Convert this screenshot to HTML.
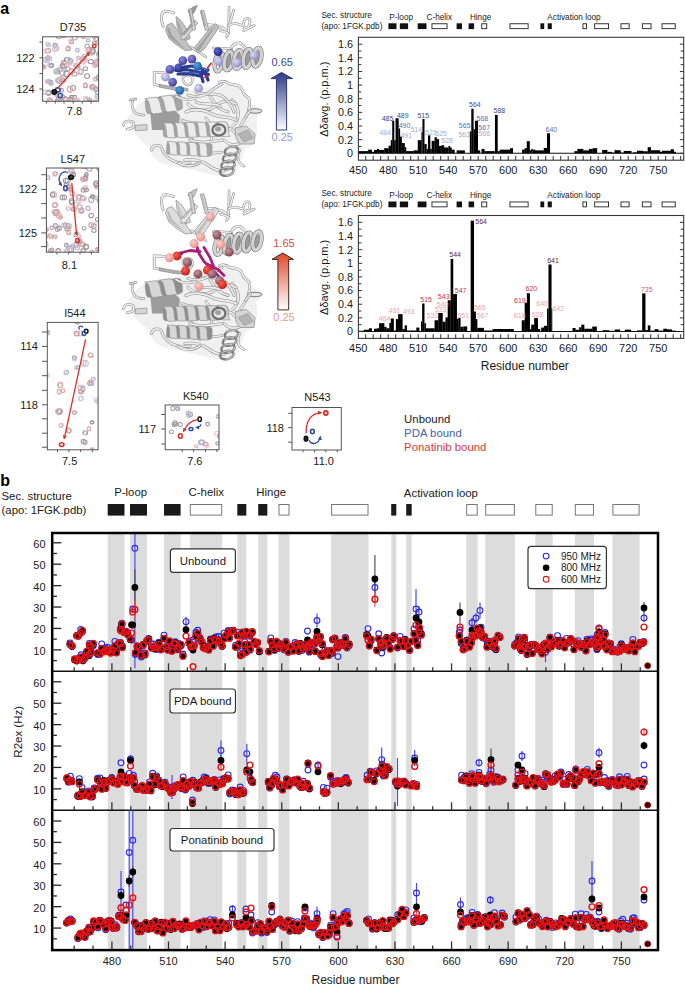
<!DOCTYPE html>
<html><head><meta charset="utf-8"><title>Figure</title>
<style>
html,body{margin:0;padding:0;background:#fff;}
body{width:685px;height:986px;overflow:hidden;position:relative;}
svg{position:absolute;left:0;top:0;display:block;}
text{font-family:"Liberation Sans", sans-serif;}
</style></head><body>
<svg width="685" height="986" viewBox="0 0 685 986" font-family="Liberation Sans, sans-serif">
<defs><radialGradient id="sbd" cx="0.38" cy="0.35" r="0.7"><stop offset="0" stop-color="#5a68c8"/><stop offset="1" stop-color="#1c2878"/></radialGradient><radialGradient id="sbl" cx="0.38" cy="0.35" r="0.7"><stop offset="0" stop-color="#dcdcf4"/><stop offset="1" stop-color="#8c8cc8"/></radialGradient><radialGradient id="sbm" cx="0.38" cy="0.35" r="0.7"><stop offset="0" stop-color="#8a8ad8"/><stop offset="1" stop-color="#38389a"/></radialGradient><radialGradient id="sbt" cx="0.38" cy="0.35" r="0.7"><stop offset="0" stop-color="#58a0e0"/><stop offset="1" stop-color="#14589e"/></radialGradient><radialGradient id="srp" cx="0.38" cy="0.35" r="0.7"><stop offset="0" stop-color="#ffd0cc"/><stop offset="1" stop-color="#e08a84"/></radialGradient><radialGradient id="srm" cx="0.38" cy="0.35" r="0.7"><stop offset="0" stop-color="#c8949a"/><stop offset="1" stop-color="#7a3e4e"/></radialGradient><radialGradient id="srr" cx="0.38" cy="0.35" r="0.7"><stop offset="0" stop-color="#ff6050"/><stop offset="1" stop-color="#c01818"/></radialGradient></defs>
<g transform="translate(0,0)">
<path d="M128 118 C134 104, 146 98, 160 96 C180 92, 200 90, 222 84 C236 82, 248 92, 252 104 C262 108, 264 114, 256 118 C258 130, 258 144, 246 148 C240 160, 238 174, 228 177 C210 176, 190 168, 172 166 C158 164, 150 156, 150 148 C140 140, 130 132, 128 118 Z" fill="#f0f0f0"/>
<path d="M232 100 C238 106, 240 114, 236 122 C232 128, 226 130, 220 126" fill="none" stroke="#8c8c8c" stroke-width="3.1" stroke-linecap="round" stroke-linejoin="round"/><path d="M232 100 C238 106, 240 114, 236 122 C232 128, 226 130, 220 126" fill="none" stroke="#ededed" stroke-width="2" stroke-linecap="round" stroke-linejoin="round"/>
<path d="M200 130 C206 136, 214 136, 220 132 C226 126, 232 128, 236 134" fill="none" stroke="#8c8c8c" stroke-width="2.9" stroke-linecap="round" stroke-linejoin="round"/><path d="M200 130 C206 136, 214 136, 220 132 C226 126, 232 128, 236 134" fill="none" stroke="#ededed" stroke-width="1.8" stroke-linecap="round" stroke-linejoin="round"/>
<path d="M188 104 C196 112, 208 112, 216 106 C222 100, 230 100, 236 104" fill="none" stroke="#8c8c8c" stroke-width="3.1" stroke-linecap="round" stroke-linejoin="round"/><path d="M188 104 C196 112, 208 112, 216 106 C222 100, 230 100, 236 104" fill="none" stroke="#ededed" stroke-width="2" stroke-linecap="round" stroke-linejoin="round"/>
<path d="M210 96 C214 104, 220 110, 228 112" fill="none" stroke="#8c8c8c" stroke-width="2.9" stroke-linecap="round" stroke-linejoin="round"/><path d="M210 96 C214 104, 220 110, 228 112" fill="none" stroke="#ededed" stroke-width="1.8" stroke-linecap="round" stroke-linejoin="round"/>
<path d="M224 140 C230 146, 236 146, 242 142" fill="none" stroke="#8c8c8c" stroke-width="2.9" stroke-linecap="round" stroke-linejoin="round"/><path d="M224 140 C230 146, 236 146, 242 142" fill="none" stroke="#ededed" stroke-width="1.8" stroke-linecap="round" stroke-linejoin="round"/>
<path d="M186 134 C192 140, 198 146, 206 146" fill="none" stroke="#8c8c8c" stroke-width="2.7" stroke-linecap="round" stroke-linejoin="round"/><path d="M186 134 C192 140, 198 146, 206 146" fill="none" stroke="#ededed" stroke-width="1.6" stroke-linecap="round" stroke-linejoin="round"/>
<path d="M240 150 C236 156, 238 164, 244 166" fill="none" stroke="#8c8c8c" stroke-width="2.7" stroke-linecap="round" stroke-linejoin="round"/><path d="M240 150 C236 156, 238 164, 244 166" fill="none" stroke="#ededed" stroke-width="1.6" stroke-linecap="round" stroke-linejoin="round"/>
<path d="M150 110 C160 106, 176 108, 180 116 L178 130 L152 130 Z" fill="#9c9c9c"/>
<path d="M185 160 C196 159, 204 162, 208 165 C214 170, 218 171, 224 171" fill="none" stroke="#8c8c8c" stroke-width="3.1" stroke-linecap="round" stroke-linejoin="round"/><path d="M185 160 C196 159, 204 162, 208 165 C214 170, 218 171, 224 171" fill="none" stroke="#ededed" stroke-width="2" stroke-linecap="round" stroke-linejoin="round"/>
<path d="M151.5 150 C152 146, 156 144, 161 146.5 C163 152, 166 157, 170 159 C176 163, 182 164, 190 162.7" fill="none" stroke="#8c8c8c" stroke-width="2.9" stroke-linecap="round" stroke-linejoin="round"/><path d="M151.5 150 C152 146, 156 144, 161 146.5 C163 152, 166 157, 170 159 C176 163, 182 164, 190 162.7" fill="none" stroke="#ededed" stroke-width="1.8" stroke-linecap="round" stroke-linejoin="round"/>
<path d="M178 163 C186 168, 196 166, 200 162" fill="none" stroke="#8c8c8c" stroke-width="2.7" stroke-linecap="round" stroke-linejoin="round"/><path d="M178 163 C186 168, 196 166, 200 162" fill="none" stroke="#ededed" stroke-width="1.6" stroke-linecap="round" stroke-linejoin="round"/>
<path d="M123.5 125.4 C124 121, 128 120, 133 122 C135 126, 134 129, 127 129" fill="none" stroke="#8c8c8c" stroke-width="2.7" stroke-linecap="round" stroke-linejoin="round"/><path d="M123.5 125.4 C124 121, 128 120, 133 122 C135 126, 134 129, 127 129" fill="none" stroke="#ededed" stroke-width="1.6" stroke-linecap="round" stroke-linejoin="round"/>
<path d="M132.8 100.8 C131 105, 133 110, 135 112.5 C138 115, 141 115, 144 115" fill="none" stroke="#8c8c8c" stroke-width="2.7" stroke-linecap="round" stroke-linejoin="round"/><path d="M132.8 100.8 C131 105, 133 110, 135 112.5 C138 115, 141 115, 144 115" fill="none" stroke="#ededed" stroke-width="1.6" stroke-linecap="round" stroke-linejoin="round"/>
<path d="M130 100 L136 99" fill="none" stroke="#8c8c8c" stroke-width="2.3" stroke-linecap="round" stroke-linejoin="round"/><path d="M130 100 L136 99" fill="none" stroke="#ededed" stroke-width="1.2" stroke-linecap="round" stroke-linejoin="round"/>
<path d="M135 125.4 L146.9 124.5 L147 130 L135.5 130.5 Z" fill="#d6d6d6" stroke="#8a8a8a" stroke-width="0.7" stroke-linejoin="round"/>
<path d="M186 112 C194 108, 204 110, 212 114 C220 118, 228 116, 236 120" fill="none" stroke="#8c8c8c" stroke-width="3.1" stroke-linecap="round" stroke-linejoin="round"/><path d="M186 112 C194 108, 204 110, 212 114 C220 118, 228 116, 236 120" fill="none" stroke="#ededed" stroke-width="2" stroke-linecap="round" stroke-linejoin="round"/>
<path d="M182 120 C190 124, 200 122, 208 126" fill="none" stroke="#8c8c8c" stroke-width="2.9" stroke-linecap="round" stroke-linejoin="round"/><path d="M182 120 C190 124, 200 122, 208 126" fill="none" stroke="#ededed" stroke-width="1.8" stroke-linecap="round" stroke-linejoin="round"/>
<path d="M196 102 C204 106, 212 102, 220 106" fill="none" stroke="#8c8c8c" stroke-width="2.9" stroke-linecap="round" stroke-linejoin="round"/><path d="M196 102 C204 106, 212 102, 220 106" fill="none" stroke="#ededed" stroke-width="1.8" stroke-linecap="round" stroke-linejoin="round"/>
<path d="M206 118 C212 126, 214 136, 210 142" fill="none" stroke="#8c8c8c" stroke-width="2.9" stroke-linecap="round" stroke-linejoin="round"/><path d="M206 118 C212 126, 214 136, 210 142" fill="none" stroke="#ededed" stroke-width="1.8" stroke-linecap="round" stroke-linejoin="round"/>
<path d="M190 140 C200 144, 212 142, 222 140" fill="none" stroke="#8c8c8c" stroke-width="2.9" stroke-linecap="round" stroke-linejoin="round"/><path d="M190 140 C200 144, 212 142, 222 140" fill="none" stroke="#ededed" stroke-width="1.8" stroke-linecap="round" stroke-linejoin="round"/>
<path d="M200 156 C206 152, 214 154, 222 152" fill="none" stroke="#8c8c8c" stroke-width="2.7" stroke-linecap="round" stroke-linejoin="round"/><path d="M200 156 C206 152, 214 154, 222 152" fill="none" stroke="#ededed" stroke-width="1.6" stroke-linecap="round" stroke-linejoin="round"/>
<path d="M196 92 C204 96, 214 92, 222 96 C228 100, 232 106, 234 112" fill="none" stroke="#8c8c8c" stroke-width="2.9" stroke-linecap="round" stroke-linejoin="round"/><path d="M196 92 C204 96, 214 92, 222 96 C228 100, 232 106, 234 112" fill="none" stroke="#ededed" stroke-width="1.8" stroke-linecap="round" stroke-linejoin="round"/>
<path d="M219.3 82.6 C222 81, 226 81, 228.5 83.6 C232 85, 238 84, 240.8 87.7 C243 90, 243 93, 243.8 93.8 C246 96, 249 97, 249.5 100 C250 104, 249 110, 247.9 113.2 C246 117, 244 120, 240.8 125" fill="none" stroke="#8c8c8c" stroke-width="2.9" stroke-linecap="round" stroke-linejoin="round"/><path d="M219.3 82.6 C222 81, 226 81, 228.5 83.6 C232 85, 238 84, 240.8 87.7 C243 90, 243 93, 243.8 93.8 C246 96, 249 97, 249.5 100 C250 104, 249 110, 247.9 113.2 C246 117, 244 120, 240.8 125" fill="none" stroke="#ededed" stroke-width="1.8" stroke-linecap="round" stroke-linejoin="round"/>
<ellipse cx="255" cy="111" rx="7" ry="2.2" fill="#e6e6e6" stroke="#777" stroke-width="1"/>
<path d="M245.7 117 L250.4 110" fill="none" stroke="#8c8c8c" stroke-width="2.5" stroke-linecap="round" stroke-linejoin="round"/><path d="M245.7 117 L250.4 110" fill="none" stroke="#ededed" stroke-width="1.4" stroke-linecap="round" stroke-linejoin="round"/>
<g transform="translate(163.2,130.5) rotate(-1.33)"><rect x="0" y="-6.81" width="64.82" height="13.62" rx="2.96" fill="#a6a6a6" stroke="#8e8e8e" stroke-width="0.6"/><path d="M0 -7.4 C4.86 -5.92 1.62 5.92 4.86 7.4 L12.86 7.4 C9.61 5.92 12.86 -5.92 7.99 -7.4 Z" fill="#ebebeb" stroke="#8e8e8e" stroke-width="0.6"/><path d="M10.8 -7.4 C15.66 -5.92 12.42 5.92 15.66 7.4 L23.66 7.4 C20.42 5.92 23.66 -5.92 18.8 -7.4 Z" fill="#ebebeb" stroke="#8e8e8e" stroke-width="0.6"/><path d="M21.61 -7.4 C26.47 -5.92 23.23 5.92 26.47 7.4 L34.46 7.4 C31.22 5.92 34.46 -5.92 29.6 -7.4 Z" fill="#ebebeb" stroke="#8e8e8e" stroke-width="0.6"/><path d="M32.41 -7.4 C37.27 -5.92 34.03 5.92 37.27 7.4 L45.26 7.4 C42.02 5.92 45.26 -5.92 40.4 -7.4 Z" fill="#ebebeb" stroke="#8e8e8e" stroke-width="0.6"/><path d="M43.21 -7.4 C48.07 -5.92 44.83 5.92 48.07 7.4 L56.07 7.4 C52.83 5.92 56.07 -5.92 51.21 -7.4 Z" fill="#ebebeb" stroke="#8e8e8e" stroke-width="0.6"/><path d="M54.01 -7.4 C58.88 -5.92 55.63 5.92 58.88 7.4 L66.87 7.4 C63.63 5.92 66.87 -5.92 62.01 -7.4 Z" fill="#ebebeb" stroke="#8e8e8e" stroke-width="0.6"/></g>
<g transform="translate(166.7,148) rotate(2.53)"><rect x="0" y="-6.07" width="45.34" height="12.14" rx="2.64" fill="#a6a6a6" stroke="#8e8e8e" stroke-width="0.6"/><path d="M0 -6.6 C4.53 -5.28 1.51 5.28 4.53 6.6 L11.99 6.6 C8.97 5.28 11.99 -5.28 7.46 -6.6 Z" fill="#ebebeb" stroke="#8e8e8e" stroke-width="0.6"/><path d="M10.08 -6.6 C14.61 -5.28 11.59 5.28 14.61 6.6 L22.07 6.6 C19.04 5.28 22.07 -5.28 17.53 -6.6 Z" fill="#ebebeb" stroke="#8e8e8e" stroke-width="0.6"/><path d="M20.15 -6.6 C24.69 -5.28 21.66 5.28 24.69 6.6 L32.14 6.6 C29.12 5.28 32.14 -5.28 27.61 -6.6 Z" fill="#ebebeb" stroke="#8e8e8e" stroke-width="0.6"/><path d="M30.23 -6.6 C34.76 -5.28 31.74 5.28 34.76 6.6 L42.22 6.6 C39.2 5.28 42.22 -5.28 37.69 -6.6 Z" fill="#ebebeb" stroke="#8e8e8e" stroke-width="0.6"/></g>
<g transform="translate(145.7,106.7) rotate(-7.38)"><rect x="0" y="-7.54" width="36.6" height="15.09" rx="3.28" fill="#a6a6a6" stroke="#8e8e8e" stroke-width="0.6"/><path d="M0 -8.2 C6.59 -6.56 2.2 6.56 6.59 8.2 L17.42 8.2 C13.03 6.56 17.42 -6.56 10.83 -8.2 Z" fill="#ebebeb" stroke="#8e8e8e" stroke-width="0.6"/><path d="M14.64 -8.2 C21.23 -6.56 16.84 6.56 21.23 8.2 L32.06 8.2 C27.67 6.56 32.06 -6.56 25.48 -8.2 Z" fill="#ebebeb" stroke="#8e8e8e" stroke-width="0.6"/></g>
<path d="M235 128 L246 126 L255 134 L254 144 L240 144 L236 138 Z" fill="#d4d4d4" stroke="#8a8a8a" stroke-width="0.7" stroke-linejoin="round"/>
<path d="M238 134 L248 130 L253 138 L244 142 Z" fill="#b4b4b4" stroke="#999" stroke-width="0.7" stroke-linejoin="round"/>
<ellipse cx="218.9" cy="129.9" rx="6.5" ry="5.6" fill="#e4e4e4" stroke="#6e6e6e" stroke-width="2.2"/>
<ellipse cx="218" cy="129" rx="3" ry="2.4" fill="#a0a0a0"/>
<ellipse cx="231.5" cy="151" rx="6.8" ry="4.2" transform="rotate(-12 231.5 151)" fill="none" stroke="#7e7e7e" stroke-width="2.4"/><ellipse cx="231.5" cy="151" rx="6.8" ry="4.2" transform="rotate(-12 231.5 151)" fill="none" stroke="#dcdcdc" stroke-width="0.84" stroke-dasharray="10.2 10.88"/><ellipse cx="229.6" cy="158" rx="6.8" ry="4.2" transform="rotate(-12 229.6 158)" fill="none" stroke="#7e7e7e" stroke-width="2.4"/><ellipse cx="229.6" cy="158" rx="6.8" ry="4.2" transform="rotate(-12 229.6 158)" fill="none" stroke="#dcdcdc" stroke-width="0.84" stroke-dasharray="10.2 10.88"/><ellipse cx="228" cy="165" rx="6.8" ry="4.2" transform="rotate(-12 228 165)" fill="none" stroke="#7e7e7e" stroke-width="2.4"/><ellipse cx="228" cy="165" rx="6.8" ry="4.2" transform="rotate(-12 228 165)" fill="none" stroke="#dcdcdc" stroke-width="0.84" stroke-dasharray="10.2 10.88"/><ellipse cx="226.8" cy="171.5" rx="6.8" ry="4.2" transform="rotate(-12 226.8 171.5)" fill="none" stroke="#7e7e7e" stroke-width="2.4"/><ellipse cx="226.8" cy="171.5" rx="6.8" ry="4.2" transform="rotate(-12 226.8 171.5)" fill="none" stroke="#dcdcdc" stroke-width="0.84" stroke-dasharray="10.2 10.88"/>
<path d="M165.4 72.9 L154.2 72.4 L154.2 84.6 L160.3 85.7" fill="none" stroke="#8c8c8c" stroke-width="2.7" stroke-linecap="round" stroke-linejoin="round"/><path d="M165.4 72.9 L154.2 72.4 L154.2 84.6 L160.3 85.7" fill="none" stroke="#ededed" stroke-width="1.6" stroke-linecap="round" stroke-linejoin="round"/>
<path d="M159.3 84.4 L175.7 87.2 L188 88.4 L188 91 L175.7 90.2 L159.3 87.2 Z" fill="#b0b0b0" stroke="#8a8a8a" stroke-width="0.7" stroke-linejoin="round"/>
<path d="M184 82 C181 78, 184 75, 188 75 C193 75, 194 80, 191 84 C188 86, 185 85, 184 82" fill="none" stroke="#8c8c8c" stroke-width="2.3" stroke-linecap="round" stroke-linejoin="round"/><path d="M184 82 C181 78, 184 75, 188 75 C193 75, 194 80, 191 84 C188 86, 185 85, 184 82" fill="none" stroke="#ededed" stroke-width="1.2" stroke-linecap="round" stroke-linejoin="round"/>
<path d="M188 95 C196 98, 204 96, 210 92 C214 88, 218 86, 222 84" fill="none" stroke="#8c8c8c" stroke-width="2.9" stroke-linecap="round" stroke-linejoin="round"/><path d="M188 95 C196 98, 204 96, 210 92 C214 88, 218 86, 222 84" fill="none" stroke="#ededed" stroke-width="1.8" stroke-linecap="round" stroke-linejoin="round"/>
<path d="M176 96 C182 100, 190 100, 196 98" fill="none" stroke="#8c8c8c" stroke-width="2.7" stroke-linecap="round" stroke-linejoin="round"/><path d="M176 96 C182 100, 190 100, 196 98" fill="none" stroke="#ededed" stroke-width="1.6" stroke-linecap="round" stroke-linejoin="round"/>
<path d="M163.1 26.3 C161 20, 161.5 15, 162.3 13.1 C164 11, 166 11, 167.5 11.4 C170 11.5, 172 12.2, 173.6 13.1" fill="none" stroke="#8c8c8c" stroke-width="2.9" stroke-linecap="round" stroke-linejoin="round"/><path d="M163.1 26.3 C161 20, 161.5 15, 162.3 13.1 C164 11, 166 11, 167.5 11.4 C170 11.5, 172 12.2, 173.6 13.1" fill="none" stroke="#ededed" stroke-width="1.8" stroke-linecap="round" stroke-linejoin="round"/>
<path d="M202 12.3 C203 14, 204 16, 204 16.3 C205 20, 205 23, 205.1 24.5 C208 25, 211 25, 214.3 25.5 C218 26, 220 27, 222.5 27.6 C225 29, 226 30, 227.6 31.7" fill="none" stroke="#8c8c8c" stroke-width="2.9" stroke-linecap="round" stroke-linejoin="round"/><path d="M202 12.3 C203 14, 204 16, 204 16.3 C205 20, 205 23, 205.1 24.5 C208 25, 211 25, 214.3 25.5 C218 26, 220 27, 222.5 27.6 C225 29, 226 30, 227.6 31.7" fill="none" stroke="#ededed" stroke-width="1.8" stroke-linecap="round" stroke-linejoin="round"/>
<path d="M229.1 7.2 L228.6 32.7" fill="none" stroke="#8c8c8c" stroke-width="2.6" stroke-linecap="round" stroke-linejoin="round"/><path d="M229.1 7.2 L228.6 32.7" fill="none" stroke="#ededed" stroke-width="1.5" stroke-linecap="round" stroke-linejoin="round"/>
<path d="M233.7 10.2 L229.6 24.5" fill="none" stroke="#8c8c8c" stroke-width="2.6" stroke-linecap="round" stroke-linejoin="round"/><path d="M233.7 10.2 L229.6 24.5" fill="none" stroke="#ededed" stroke-width="1.5" stroke-linecap="round" stroke-linejoin="round"/>
<path d="M228.6 25.5 C231 24, 233 23.5, 235.8 23.5 C238 24, 241 25, 242.9 25.5 C244 23, 244 20, 245 19.4 C246 18.5, 247 18, 248 18.4 C249.5 19, 250 20, 250 21.5 C250 24, 249 26, 248 26.6 C247 27, 246 27, 245 27.6 C244 29, 244 30, 243.9 30.7 C247 29, 251 27, 254.2 25.5" fill="none" stroke="#8c8c8c" stroke-width="2.6" stroke-linecap="round" stroke-linejoin="round"/><path d="M228.6 25.5 C231 24, 233 23.5, 235.8 23.5 C238 24, 241 25, 242.9 25.5 C244 23, 244 20, 245 19.4 C246 18.5, 247 18, 248 18.4 C249.5 19, 250 20, 250 21.5 C250 24, 249 26, 248 26.6 C247 27, 246 27, 245 27.6 C244 29, 244 30, 243.9 30.7 C247 29, 251 27, 254.2 25.5" fill="none" stroke="#ededed" stroke-width="1.5" stroke-linecap="round" stroke-linejoin="round"/>
<path d="M220.4 30.7 C224 31, 226 32, 228.6 33.7 C228 35, 227 36, 226.6 36.8" fill="none" stroke="#8c8c8c" stroke-width="2.6" stroke-linecap="round" stroke-linejoin="round"/><path d="M220.4 30.7 C224 31, 226 32, 228.6 33.7 C228 35, 227 36, 226.6 36.8" fill="none" stroke="#ededed" stroke-width="1.5" stroke-linecap="round" stroke-linejoin="round"/>
<path d="M230.7 51.1 C231 48, 233 45, 234.7 43.9 C236 43, 238 42.8, 239.9 42.9 C242 44, 244 46, 245 48 C246 50, 246.5 51, 247 52.1" fill="none" stroke="#8c8c8c" stroke-width="2.9" stroke-linecap="round" stroke-linejoin="round"/><path d="M230.7 51.1 C231 48, 233 45, 234.7 43.9 C236 43, 238 42.8, 239.9 42.9 C242 44, 244 46, 245 48 C246 50, 246.5 51, 247 52.1" fill="none" stroke="#ededed" stroke-width="1.8" stroke-linecap="round" stroke-linejoin="round"/>
<path d="M213.3 48 C220 48, 226 48.5, 230.7 49" fill="none" stroke="#8c8c8c" stroke-width="2.6" stroke-linecap="round" stroke-linejoin="round"/><path d="M213.3 48 C220 48, 226 48.5, 230.7 49" fill="none" stroke="#ededed" stroke-width="1.5" stroke-linecap="round" stroke-linejoin="round"/>
<path d="M191.2 47.3 C196 50, 202 54, 206 56.9" fill="none" stroke="#8c8c8c" stroke-width="2.5" stroke-linecap="round" stroke-linejoin="round"/><path d="M191.2 47.3 C196 50, 202 54, 206 56.9" fill="none" stroke="#ededed" stroke-width="1.4" stroke-linecap="round" stroke-linejoin="round"/>
<path d="M187.7 11.4 L192.9 7 L197.3 5.3 L196 8.5 L193.8 13.1 L190 13.5 Z" fill="#9a9a9a" stroke="#8a8a8a" stroke-width="0.7" stroke-linejoin="round"/>
<path d="M191.2 13.1 L192.9 21.9" fill="none" stroke="#8c8c8c" stroke-width="2.5" stroke-linecap="round" stroke-linejoin="round"/><path d="M191.2 13.1 L192.9 21.9" fill="none" stroke="#ededed" stroke-width="1.4" stroke-linecap="round" stroke-linejoin="round"/>
<path d="M167 25 L172 23 L180 33 L188 44 L192 50 L185 50.5 L176 44.5 L169 38.5 L165.5 30 Z" fill="#c2c2c2" stroke="#8a8a8a" stroke-width="0.7" stroke-linejoin="round"/>
<path d="M167 27.5 L169 37 L177 43.5 L186 49.8 L179 43 L172 35.5 L169.5 28.5 Z" fill="#a0a0a0" stroke="none" stroke-width="0" stroke-linejoin="round"/>
<path d="M176 16.5 L181 20.5 L188 31 L190.5 38.5 L185.5 40.5 L180 34 L177 26 Z" fill="#c2c2c2" stroke="#8a8a8a" stroke-width="0.7" stroke-linejoin="round"/>
<path d="M177 19 L178.5 27 L183 35 L186 39.5 L182 31 L179 23 Z" fill="#a0a0a0" stroke="none" stroke-width="0" stroke-linejoin="round"/>
<path d="M194.14 19.99 L182.46 34.39 L181.34 33.48 L181 40 L187.31 38.32 L186.19 37.41 L197.86 23.01 Z" fill="#d6d6d6" stroke="#888" stroke-width="0.7" stroke-linejoin="round"/>
<path d="M194.32 20.14 L182.65 34.54 L184.14 35.75 L195.81 21.35 Z" fill="#a0a0a0"/>
<path d="M194.5 47.5 L210 28 L215.5 23.5 L219 27.5 L204 49.5 L198 53 Z" fill="#c2c2c2" stroke="#8a8a8a" stroke-width="0.7" stroke-linejoin="round"/>
<path d="M196 49.5 L211 30 L216 25.5 L206 40 L199.5 50.5 Z" fill="#a0a0a0" stroke="none" stroke-width="0" stroke-linejoin="round"/>
<path d="M200.3 10.93 L205.3 30.43 L208.7 29.57 L203.7 10.07 Z" fill="#d2d2d2" stroke="#888" stroke-width="0.7" stroke-linejoin="round"/>
<path d="M200.47 10.89 L204.52 26.66 L205.87 26.31 L201.83 10.54 Z" fill="#a0a0a0"/>
<path d="M188.43 9.3 L192.43 30.3 L195.57 29.7 L191.57 8.7 Z" fill="#d8d8d8" stroke="#888" stroke-width="0.7" stroke-linejoin="round"/>
<path d="M188.59 9.27 L191.93 26.81 L193.18 26.57 L189.84 9.03 Z" fill="#a0a0a0"/>
<g transform="translate(219,62) rotate(-7.13)"><rect x="-0.96" y="-7.99" width="42.23" height="15.98" rx="4.7" fill="#9c9c9c"/><ellipse cx="0" cy="0" rx="4.03" ry="9.4" transform="rotate(18 0 0)" fill="none" stroke="#6c6c6c" stroke-width="4.5"/><ellipse cx="0" cy="0" rx="4.03" ry="9.4" transform="rotate(18 0 0)" fill="none" stroke="#d2d2d2" stroke-width="3.4"/><ellipse cx="9.6" cy="0" rx="4.03" ry="9.4" transform="rotate(18 9.6 0)" fill="none" stroke="#6c6c6c" stroke-width="4.5"/><ellipse cx="9.6" cy="0" rx="4.03" ry="9.4" transform="rotate(18 9.6 0)" fill="none" stroke="#d2d2d2" stroke-width="3.4"/><ellipse cx="19.2" cy="0" rx="4.03" ry="9.4" transform="rotate(18 19.2 0)" fill="none" stroke="#6c6c6c" stroke-width="4.5"/><ellipse cx="19.2" cy="0" rx="4.03" ry="9.4" transform="rotate(18 19.2 0)" fill="none" stroke="#d2d2d2" stroke-width="3.4"/><ellipse cx="28.79" cy="0" rx="4.03" ry="9.4" transform="rotate(18 28.79 0)" fill="none" stroke="#6c6c6c" stroke-width="4.5"/><ellipse cx="28.79" cy="0" rx="4.03" ry="9.4" transform="rotate(18 28.79 0)" fill="none" stroke="#d2d2d2" stroke-width="3.4"/><ellipse cx="38.39" cy="0" rx="4.03" ry="9.4" transform="rotate(18 38.39 0)" fill="none" stroke="#6c6c6c" stroke-width="4.5"/><ellipse cx="38.39" cy="0" rx="4.03" ry="9.4" transform="rotate(18 38.39 0)" fill="none" stroke="#d2d2d2" stroke-width="3.4"/></g>
<g stroke-linecap="round" stroke-linejoin="round" fill="none"><path d="M175.7 70.3 L186 69.5 L196 71.5 L208.4 74.4 M200 67 L204 72 L208 70 M201 74 L203 81.6 M206 75 L208 80 M178 74 L190 74 L200 76 M184 67 L192 66 L198 68" stroke="#2c3a94" stroke-width="3.2"/><path d="M180 72 L196 73 M196 70 L204 68 L208 71" stroke="#4a58b0" stroke-width="1.6"/><path d="M207.5 68 L211 63.5 M205 77 L208 76" stroke="#c8303e" stroke-width="1.8"/></g>
<circle cx="218" cy="51.6" r="4.4" fill="url(#sbd)"/>
<circle cx="218.7" cy="61.3" r="4.4" fill="url(#sbl)"/>
<circle cx="236.8" cy="62.8" r="4.4" fill="url(#sbl)"/>
<circle cx="253.9" cy="55.4" r="4.4" fill="url(#sbl)"/>
<circle cx="182.8" cy="60.6" r="4.4" fill="url(#sbm)"/>
<circle cx="192" cy="59.1" r="4.4" fill="url(#sbm)"/>
<circle cx="197.6" cy="66.2" r="4.4" fill="url(#sbt)"/>
<circle cx="178.7" cy="67.8" r="4.4" fill="url(#sbd)"/>
<circle cx="170" cy="69.3" r="4.4" fill="url(#sbm)"/>
<circle cx="165.4" cy="77" r="4.4" fill="url(#sbl)"/>
<circle cx="172.6" cy="82.1" r="4.4" fill="url(#sbm)"/>
<circle cx="179.7" cy="90.3" r="4.4" fill="url(#sbt)"/>
<circle cx="198.6" cy="88.2" r="4.4" fill="url(#sbl)"/>
</g>
<g transform="translate(0,183.5)">
<path d="M128 118 C134 104, 146 98, 160 96 C180 92, 200 90, 222 84 C236 82, 248 92, 252 104 C262 108, 264 114, 256 118 C258 130, 258 144, 246 148 C240 160, 238 174, 228 177 C210 176, 190 168, 172 166 C158 164, 150 156, 150 148 C140 140, 130 132, 128 118 Z" fill="#f0f0f0"/>
<path d="M232 100 C238 106, 240 114, 236 122 C232 128, 226 130, 220 126" fill="none" stroke="#8c8c8c" stroke-width="3.1" stroke-linecap="round" stroke-linejoin="round"/><path d="M232 100 C238 106, 240 114, 236 122 C232 128, 226 130, 220 126" fill="none" stroke="#ededed" stroke-width="2" stroke-linecap="round" stroke-linejoin="round"/>
<path d="M200 130 C206 136, 214 136, 220 132 C226 126, 232 128, 236 134" fill="none" stroke="#8c8c8c" stroke-width="2.9" stroke-linecap="round" stroke-linejoin="round"/><path d="M200 130 C206 136, 214 136, 220 132 C226 126, 232 128, 236 134" fill="none" stroke="#ededed" stroke-width="1.8" stroke-linecap="round" stroke-linejoin="round"/>
<path d="M188 104 C196 112, 208 112, 216 106 C222 100, 230 100, 236 104" fill="none" stroke="#8c8c8c" stroke-width="3.1" stroke-linecap="round" stroke-linejoin="round"/><path d="M188 104 C196 112, 208 112, 216 106 C222 100, 230 100, 236 104" fill="none" stroke="#ededed" stroke-width="2" stroke-linecap="round" stroke-linejoin="round"/>
<path d="M210 96 C214 104, 220 110, 228 112" fill="none" stroke="#8c8c8c" stroke-width="2.9" stroke-linecap="round" stroke-linejoin="round"/><path d="M210 96 C214 104, 220 110, 228 112" fill="none" stroke="#ededed" stroke-width="1.8" stroke-linecap="round" stroke-linejoin="round"/>
<path d="M224 140 C230 146, 236 146, 242 142" fill="none" stroke="#8c8c8c" stroke-width="2.9" stroke-linecap="round" stroke-linejoin="round"/><path d="M224 140 C230 146, 236 146, 242 142" fill="none" stroke="#ededed" stroke-width="1.8" stroke-linecap="round" stroke-linejoin="round"/>
<path d="M186 134 C192 140, 198 146, 206 146" fill="none" stroke="#8c8c8c" stroke-width="2.7" stroke-linecap="round" stroke-linejoin="round"/><path d="M186 134 C192 140, 198 146, 206 146" fill="none" stroke="#ededed" stroke-width="1.6" stroke-linecap="round" stroke-linejoin="round"/>
<path d="M240 150 C236 156, 238 164, 244 166" fill="none" stroke="#8c8c8c" stroke-width="2.7" stroke-linecap="round" stroke-linejoin="round"/><path d="M240 150 C236 156, 238 164, 244 166" fill="none" stroke="#ededed" stroke-width="1.6" stroke-linecap="round" stroke-linejoin="round"/>
<path d="M150 110 C160 106, 176 108, 180 116 L178 130 L152 130 Z" fill="#9c9c9c"/>
<path d="M185 160 C196 159, 204 162, 208 165 C214 170, 218 171, 224 171" fill="none" stroke="#8c8c8c" stroke-width="3.1" stroke-linecap="round" stroke-linejoin="round"/><path d="M185 160 C196 159, 204 162, 208 165 C214 170, 218 171, 224 171" fill="none" stroke="#ededed" stroke-width="2" stroke-linecap="round" stroke-linejoin="round"/>
<path d="M151.5 150 C152 146, 156 144, 161 146.5 C163 152, 166 157, 170 159 C176 163, 182 164, 190 162.7" fill="none" stroke="#8c8c8c" stroke-width="2.9" stroke-linecap="round" stroke-linejoin="round"/><path d="M151.5 150 C152 146, 156 144, 161 146.5 C163 152, 166 157, 170 159 C176 163, 182 164, 190 162.7" fill="none" stroke="#ededed" stroke-width="1.8" stroke-linecap="round" stroke-linejoin="round"/>
<path d="M178 163 C186 168, 196 166, 200 162" fill="none" stroke="#8c8c8c" stroke-width="2.7" stroke-linecap="round" stroke-linejoin="round"/><path d="M178 163 C186 168, 196 166, 200 162" fill="none" stroke="#ededed" stroke-width="1.6" stroke-linecap="round" stroke-linejoin="round"/>
<path d="M123.5 125.4 C124 121, 128 120, 133 122 C135 126, 134 129, 127 129" fill="none" stroke="#8c8c8c" stroke-width="2.7" stroke-linecap="round" stroke-linejoin="round"/><path d="M123.5 125.4 C124 121, 128 120, 133 122 C135 126, 134 129, 127 129" fill="none" stroke="#ededed" stroke-width="1.6" stroke-linecap="round" stroke-linejoin="round"/>
<path d="M132.8 100.8 C131 105, 133 110, 135 112.5 C138 115, 141 115, 144 115" fill="none" stroke="#8c8c8c" stroke-width="2.7" stroke-linecap="round" stroke-linejoin="round"/><path d="M132.8 100.8 C131 105, 133 110, 135 112.5 C138 115, 141 115, 144 115" fill="none" stroke="#ededed" stroke-width="1.6" stroke-linecap="round" stroke-linejoin="round"/>
<path d="M130 100 L136 99" fill="none" stroke="#8c8c8c" stroke-width="2.3" stroke-linecap="round" stroke-linejoin="round"/><path d="M130 100 L136 99" fill="none" stroke="#ededed" stroke-width="1.2" stroke-linecap="round" stroke-linejoin="round"/>
<path d="M135 125.4 L146.9 124.5 L147 130 L135.5 130.5 Z" fill="#d6d6d6" stroke="#8a8a8a" stroke-width="0.7" stroke-linejoin="round"/>
<path d="M186 112 C194 108, 204 110, 212 114 C220 118, 228 116, 236 120" fill="none" stroke="#8c8c8c" stroke-width="3.1" stroke-linecap="round" stroke-linejoin="round"/><path d="M186 112 C194 108, 204 110, 212 114 C220 118, 228 116, 236 120" fill="none" stroke="#ededed" stroke-width="2" stroke-linecap="round" stroke-linejoin="round"/>
<path d="M182 120 C190 124, 200 122, 208 126" fill="none" stroke="#8c8c8c" stroke-width="2.9" stroke-linecap="round" stroke-linejoin="round"/><path d="M182 120 C190 124, 200 122, 208 126" fill="none" stroke="#ededed" stroke-width="1.8" stroke-linecap="round" stroke-linejoin="round"/>
<path d="M196 102 C204 106, 212 102, 220 106" fill="none" stroke="#8c8c8c" stroke-width="2.9" stroke-linecap="round" stroke-linejoin="round"/><path d="M196 102 C204 106, 212 102, 220 106" fill="none" stroke="#ededed" stroke-width="1.8" stroke-linecap="round" stroke-linejoin="round"/>
<path d="M206 118 C212 126, 214 136, 210 142" fill="none" stroke="#8c8c8c" stroke-width="2.9" stroke-linecap="round" stroke-linejoin="round"/><path d="M206 118 C212 126, 214 136, 210 142" fill="none" stroke="#ededed" stroke-width="1.8" stroke-linecap="round" stroke-linejoin="round"/>
<path d="M190 140 C200 144, 212 142, 222 140" fill="none" stroke="#8c8c8c" stroke-width="2.9" stroke-linecap="round" stroke-linejoin="round"/><path d="M190 140 C200 144, 212 142, 222 140" fill="none" stroke="#ededed" stroke-width="1.8" stroke-linecap="round" stroke-linejoin="round"/>
<path d="M200 156 C206 152, 214 154, 222 152" fill="none" stroke="#8c8c8c" stroke-width="2.7" stroke-linecap="round" stroke-linejoin="round"/><path d="M200 156 C206 152, 214 154, 222 152" fill="none" stroke="#ededed" stroke-width="1.6" stroke-linecap="round" stroke-linejoin="round"/>
<path d="M196 92 C204 96, 214 92, 222 96 C228 100, 232 106, 234 112" fill="none" stroke="#8c8c8c" stroke-width="2.9" stroke-linecap="round" stroke-linejoin="round"/><path d="M196 92 C204 96, 214 92, 222 96 C228 100, 232 106, 234 112" fill="none" stroke="#ededed" stroke-width="1.8" stroke-linecap="round" stroke-linejoin="round"/>
<path d="M219.3 82.6 C222 81, 226 81, 228.5 83.6 C232 85, 238 84, 240.8 87.7 C243 90, 243 93, 243.8 93.8 C246 96, 249 97, 249.5 100 C250 104, 249 110, 247.9 113.2 C246 117, 244 120, 240.8 125" fill="none" stroke="#8c8c8c" stroke-width="2.9" stroke-linecap="round" stroke-linejoin="round"/><path d="M219.3 82.6 C222 81, 226 81, 228.5 83.6 C232 85, 238 84, 240.8 87.7 C243 90, 243 93, 243.8 93.8 C246 96, 249 97, 249.5 100 C250 104, 249 110, 247.9 113.2 C246 117, 244 120, 240.8 125" fill="none" stroke="#ededed" stroke-width="1.8" stroke-linecap="round" stroke-linejoin="round"/>
<ellipse cx="255" cy="111" rx="7" ry="2.2" fill="#e6e6e6" stroke="#777" stroke-width="1"/>
<path d="M245.7 117 L250.4 110" fill="none" stroke="#8c8c8c" stroke-width="2.5" stroke-linecap="round" stroke-linejoin="round"/><path d="M245.7 117 L250.4 110" fill="none" stroke="#ededed" stroke-width="1.4" stroke-linecap="round" stroke-linejoin="round"/>
<g transform="translate(163.2,130.5) rotate(-1.33)"><rect x="0" y="-6.81" width="64.82" height="13.62" rx="2.96" fill="#8e8e8e" stroke="#8e8e8e" stroke-width="0.6"/><path d="M0 -7.4 C4.86 -5.92 1.62 5.92 4.86 7.4 L12.86 7.4 C9.61 5.92 12.86 -5.92 7.99 -7.4 Z" fill="#d6d6d6" stroke="#8e8e8e" stroke-width="0.6"/><path d="M10.8 -7.4 C15.66 -5.92 12.42 5.92 15.66 7.4 L23.66 7.4 C20.42 5.92 23.66 -5.92 18.8 -7.4 Z" fill="#d6d6d6" stroke="#8e8e8e" stroke-width="0.6"/><path d="M21.61 -7.4 C26.47 -5.92 23.23 5.92 26.47 7.4 L34.46 7.4 C31.22 5.92 34.46 -5.92 29.6 -7.4 Z" fill="#d6d6d6" stroke="#8e8e8e" stroke-width="0.6"/><path d="M32.41 -7.4 C37.27 -5.92 34.03 5.92 37.27 7.4 L45.26 7.4 C42.02 5.92 45.26 -5.92 40.4 -7.4 Z" fill="#d6d6d6" stroke="#8e8e8e" stroke-width="0.6"/><path d="M43.21 -7.4 C48.07 -5.92 44.83 5.92 48.07 7.4 L56.07 7.4 C52.83 5.92 56.07 -5.92 51.21 -7.4 Z" fill="#d6d6d6" stroke="#8e8e8e" stroke-width="0.6"/><path d="M54.01 -7.4 C58.88 -5.92 55.63 5.92 58.88 7.4 L66.87 7.4 C63.63 5.92 66.87 -5.92 62.01 -7.4 Z" fill="#d6d6d6" stroke="#8e8e8e" stroke-width="0.6"/></g>
<g transform="translate(166.7,148) rotate(2.53)"><rect x="0" y="-6.07" width="45.34" height="12.14" rx="2.64" fill="#8e8e8e" stroke="#8e8e8e" stroke-width="0.6"/><path d="M0 -6.6 C4.53 -5.28 1.51 5.28 4.53 6.6 L11.99 6.6 C8.97 5.28 11.99 -5.28 7.46 -6.6 Z" fill="#d6d6d6" stroke="#8e8e8e" stroke-width="0.6"/><path d="M10.08 -6.6 C14.61 -5.28 11.59 5.28 14.61 6.6 L22.07 6.6 C19.04 5.28 22.07 -5.28 17.53 -6.6 Z" fill="#d6d6d6" stroke="#8e8e8e" stroke-width="0.6"/><path d="M20.15 -6.6 C24.69 -5.28 21.66 5.28 24.69 6.6 L32.14 6.6 C29.12 5.28 32.14 -5.28 27.61 -6.6 Z" fill="#d6d6d6" stroke="#8e8e8e" stroke-width="0.6"/><path d="M30.23 -6.6 C34.76 -5.28 31.74 5.28 34.76 6.6 L42.22 6.6 C39.2 5.28 42.22 -5.28 37.69 -6.6 Z" fill="#d6d6d6" stroke="#8e8e8e" stroke-width="0.6"/></g>
<g transform="translate(145.7,106.7) rotate(-7.38)"><rect x="0" y="-7.54" width="36.6" height="15.09" rx="3.28" fill="#8e8e8e" stroke="#8e8e8e" stroke-width="0.6"/><path d="M0 -8.2 C6.59 -6.56 2.2 6.56 6.59 8.2 L17.42 8.2 C13.03 6.56 17.42 -6.56 10.83 -8.2 Z" fill="#d6d6d6" stroke="#8e8e8e" stroke-width="0.6"/><path d="M14.64 -8.2 C21.23 -6.56 16.84 6.56 21.23 8.2 L32.06 8.2 C27.67 6.56 32.06 -6.56 25.48 -8.2 Z" fill="#d6d6d6" stroke="#8e8e8e" stroke-width="0.6"/></g>
<path d="M235 128 L246 126 L255 134 L254 144 L240 144 L236 138 Z" fill="#d4d4d4" stroke="#8a8a8a" stroke-width="0.7" stroke-linejoin="round"/>
<path d="M238 134 L248 130 L253 138 L244 142 Z" fill="#b4b4b4" stroke="#999" stroke-width="0.7" stroke-linejoin="round"/>
<ellipse cx="218.9" cy="129.9" rx="6.5" ry="5.6" fill="#e4e4e4" stroke="#6e6e6e" stroke-width="2.2"/>
<ellipse cx="218" cy="129" rx="3" ry="2.4" fill="#a0a0a0"/>
<ellipse cx="231.5" cy="151" rx="6.8" ry="4.2" transform="rotate(-12 231.5 151)" fill="none" stroke="#7e7e7e" stroke-width="2.4"/><ellipse cx="231.5" cy="151" rx="6.8" ry="4.2" transform="rotate(-12 231.5 151)" fill="none" stroke="#dcdcdc" stroke-width="0.84" stroke-dasharray="10.2 10.88"/><ellipse cx="229.6" cy="158" rx="6.8" ry="4.2" transform="rotate(-12 229.6 158)" fill="none" stroke="#7e7e7e" stroke-width="2.4"/><ellipse cx="229.6" cy="158" rx="6.8" ry="4.2" transform="rotate(-12 229.6 158)" fill="none" stroke="#dcdcdc" stroke-width="0.84" stroke-dasharray="10.2 10.88"/><ellipse cx="228" cy="165" rx="6.8" ry="4.2" transform="rotate(-12 228 165)" fill="none" stroke="#7e7e7e" stroke-width="2.4"/><ellipse cx="228" cy="165" rx="6.8" ry="4.2" transform="rotate(-12 228 165)" fill="none" stroke="#dcdcdc" stroke-width="0.84" stroke-dasharray="10.2 10.88"/><ellipse cx="226.8" cy="171.5" rx="6.8" ry="4.2" transform="rotate(-12 226.8 171.5)" fill="none" stroke="#7e7e7e" stroke-width="2.4"/><ellipse cx="226.8" cy="171.5" rx="6.8" ry="4.2" transform="rotate(-12 226.8 171.5)" fill="none" stroke="#dcdcdc" stroke-width="0.84" stroke-dasharray="10.2 10.88"/>
<path d="M165.4 72.9 L154.2 72.4 L154.2 84.6 L160.3 85.7" fill="none" stroke="#8c8c8c" stroke-width="2.7" stroke-linecap="round" stroke-linejoin="round"/><path d="M165.4 72.9 L154.2 72.4 L154.2 84.6 L160.3 85.7" fill="none" stroke="#ededed" stroke-width="1.6" stroke-linecap="round" stroke-linejoin="round"/>
<path d="M159.3 84.4 L175.7 87.2 L188 88.4 L188 91 L175.7 90.2 L159.3 87.2 Z" fill="#b0b0b0" stroke="#8a8a8a" stroke-width="0.7" stroke-linejoin="round"/>
<path d="M184 82 C181 78, 184 75, 188 75 C193 75, 194 80, 191 84 C188 86, 185 85, 184 82" fill="none" stroke="#8c8c8c" stroke-width="2.3" stroke-linecap="round" stroke-linejoin="round"/><path d="M184 82 C181 78, 184 75, 188 75 C193 75, 194 80, 191 84 C188 86, 185 85, 184 82" fill="none" stroke="#ededed" stroke-width="1.2" stroke-linecap="round" stroke-linejoin="round"/>
<path d="M188 95 C196 98, 204 96, 210 92 C214 88, 218 86, 222 84" fill="none" stroke="#8c8c8c" stroke-width="2.9" stroke-linecap="round" stroke-linejoin="round"/><path d="M188 95 C196 98, 204 96, 210 92 C214 88, 218 86, 222 84" fill="none" stroke="#ededed" stroke-width="1.8" stroke-linecap="round" stroke-linejoin="round"/>
<path d="M176 96 C182 100, 190 100, 196 98" fill="none" stroke="#8c8c8c" stroke-width="2.7" stroke-linecap="round" stroke-linejoin="round"/><path d="M176 96 C182 100, 190 100, 196 98" fill="none" stroke="#ededed" stroke-width="1.6" stroke-linecap="round" stroke-linejoin="round"/>
<path d="M163.1 26.3 C161 20, 161.5 15, 162.3 13.1 C164 11, 166 11, 167.5 11.4 C170 11.5, 172 12.2, 173.6 13.1" fill="none" stroke="#8c8c8c" stroke-width="2.9" stroke-linecap="round" stroke-linejoin="round"/><path d="M163.1 26.3 C161 20, 161.5 15, 162.3 13.1 C164 11, 166 11, 167.5 11.4 C170 11.5, 172 12.2, 173.6 13.1" fill="none" stroke="#ededed" stroke-width="1.8" stroke-linecap="round" stroke-linejoin="round"/>
<path d="M202 12.3 C203 14, 204 16, 204 16.3 C205 20, 205 23, 205.1 24.5 C208 25, 211 25, 214.3 25.5 C218 26, 220 27, 222.5 27.6 C225 29, 226 30, 227.6 31.7" fill="none" stroke="#8c8c8c" stroke-width="2.9" stroke-linecap="round" stroke-linejoin="round"/><path d="M202 12.3 C203 14, 204 16, 204 16.3 C205 20, 205 23, 205.1 24.5 C208 25, 211 25, 214.3 25.5 C218 26, 220 27, 222.5 27.6 C225 29, 226 30, 227.6 31.7" fill="none" stroke="#ededed" stroke-width="1.8" stroke-linecap="round" stroke-linejoin="round"/>
<path d="M229.1 7.2 L228.6 32.7" fill="none" stroke="#8c8c8c" stroke-width="2.6" stroke-linecap="round" stroke-linejoin="round"/><path d="M229.1 7.2 L228.6 32.7" fill="none" stroke="#ededed" stroke-width="1.5" stroke-linecap="round" stroke-linejoin="round"/>
<path d="M233.7 10.2 L229.6 24.5" fill="none" stroke="#8c8c8c" stroke-width="2.6" stroke-linecap="round" stroke-linejoin="round"/><path d="M233.7 10.2 L229.6 24.5" fill="none" stroke="#ededed" stroke-width="1.5" stroke-linecap="round" stroke-linejoin="round"/>
<path d="M228.6 25.5 C231 24, 233 23.5, 235.8 23.5 C238 24, 241 25, 242.9 25.5 C244 23, 244 20, 245 19.4 C246 18.5, 247 18, 248 18.4 C249.5 19, 250 20, 250 21.5 C250 24, 249 26, 248 26.6 C247 27, 246 27, 245 27.6 C244 29, 244 30, 243.9 30.7 C247 29, 251 27, 254.2 25.5" fill="none" stroke="#8c8c8c" stroke-width="2.6" stroke-linecap="round" stroke-linejoin="round"/><path d="M228.6 25.5 C231 24, 233 23.5, 235.8 23.5 C238 24, 241 25, 242.9 25.5 C244 23, 244 20, 245 19.4 C246 18.5, 247 18, 248 18.4 C249.5 19, 250 20, 250 21.5 C250 24, 249 26, 248 26.6 C247 27, 246 27, 245 27.6 C244 29, 244 30, 243.9 30.7 C247 29, 251 27, 254.2 25.5" fill="none" stroke="#ededed" stroke-width="1.5" stroke-linecap="round" stroke-linejoin="round"/>
<path d="M220.4 30.7 C224 31, 226 32, 228.6 33.7 C228 35, 227 36, 226.6 36.8" fill="none" stroke="#8c8c8c" stroke-width="2.6" stroke-linecap="round" stroke-linejoin="round"/><path d="M220.4 30.7 C224 31, 226 32, 228.6 33.7 C228 35, 227 36, 226.6 36.8" fill="none" stroke="#ededed" stroke-width="1.5" stroke-linecap="round" stroke-linejoin="round"/>
<path d="M230.7 51.1 C231 48, 233 45, 234.7 43.9 C236 43, 238 42.8, 239.9 42.9 C242 44, 244 46, 245 48 C246 50, 246.5 51, 247 52.1" fill="none" stroke="#8c8c8c" stroke-width="2.9" stroke-linecap="round" stroke-linejoin="round"/><path d="M230.7 51.1 C231 48, 233 45, 234.7 43.9 C236 43, 238 42.8, 239.9 42.9 C242 44, 244 46, 245 48 C246 50, 246.5 51, 247 52.1" fill="none" stroke="#ededed" stroke-width="1.8" stroke-linecap="round" stroke-linejoin="round"/>
<path d="M213.3 48 C220 48, 226 48.5, 230.7 49" fill="none" stroke="#8c8c8c" stroke-width="2.6" stroke-linecap="round" stroke-linejoin="round"/><path d="M213.3 48 C220 48, 226 48.5, 230.7 49" fill="none" stroke="#ededed" stroke-width="1.5" stroke-linecap="round" stroke-linejoin="round"/>
<path d="M191.2 47.3 C196 50, 202 54, 206 56.9" fill="none" stroke="#8c8c8c" stroke-width="2.5" stroke-linecap="round" stroke-linejoin="round"/><path d="M191.2 47.3 C196 50, 202 54, 206 56.9" fill="none" stroke="#ededed" stroke-width="1.4" stroke-linecap="round" stroke-linejoin="round"/>
<path d="M187.7 11.4 L192.9 7 L197.3 5.3 L196 8.5 L193.8 13.1 L190 13.5 Z" fill="#c8c8c8" stroke="#8a8a8a" stroke-width="0.7" stroke-linejoin="round"/>
<path d="M191.2 13.1 L192.9 21.9" fill="none" stroke="#8c8c8c" stroke-width="2.5" stroke-linecap="round" stroke-linejoin="round"/><path d="M191.2 13.1 L192.9 21.9" fill="none" stroke="#ededed" stroke-width="1.4" stroke-linecap="round" stroke-linejoin="round"/>
<path d="M167 25 L172 23 L180 33 L188 44 L192 50 L185 50.5 L176 44.5 L169 38.5 L165.5 30 Z" fill="#dcdcdc" stroke="#8a8a8a" stroke-width="0.7" stroke-linejoin="round"/>
<path d="M167 27.5 L169 37 L177 43.5 L186 49.8 L179 43 L172 35.5 L169.5 28.5 Z" fill="#bdbdbd" stroke="none" stroke-width="0" stroke-linejoin="round"/>
<path d="M176 16.5 L181 20.5 L188 31 L190.5 38.5 L185.5 40.5 L180 34 L177 26 Z" fill="#dcdcdc" stroke="#8a8a8a" stroke-width="0.7" stroke-linejoin="round"/>
<path d="M177 19 L178.5 27 L183 35 L186 39.5 L182 31 L179 23 Z" fill="#bdbdbd" stroke="none" stroke-width="0" stroke-linejoin="round"/>
<path d="M194.14 19.99 L182.46 34.39 L181.34 33.48 L181 40 L187.31 38.32 L186.19 37.41 L197.86 23.01 Z" fill="#e8e8e8" stroke="#888" stroke-width="0.7" stroke-linejoin="round"/>
<path d="M194.32 20.14 L182.65 34.54 L184.14 35.75 L195.81 21.35 Z" fill="#bdbdbd"/>
<path d="M194.5 47.5 L210 28 L215.5 23.5 L219 27.5 L204 49.5 L198 53 Z" fill="#dcdcdc" stroke="#8a8a8a" stroke-width="0.7" stroke-linejoin="round"/>
<path d="M196 49.5 L211 30 L216 25.5 L206 40 L199.5 50.5 Z" fill="#bdbdbd" stroke="none" stroke-width="0" stroke-linejoin="round"/>
<path d="M200.3 10.93 L205.3 30.43 L208.7 29.57 L203.7 10.07 Z" fill="#d2d2d2" stroke="#888" stroke-width="0.7" stroke-linejoin="round"/>
<path d="M200.47 10.89 L204.52 26.66 L205.87 26.31 L201.83 10.54 Z" fill="#bdbdbd"/>
<path d="M188.43 9.3 L192.43 30.3 L195.57 29.7 L191.57 8.7 Z" fill="#d8d8d8" stroke="#888" stroke-width="0.7" stroke-linejoin="round"/>
<path d="M188.59 9.27 L191.93 26.81 L193.18 26.57 L189.84 9.03 Z" fill="#bdbdbd"/>
<g transform="translate(219,62) rotate(-7.13)"><rect x="-0.96" y="-7.99" width="42.23" height="15.98" rx="4.7" fill="#9c9c9c"/><ellipse cx="0" cy="0" rx="4.03" ry="9.4" transform="rotate(18 0 0)" fill="none" stroke="#6c6c6c" stroke-width="4.5"/><ellipse cx="0" cy="0" rx="4.03" ry="9.4" transform="rotate(18 0 0)" fill="none" stroke="#d2d2d2" stroke-width="3.4"/><ellipse cx="9.6" cy="0" rx="4.03" ry="9.4" transform="rotate(18 9.6 0)" fill="none" stroke="#6c6c6c" stroke-width="4.5"/><ellipse cx="9.6" cy="0" rx="4.03" ry="9.4" transform="rotate(18 9.6 0)" fill="none" stroke="#d2d2d2" stroke-width="3.4"/><ellipse cx="19.2" cy="0" rx="4.03" ry="9.4" transform="rotate(18 19.2 0)" fill="none" stroke="#6c6c6c" stroke-width="4.5"/><ellipse cx="19.2" cy="0" rx="4.03" ry="9.4" transform="rotate(18 19.2 0)" fill="none" stroke="#d2d2d2" stroke-width="3.4"/><ellipse cx="28.79" cy="0" rx="4.03" ry="9.4" transform="rotate(18 28.79 0)" fill="none" stroke="#6c6c6c" stroke-width="4.5"/><ellipse cx="28.79" cy="0" rx="4.03" ry="9.4" transform="rotate(18 28.79 0)" fill="none" stroke="#d2d2d2" stroke-width="3.4"/><ellipse cx="38.39" cy="0" rx="4.03" ry="9.4" transform="rotate(18 38.39 0)" fill="none" stroke="#6c6c6c" stroke-width="4.5"/><ellipse cx="38.39" cy="0" rx="4.03" ry="9.4" transform="rotate(18 38.39 0)" fill="none" stroke="#d2d2d2" stroke-width="3.4"/></g>
<g stroke-linecap="round" stroke-linejoin="round" fill="none"><path d="M178 70 L190 67 L200 68 M196 60 L199 70 L204 78 L210 84 L216 90 M204 64 L210 74 L214 84 M206 80 L218 86 L224 92" stroke="#a8207a" stroke-width="2.8"/><path d="M172 73 L182 70 M216 90 L222 96" stroke="#5a2a8a" stroke-width="2.4"/></g>
<circle cx="210.2" cy="33.5" r="4.5" fill="url(#srp)"/>
<circle cx="200.7" cy="53.4" r="4.5" fill="url(#srp)"/>
<circle cx="216.9" cy="51.5" r="4.5" fill="url(#srm)"/>
<circle cx="194.1" cy="60.1" r="4.5" fill="url(#srp)"/>
<circle cx="220.6" cy="61" r="4.5" fill="url(#srp)"/>
<circle cx="229.2" cy="68.6" r="4.5" fill="url(#srm)"/>
<circle cx="177" cy="72.4" r="4.5" fill="url(#srr)"/>
<circle cx="169.4" cy="74.3" r="4.5" fill="url(#srp)"/>
<circle cx="187.4" cy="79" r="4.5" fill="url(#srm)"/>
<circle cx="185.5" cy="87.5" r="4.5" fill="url(#srr)"/>
<circle cx="207.4" cy="86.6" r="4.5" fill="url(#srr)"/>
<circle cx="197.9" cy="90.4" r="4.5" fill="url(#srm)"/>
<circle cx="212.2" cy="90.5" r="4.5" fill="url(#srm)"/>
<circle cx="219.5" cy="97.2" r="4.5" fill="url(#srm)"/>
<circle cx="222.4" cy="101" r="4.5" fill="url(#srr)"/>
<circle cx="199" cy="103" r="4.5" fill="url(#srp)"/>
</g>
<clipPath id="clipD735"><rect x="42.6" y="36.8" width="56" height="64.5"/></clipPath>
<g clip-path="url(#clipD735)" fill="none" stroke-width="1.05" opacity="0.8"><ellipse cx="48.37" cy="92.27" rx="2.39" ry="2.12" stroke="#9a8890"/><ellipse cx="48.5" cy="93.37" rx="2.39" ry="2.12" stroke="#9a8890"/><ellipse cx="39.59" cy="65.39" rx="2.35" ry="2.07" stroke="#9a8890"/><ellipse cx="41.85" cy="65.76" rx="2.35" ry="2.07" stroke="#a6b4d6"/><ellipse cx="72.88" cy="88.02" rx="2.55" ry="2.53" stroke="#8e7c86"/><ellipse cx="97.05" cy="62.55" rx="2.52" ry="2.83" stroke="#8e7c86"/><ellipse cx="96.19" cy="64.24" rx="2.52" ry="2.83" stroke="#98a8cc"/><ellipse cx="71.91" cy="97.11" rx="1.87" ry="1.68" stroke="#84767e"/><ellipse cx="71.46" cy="96.88" rx="1.87" ry="1.68" stroke="#84767e"/><ellipse cx="94.38" cy="87.69" rx="2.36" ry="1.96" stroke="#e6a4a6"/><ellipse cx="92.47" cy="88.35" rx="2.36" ry="1.96" stroke="#b4c0de"/><ellipse cx="99.69" cy="76.15" rx="2.05" ry="1.77" stroke="#e6a4a6"/><ellipse cx="99.22" cy="76.13" rx="2.05" ry="1.77" stroke="#98a8cc"/><ellipse cx="62.54" cy="97.16" rx="2.29" ry="2.32" stroke="#9a8890"/><ellipse cx="62.88" cy="97.08" rx="2.29" ry="2.32" stroke="#e6a4a6"/><ellipse cx="62.58" cy="73.02" rx="2.55" ry="2.41" stroke="#9a8890"/><ellipse cx="78.21" cy="66.78" rx="1.73" ry="1.52" stroke="#84767e"/><ellipse cx="76.32" cy="66.92" rx="1.73" ry="1.52" stroke="#e6a4a6"/><ellipse cx="76.75" cy="65.4" rx="1.73" ry="1.52" stroke="#b4c0de"/><ellipse cx="78.44" cy="57.98" rx="1.76" ry="1.51" stroke="#dc9496"/><ellipse cx="78.03" cy="57.44" rx="1.76" ry="1.51" stroke="#b4c0de"/><ellipse cx="64.55" cy="62.67" rx="1.87" ry="1.57" stroke="#dc9496"/><ellipse cx="62.68" cy="64.55" rx="1.87" ry="1.57" stroke="#a6b4d6"/><ellipse cx="67.7" cy="69.27" rx="2.08" ry="2.27" stroke="#e6a4a6"/><ellipse cx="67.65" cy="68.6" rx="2.08" ry="2.27" stroke="#98a8cc"/><ellipse cx="57.7" cy="101.23" rx="2.49" ry="2.26" stroke="#9a8890"/><ellipse cx="59.43" cy="100.18" rx="2.49" ry="2.26" stroke="#98a8cc"/><ellipse cx="89.05" cy="99.91" rx="2.21" ry="1.9" stroke="#84767e"/><ellipse cx="89.98" cy="100.7" rx="2.21" ry="1.9" stroke="#dc9496"/><ellipse cx="96.05" cy="62.23" rx="2.15" ry="1.74" stroke="#9a8890"/><ellipse cx="96.71" cy="61.05" rx="2.15" ry="1.74" stroke="#e6a4a6"/><ellipse cx="45.34" cy="59.86" rx="2.19" ry="2.46" stroke="#dc9496"/><ellipse cx="47.37" cy="60.2" rx="2.19" ry="2.46" stroke="#a6b4d6"/><ellipse cx="87.03" cy="76.12" rx="2.46" ry="2.28" stroke="#8e7c86"/><ellipse cx="96.83" cy="96.31" rx="1.82" ry="1.81" stroke="#9a8890"/><ellipse cx="96.93" cy="95.75" rx="1.82" ry="1.81" stroke="#b4c0de"/><ellipse cx="96.25" cy="39.28" rx="2.2" ry="2.19" stroke="#9a8890"/><ellipse cx="94.2" cy="42.83" rx="1.74" ry="1.57" stroke="#84767e"/><ellipse cx="95.09" cy="42.35" rx="1.74" ry="1.57" stroke="#e6a4a6"/><ellipse cx="51.3" cy="65.28" rx="2.31" ry="1.98" stroke="#9a8890"/><ellipse cx="49.88" cy="65.1" rx="2.31" ry="1.98" stroke="#b4c0de"/><ellipse cx="59.2" cy="35.79" rx="2.41" ry="2.71" stroke="#9a8890"/><ellipse cx="58.71" cy="36.1" rx="2.41" ry="2.71" stroke="#dc9496"/><ellipse cx="76.97" cy="101.33" rx="2.19" ry="2.28" stroke="#9a8890"/><ellipse cx="61.84" cy="90.42" rx="1.78" ry="1.89" stroke="#84767e"/><ellipse cx="61.48" cy="91.55" rx="1.78" ry="1.89" stroke="#b4c0de"/><ellipse cx="74.73" cy="96.95" rx="1.92" ry="1.6" stroke="#84767e"/><ellipse cx="74.78" cy="98.65" rx="1.92" ry="1.6" stroke="#eeb2b2"/><ellipse cx="83.39" cy="36.83" rx="1.71" ry="1.82" stroke="#9a8890"/><ellipse cx="59.34" cy="69.71" rx="2.3" ry="1.98" stroke="#8e7c86"/><ellipse cx="61.23" cy="68.97" rx="2.3" ry="1.98" stroke="#eeb2b2"/><ellipse cx="61.06" cy="69.93" rx="2.3" ry="1.98" stroke="#b4c0de"/><ellipse cx="81.02" cy="71.77" rx="2.55" ry="2.92" stroke="#eeb2b2"/><ellipse cx="92.43" cy="52.44" rx="2.4" ry="2.49" stroke="#9a8890"/><ellipse cx="93.13" cy="51.08" rx="2.4" ry="2.49" stroke="#9a8890"/><ellipse cx="69.94" cy="89.31" rx="2.54" ry="2.9" stroke="#8e7c86"/><ellipse cx="69.5" cy="88.93" rx="2.54" ry="2.9" stroke="#eeb2b2"/><ellipse cx="77.68" cy="50.25" rx="1.71" ry="1.68" stroke="#eeb2b2"/><ellipse cx="77.3" cy="50.25" rx="1.71" ry="1.68" stroke="#98a8cc"/><ellipse cx="66.35" cy="73.71" rx="2.52" ry="2.82" stroke="#84767e"/><ellipse cx="78.84" cy="60.16" rx="2.16" ry="2.33" stroke="#eeb2b2"/><ellipse cx="50.22" cy="82.15" rx="2.12" ry="1.76" stroke="#84767e"/><ellipse cx="51.04" cy="83.4" rx="2.12" ry="1.76" stroke="#98a8cc"/><ellipse cx="70.36" cy="60.94" rx="2.27" ry="2.12" stroke="#84767e"/><ellipse cx="69.74" cy="62.59" rx="2.27" ry="2.12" stroke="#dc9496"/><ellipse cx="70.75" cy="60.93" rx="2.27" ry="2.12" stroke="#98a8cc"/><ellipse cx="91.51" cy="51.55" rx="2.47" ry="2.78" stroke="#9a8890"/><ellipse cx="91.49" cy="51.38" rx="2.47" ry="2.78" stroke="#e6a4a6"/><ellipse cx="95.01" cy="79.09" rx="1.95" ry="1.82" stroke="#e6a4a6"/><ellipse cx="95.96" cy="79.46" rx="1.95" ry="1.82" stroke="#a6b4d6"/><ellipse cx="57.8" cy="71.93" rx="1.95" ry="1.96" stroke="#84767e"/><ellipse cx="92.11" cy="86.51" rx="2.21" ry="2.07" stroke="#8e7c86"/><ellipse cx="59.12" cy="80.84" rx="2.35" ry="2.42" stroke="#84767e"/><ellipse cx="57.96" cy="80.21" rx="2.35" ry="2.42" stroke="#98a8cc"/><ellipse cx="84.68" cy="58.55" rx="2.19" ry="2.01" stroke="#9a8890"/><ellipse cx="84" cy="59.23" rx="2.19" ry="2.01" stroke="#e6a4a6"/><ellipse cx="85.42" cy="85.67" rx="1.88" ry="2.11" stroke="#84767e"/><ellipse cx="85.2" cy="84.76" rx="1.88" ry="2.11" stroke="#e6a4a6"/><ellipse cx="63.3" cy="35.44" rx="2.05" ry="1.95" stroke="#9a8890"/><ellipse cx="63.34" cy="34.54" rx="2.05" ry="1.95" stroke="#e6a4a6"/><ellipse cx="99.45" cy="55.26" rx="1.72" ry="1.81" stroke="#84767e"/><ellipse cx="99.61" cy="55.32" rx="1.72" ry="1.81" stroke="#e6a4a6"/><ellipse cx="98.15" cy="54.65" rx="1.72" ry="1.81" stroke="#98a8cc"/><ellipse cx="55.13" cy="45.55" rx="2.16" ry="1.93" stroke="#84767e"/><ellipse cx="56.18" cy="47.31" rx="2.16" ry="1.93" stroke="#a6b4d6"/><ellipse cx="82.95" cy="61.87" rx="2.32" ry="2.35" stroke="#e6a4a6"/><ellipse cx="44.3" cy="92.01" rx="2.17" ry="2.02" stroke="#dc9496"/><ellipse cx="44.75" cy="92.18" rx="2.17" ry="2.02" stroke="#b4c0de"/><ellipse cx="63.57" cy="62.4" rx="2.14" ry="1.9" stroke="#9a8890"/><ellipse cx="65" cy="62.92" rx="2.14" ry="1.9" stroke="#dc9496"/><ellipse cx="65.31" cy="99.11" rx="2.54" ry="2.25" stroke="#8e7c86"/><ellipse cx="74.48" cy="73.9" rx="2.54" ry="2.16" stroke="#9a8890"/><ellipse cx="82.51" cy="58.99" rx="2.38" ry="2.1" stroke="#dc9496"/><ellipse cx="58.77" cy="98.82" rx="2.56" ry="2.09" stroke="#8e7c86"/><ellipse cx="59.5" cy="99.09" rx="2.56" ry="2.09" stroke="#dc9496"/><ellipse cx="48.82" cy="81.72" rx="1.79" ry="1.68" stroke="#9a8890"/><ellipse cx="47.88" cy="81.67" rx="1.79" ry="1.68" stroke="#9a8890"/><ellipse cx="84.35" cy="57.05" rx="2.23" ry="2.5" stroke="#8e7c86"/><ellipse cx="84.5" cy="57.21" rx="2.23" ry="2.5" stroke="#b4c0de"/><ellipse cx="93.5" cy="86.89" rx="1.84" ry="2.06" stroke="#9a8890"/><ellipse cx="93.31" cy="87.44" rx="1.84" ry="2.06" stroke="#e6a4a6"/><ellipse cx="93.98" cy="36.28" rx="1.75" ry="1.92" stroke="#9a8890"/><ellipse cx="94.44" cy="37.86" rx="1.75" ry="1.92" stroke="#e6a4a6"/><ellipse cx="51.5" cy="65.63" rx="2" ry="1.78" stroke="#84767e"/><ellipse cx="87.67" cy="46.21" rx="2.09" ry="2.18" stroke="#eeb2b2"/><ellipse cx="86.85" cy="46.34" rx="2.09" ry="2.18" stroke="#98a8cc"/><ellipse cx="78.09" cy="102.11" rx="1.77" ry="1.52" stroke="#8e7c86"/><ellipse cx="78.23" cy="101.43" rx="1.77" ry="1.52" stroke="#a6b4d6"/><ellipse cx="71.62" cy="42.13" rx="1.98" ry="1.67" stroke="#9a8890"/><ellipse cx="70.73" cy="40.78" rx="1.98" ry="1.67" stroke="#e6a4a6"/><ellipse cx="88.05" cy="40.44" rx="1.73" ry="1.62" stroke="#9a8890"/><ellipse cx="48.64" cy="81.25" rx="1.78" ry="1.95" stroke="#e6a4a6"/><ellipse cx="46.68" cy="81.53" rx="1.78" ry="1.95" stroke="#b4c0de"/><ellipse cx="68.1" cy="101.88" rx="2.35" ry="2.56" stroke="#e6a4a6"/><ellipse cx="66.55" cy="102.17" rx="2.35" ry="2.56" stroke="#b4c0de"/><ellipse cx="74.74" cy="37.44" rx="2.43" ry="2.5" stroke="#9a8890"/><ellipse cx="85.4" cy="68.68" rx="2.17" ry="1.85" stroke="#9a8890"/><ellipse cx="66.77" cy="59.73" rx="2.37" ry="2.21" stroke="#84767e"/><ellipse cx="68.03" cy="59.42" rx="2.37" ry="2.21" stroke="#98a8cc"/><ellipse cx="99.24" cy="88.69" rx="2.03" ry="1.85" stroke="#9a8890"/><ellipse cx="99.16" cy="88.61" rx="2.03" ry="1.85" stroke="#e6a4a6"/><ellipse cx="85.64" cy="98.66" rx="2.26" ry="2.45" stroke="#eeb2b2"/><ellipse cx="86.92" cy="99.85" rx="2.26" ry="2.45" stroke="#98a8cc"/><ellipse cx="89.21" cy="49.66" rx="2.45" ry="2.4" stroke="#8e7c86"/><ellipse cx="88.49" cy="50.42" rx="2.45" ry="2.4" stroke="#e6a4a6"/><ellipse cx="94.92" cy="64.94" rx="2.31" ry="2.29" stroke="#dc9496"/><ellipse cx="56.27" cy="48.61" rx="2.37" ry="2.54" stroke="#e6a4a6"/><ellipse cx="54.89" cy="49.3" rx="2.37" ry="2.54" stroke="#b4c0de"/><ellipse cx="68.14" cy="48.79" rx="1.97" ry="2.05" stroke="#84767e"/><ellipse cx="68.28" cy="47.9" rx="1.97" ry="2.05" stroke="#dc9496"/><ellipse cx="71.68" cy="71.53" rx="2.44" ry="2.76" stroke="#84767e"/><ellipse cx="71.27" cy="72.47" rx="2.44" ry="2.76" stroke="#eeb2b2"/><ellipse cx="98.84" cy="52.99" rx="1.71" ry="1.62" stroke="#8e7c86"/><ellipse cx="100.09" cy="52.81" rx="1.71" ry="1.62" stroke="#e6a4a6"/><ellipse cx="64.33" cy="66.58" rx="2.42" ry="2.25" stroke="#9a8890"/><ellipse cx="62.45" cy="65.95" rx="2.42" ry="2.25" stroke="#8e7c86"/><ellipse cx="56.79" cy="93.95" rx="2.23" ry="2.01" stroke="#9a8890"/><ellipse cx="55.53" cy="94.22" rx="2.23" ry="2.01" stroke="#eeb2b2"/><ellipse cx="96.42" cy="61.84" rx="2.08" ry="1.71" stroke="#e6a4a6"/><ellipse cx="70.48" cy="99.13" rx="2.06" ry="2.17" stroke="#8e7c86"/><ellipse cx="69.02" cy="100.92" rx="2.06" ry="2.17" stroke="#dc9496"/><ellipse cx="98.01" cy="42.48" rx="2.2" ry="2.08" stroke="#9a8890"/><ellipse cx="99.2" cy="41.04" rx="2.2" ry="2.08" stroke="#a6b4d6"/><ellipse cx="63.04" cy="80.38" rx="1.96" ry="1.92" stroke="#8e7c86"/><ellipse cx="64.03" cy="80.44" rx="1.96" ry="1.92" stroke="#e6a4a6"/><ellipse cx="94.74" cy="101.96" rx="1.96" ry="1.91" stroke="#dc9496"/><ellipse cx="94.9" cy="103.69" rx="1.96" ry="1.91" stroke="#b4c0de"/><ellipse cx="56.1" cy="71.32" rx="2.1" ry="2.23" stroke="#8e7c86"/><ellipse cx="55.92" cy="71.95" rx="2.1" ry="2.23" stroke="#b4c0de"/><ellipse cx="76.46" cy="100.18" rx="2.18" ry="2.21" stroke="#9a8890"/><ellipse cx="76.19" cy="100.51" rx="2.18" ry="2.21" stroke="#e6a4a6"/><ellipse cx="77.13" cy="101.04" rx="2.18" ry="2.21" stroke="#98a8cc"/><ellipse cx="76.06" cy="66.68" rx="1.83" ry="1.79" stroke="#e6a4a6"/><ellipse cx="75.42" cy="65.36" rx="1.83" ry="1.79" stroke="#98a8cc"/><ellipse cx="47.49" cy="43.63" rx="1.93" ry="1.6" stroke="#e6a4a6"/><ellipse cx="48.44" cy="45.17" rx="1.93" ry="1.6" stroke="#98a8cc"/><ellipse cx="65.27" cy="35.45" rx="1.72" ry="1.56" stroke="#8e7c86"/><ellipse cx="66.46" cy="34.85" rx="1.72" ry="1.56" stroke="#eeb2b2"/><ellipse cx="47.53" cy="57.75" rx="1.8" ry="2.01" stroke="#84767e"/><ellipse cx="47.3" cy="58.63" rx="1.8" ry="2.01" stroke="#eeb2b2"/><ellipse cx="47.03" cy="58.37" rx="1.8" ry="2.01" stroke="#a6b4d6"/><ellipse cx="97.72" cy="77.75" rx="1.92" ry="1.99" stroke="#8e7c86"/><ellipse cx="96.18" cy="89.43" rx="2.35" ry="1.99" stroke="#9a8890"/><ellipse cx="68.25" cy="63.68" rx="2.54" ry="2.3" stroke="#eeb2b2"/><ellipse cx="48.26" cy="50.8" rx="2.51" ry="2.25" stroke="#9a8890"/><ellipse cx="46.24" cy="51.03" rx="2.51" ry="2.25" stroke="#eeb2b2"/><ellipse cx="80.15" cy="71.97" rx="2.19" ry="2.4" stroke="#dc9496"/><ellipse cx="80.86" cy="71.36" rx="2.19" ry="2.4" stroke="#a6b4d6"/><ellipse cx="92.52" cy="50.2" rx="2.46" ry="2.7" stroke="#9a8890"/><ellipse cx="90.84" cy="61.6" rx="2.58" ry="2.19" stroke="#84767e"/><ellipse cx="98.41" cy="98" rx="2.28" ry="2.13" stroke="#eeb2b2"/><ellipse cx="97.52" cy="98.01" rx="2.28" ry="2.13" stroke="#b4c0de"/><ellipse cx="42.93" cy="67.06" rx="1.73" ry="1.81" stroke="#8e7c86"/><ellipse cx="44.48" cy="67.18" rx="1.73" ry="1.81" stroke="#dc9496"/><ellipse cx="99.8" cy="59.96" rx="2.13" ry="2.22" stroke="#8e7c86"/><ellipse cx="98.27" cy="59.97" rx="2.13" ry="2.22" stroke="#e6a4a6"/><ellipse cx="61.08" cy="79.43" rx="2.6" ry="2.78" stroke="#84767e"/><ellipse cx="60.75" cy="80.06" rx="2.6" ry="2.78" stroke="#eeb2b2"/><ellipse cx="50.21" cy="58.71" rx="1.8" ry="1.77" stroke="#dc9496"/><ellipse cx="49.22" cy="57.61" rx="1.8" ry="1.77" stroke="#a6b4d6"/><ellipse cx="77.88" cy="100.44" rx="2.06" ry="1.81" stroke="#eeb2b2"/><ellipse cx="85.28" cy="60.26" rx="2.29" ry="2.36" stroke="#eeb2b2"/><ellipse cx="97.27" cy="92.24" rx="1.83" ry="1.71" stroke="#8e7c86"/><ellipse cx="96.92" cy="91.9" rx="1.83" ry="1.71" stroke="#98a8cc"/><ellipse cx="50.42" cy="101.97" rx="2.44" ry="2.76" stroke="#9a8890"/><ellipse cx="49.67" cy="100.4" rx="2.44" ry="2.76" stroke="#dc9496"/><ellipse cx="89.49" cy="102.95" rx="2.52" ry="2.6" stroke="#84767e"/></g>
<rect x="42.6" y="36.8" width="56" height="64.5" fill="none" stroke="#555" stroke-width="1"/>
<line x1="39.4" y1="42" x2="42.6" y2="42" stroke="#555" stroke-width="1"/>
<line x1="39.4" y1="57.8" x2="42.6" y2="57.8" stroke="#555" stroke-width="1"/>
<line x1="39.4" y1="73.6" x2="42.6" y2="73.6" stroke="#555" stroke-width="1"/>
<line x1="39.4" y1="89" x2="42.6" y2="89" stroke="#555" stroke-width="1"/>
<line x1="46.4" y1="101.3" x2="46.4" y2="103.6" stroke="#555" stroke-width="1"/>
<line x1="55.2" y1="101.3" x2="55.2" y2="103.6" stroke="#555" stroke-width="1"/>
<line x1="64" y1="101.3" x2="64" y2="103.6" stroke="#555" stroke-width="1"/>
<line x1="73.2" y1="101.3" x2="73.2" y2="103.6" stroke="#555" stroke-width="1"/>
<line x1="82.3" y1="101.3" x2="82.3" y2="103.6" stroke="#555" stroke-width="1"/>
<line x1="91" y1="101.3" x2="91" y2="103.6" stroke="#555" stroke-width="1"/>
<text x="34.6" y="61.76" font-size="11" text-anchor="end" fill="#1a1a1a">122</text>
<text x="34.6" y="92.96" font-size="11" text-anchor="end" fill="#1a1a1a">124</text>
<text x="74.5" y="115.16" font-size="11" text-anchor="middle" fill="#1a1a1a">7.8</text>
<text x="73" y="30.56" font-size="11" text-anchor="middle" fill="#1a1a1a">D735</text>
<clipPath id="clipL547"><rect x="46.4" y="168" width="52.2" height="84.2"/></clipPath>
<g clip-path="url(#clipL547)" fill="none" stroke-width="1.05" opacity="0.8"><ellipse cx="97.53" cy="249.02" rx="1.75" ry="1.45" stroke="#84767e"/><ellipse cx="97.31" cy="249.46" rx="1.75" ry="1.45" stroke="#dc9496"/><ellipse cx="99.21" cy="249.69" rx="1.75" ry="1.45" stroke="#98a8cc"/><ellipse cx="70.34" cy="189.71" rx="1.73" ry="1.4" stroke="#9a8890"/><ellipse cx="68.75" cy="189.01" rx="1.73" ry="1.4" stroke="#84767e"/><ellipse cx="54.72" cy="211.81" rx="2.02" ry="1.98" stroke="#eeb2b2"/><ellipse cx="53.82" cy="211.71" rx="2.02" ry="1.98" stroke="#b4c0de"/><ellipse cx="70.47" cy="250.23" rx="2.06" ry="2.18" stroke="#eeb2b2"/><ellipse cx="70.41" cy="250.15" rx="2.06" ry="2.18" stroke="#b4c0de"/><ellipse cx="77.21" cy="247.41" rx="2.35" ry="2.28" stroke="#dc9496"/><ellipse cx="88.21" cy="208.49" rx="1.97" ry="2.13" stroke="#dc9496"/><ellipse cx="87.82" cy="208.05" rx="1.97" ry="2.13" stroke="#a6b4d6"/><ellipse cx="81.79" cy="244.1" rx="2.41" ry="2.21" stroke="#8e7c86"/><ellipse cx="83.29" cy="244.63" rx="2.41" ry="2.21" stroke="#dc9496"/><ellipse cx="85.73" cy="177.76" rx="1.94" ry="2.11" stroke="#9a8890"/><ellipse cx="85.79" cy="178.95" rx="1.94" ry="2.11" stroke="#dc9496"/><ellipse cx="46.28" cy="230.11" rx="1.72" ry="1.53" stroke="#84767e"/><ellipse cx="46.95" cy="229.34" rx="1.72" ry="1.53" stroke="#e6a4a6"/><ellipse cx="46.42" cy="229.91" rx="1.72" ry="1.53" stroke="#98a8cc"/><ellipse cx="72.36" cy="193.15" rx="2.2" ry="2.22" stroke="#9a8890"/><ellipse cx="72.32" cy="193.88" rx="2.2" ry="2.22" stroke="#e6a4a6"/><ellipse cx="44.91" cy="236.46" rx="2.55" ry="2.51" stroke="#9a8890"/><ellipse cx="46.89" cy="235.84" rx="2.55" ry="2.51" stroke="#eeb2b2"/><ellipse cx="83.6" cy="250.05" rx="2.3" ry="2.05" stroke="#8e7c86"/><ellipse cx="83.07" cy="250.47" rx="2.3" ry="2.05" stroke="#e6a4a6"/><ellipse cx="83.06" cy="251.17" rx="2.3" ry="2.05" stroke="#98a8cc"/><ellipse cx="79.24" cy="196.96" rx="2.32" ry="2.08" stroke="#8e7c86"/><ellipse cx="78.51" cy="196.78" rx="2.32" ry="2.08" stroke="#e6a4a6"/><ellipse cx="86.29" cy="175.65" rx="1.72" ry="1.78" stroke="#9a8890"/><ellipse cx="86.4" cy="174.32" rx="1.72" ry="1.78" stroke="#8e7c86"/><ellipse cx="76.48" cy="244.66" rx="2.54" ry="2.54" stroke="#84767e"/><ellipse cx="77.13" cy="244.71" rx="2.54" ry="2.54" stroke="#b4c0de"/><ellipse cx="66.07" cy="166.8" rx="2.32" ry="1.94" stroke="#8e7c86"/><ellipse cx="79.75" cy="207.31" rx="2.5" ry="2.54" stroke="#9a8890"/><ellipse cx="79.29" cy="206.61" rx="2.5" ry="2.54" stroke="#eeb2b2"/><ellipse cx="84.91" cy="177.99" rx="2.01" ry="2.23" stroke="#8e7c86"/><ellipse cx="66.38" cy="184.41" rx="1.79" ry="1.82" stroke="#8e7c86"/><ellipse cx="65.83" cy="184.75" rx="1.79" ry="1.82" stroke="#9a8890"/><ellipse cx="71.21" cy="249.72" rx="2.42" ry="2.73" stroke="#9a8890"/><ellipse cx="67.66" cy="225.99" rx="2.53" ry="2.54" stroke="#8e7c86"/><ellipse cx="69.42" cy="226.26" rx="2.53" ry="2.54" stroke="#e6a4a6"/><ellipse cx="89.4" cy="168.63" rx="2.58" ry="2.41" stroke="#9a8890"/><ellipse cx="99.06" cy="250.77" rx="2.08" ry="1.9" stroke="#dc9496"/><ellipse cx="97.5" cy="185.74" rx="2.49" ry="2.3" stroke="#84767e"/><ellipse cx="96.88" cy="186.7" rx="2.49" ry="2.3" stroke="#eeb2b2"/><ellipse cx="72.03" cy="202.54" rx="2.34" ry="2.64" stroke="#9a8890"/><ellipse cx="71.59" cy="201.09" rx="2.34" ry="2.64" stroke="#8e7c86"/><ellipse cx="91.25" cy="199.67" rx="2.49" ry="2.79" stroke="#9a8890"/><ellipse cx="55.29" cy="173.53" rx="2.06" ry="1.81" stroke="#84767e"/><ellipse cx="54.95" cy="174.5" rx="2.06" ry="1.81" stroke="#e6a4a6"/><ellipse cx="55.32" cy="236.86" rx="1.82" ry="1.85" stroke="#9a8890"/><ellipse cx="53.97" cy="236.9" rx="1.82" ry="1.85" stroke="#e6a4a6"/><ellipse cx="91.35" cy="225.05" rx="2.38" ry="2.31" stroke="#9a8890"/><ellipse cx="79.57" cy="197.39" rx="2.38" ry="2.69" stroke="#9a8890"/><ellipse cx="78.88" cy="197.65" rx="2.38" ry="2.69" stroke="#e6a4a6"/><ellipse cx="83.21" cy="179.87" rx="1.95" ry="1.88" stroke="#9a8890"/><ellipse cx="82.37" cy="179.01" rx="1.95" ry="1.88" stroke="#dc9496"/><ellipse cx="84.23" cy="228.34" rx="1.97" ry="1.76" stroke="#9a8890"/><ellipse cx="81.36" cy="210.99" rx="2.53" ry="2.47" stroke="#dc9496"/><ellipse cx="71.71" cy="173.09" rx="1.74" ry="1.97" stroke="#dc9496"/><ellipse cx="72.08" cy="173.57" rx="1.74" ry="1.97" stroke="#b4c0de"/><ellipse cx="64.39" cy="197.42" rx="2.15" ry="2.37" stroke="#8e7c86"/><ellipse cx="62.25" cy="197.47" rx="2.15" ry="2.37" stroke="#9a8890"/><ellipse cx="55.37" cy="225.64" rx="2.04" ry="1.88" stroke="#8e7c86"/><ellipse cx="55.96" cy="226.69" rx="2.04" ry="1.88" stroke="#eeb2b2"/><ellipse cx="55.61" cy="225.48" rx="2.04" ry="1.88" stroke="#98a8cc"/><ellipse cx="67.26" cy="228.69" rx="2.33" ry="2.38" stroke="#84767e"/><ellipse cx="67.71" cy="180.67" rx="2.56" ry="2.37" stroke="#8e7c86"/><ellipse cx="65.81" cy="180.57" rx="2.56" ry="2.37" stroke="#8e7c86"/><ellipse cx="93.87" cy="230.53" rx="2.29" ry="1.84" stroke="#8e7c86"/><ellipse cx="94.16" cy="197.46" rx="1.88" ry="1.83" stroke="#8e7c86"/><ellipse cx="94.41" cy="197.22" rx="1.88" ry="1.83" stroke="#eeb2b2"/><ellipse cx="96.08" cy="198.03" rx="1.88" ry="1.83" stroke="#b4c0de"/><ellipse cx="78.82" cy="242.75" rx="1.86" ry="1.53" stroke="#9a8890"/><ellipse cx="79.03" cy="241.84" rx="1.86" ry="1.53" stroke="#9a8890"/><ellipse cx="99.47" cy="200.62" rx="2.13" ry="2.16" stroke="#84767e"/><ellipse cx="81.64" cy="210.48" rx="2.06" ry="2.15" stroke="#9a8890"/><ellipse cx="80.84" cy="210.56" rx="2.06" ry="2.15" stroke="#dc9496"/><ellipse cx="81.5" cy="209.64" rx="2.06" ry="2.15" stroke="#a6b4d6"/><ellipse cx="85.31" cy="187.98" rx="2.3" ry="2.02" stroke="#8e7c86"/><ellipse cx="85.01" cy="188.26" rx="2.3" ry="2.02" stroke="#eeb2b2"/><ellipse cx="48.14" cy="177.32" rx="1.73" ry="1.8" stroke="#e6a4a6"/><ellipse cx="48.1" cy="177.78" rx="1.73" ry="1.8" stroke="#98a8cc"/><ellipse cx="64.6" cy="165.89" rx="2.19" ry="1.94" stroke="#8e7c86"/><ellipse cx="66.25" cy="166.57" rx="2.19" ry="1.94" stroke="#84767e"/><ellipse cx="72.6" cy="246.47" rx="1.85" ry="1.55" stroke="#84767e"/><ellipse cx="72.01" cy="246.51" rx="1.85" ry="1.55" stroke="#e6a4a6"/><ellipse cx="71.94" cy="246.42" rx="1.85" ry="1.55" stroke="#98a8cc"/><ellipse cx="73.09" cy="209.33" rx="1.95" ry="1.85" stroke="#84767e"/><ellipse cx="73.78" cy="208.2" rx="1.95" ry="1.85" stroke="#e6a4a6"/><ellipse cx="74.62" cy="209.53" rx="1.95" ry="1.85" stroke="#a6b4d6"/><ellipse cx="71.56" cy="171.21" rx="2.4" ry="2.61" stroke="#84767e"/><ellipse cx="71.21" cy="169.59" rx="2.4" ry="2.61" stroke="#dc9496"/><ellipse cx="71.41" cy="171.14" rx="2.4" ry="2.61" stroke="#b4c0de"/><ellipse cx="54.21" cy="194.94" rx="2.44" ry="2.68" stroke="#e6a4a6"/><ellipse cx="53.64" cy="193.85" rx="2.44" ry="2.68" stroke="#b4c0de"/><ellipse cx="83.61" cy="190.06" rx="2.52" ry="2.2" stroke="#9a8890"/><ellipse cx="96.25" cy="183.25" rx="2.39" ry="2.5" stroke="#9a8890"/><ellipse cx="96.19" cy="184.25" rx="2.39" ry="2.5" stroke="#8e7c86"/><ellipse cx="92.55" cy="196.56" rx="1.76" ry="1.64" stroke="#8e7c86"/><ellipse cx="92.26" cy="196.44" rx="1.76" ry="1.64" stroke="#84767e"/><ellipse cx="50.62" cy="235.91" rx="1.73" ry="1.98" stroke="#9a8890"/><ellipse cx="49.84" cy="236.01" rx="1.73" ry="1.98" stroke="#e6a4a6"/><ellipse cx="60.5" cy="217.48" rx="1.89" ry="1.62" stroke="#84767e"/><ellipse cx="60.23" cy="217.22" rx="1.89" ry="1.62" stroke="#e6a4a6"/><ellipse cx="58.77" cy="215.49" rx="2.46" ry="2.71" stroke="#dc9496"/><ellipse cx="78.4" cy="201.45" rx="2.07" ry="2.12" stroke="#eeb2b2"/><ellipse cx="78.09" cy="200.48" rx="2.07" ry="2.12" stroke="#b4c0de"/><ellipse cx="66.85" cy="250.85" rx="1.96" ry="1.73" stroke="#84767e"/><ellipse cx="67.1" cy="250.57" rx="1.96" ry="1.73" stroke="#e6a4a6"/><ellipse cx="73.23" cy="175.31" rx="2.16" ry="2.12" stroke="#84767e"/><ellipse cx="73.27" cy="174.16" rx="2.16" ry="2.12" stroke="#9a8890"/><ellipse cx="52.47" cy="194.73" rx="2.18" ry="2.22" stroke="#8e7c86"/><ellipse cx="51.72" cy="228.06" rx="1.73" ry="1.69" stroke="#9a8890"/><ellipse cx="97.2" cy="219.47" rx="1.8" ry="1.93" stroke="#84767e"/><ellipse cx="99.28" cy="168.98" rx="2.01" ry="2.19" stroke="#9a8890"/><ellipse cx="98.78" cy="168.8" rx="2.01" ry="2.19" stroke="#dc9496"/><ellipse cx="68.9" cy="186.75" rx="1.86" ry="1.89" stroke="#84767e"/><ellipse cx="69.18" cy="187.95" rx="1.86" ry="1.89" stroke="#e6a4a6"/><ellipse cx="66.3" cy="245.2" rx="1.8" ry="1.82" stroke="#8e7c86"/><ellipse cx="67.89" cy="246.35" rx="1.8" ry="1.82" stroke="#98a8cc"/><ellipse cx="55.95" cy="212.83" rx="2.6" ry="2.91" stroke="#8e7c86"/><ellipse cx="56.87" cy="212.24" rx="2.6" ry="2.91" stroke="#dc9496"/><ellipse cx="69.83" cy="249.17" rx="2.42" ry="2.48" stroke="#9a8890"/><ellipse cx="70.13" cy="250.15" rx="2.42" ry="2.48" stroke="#dc9496"/><ellipse cx="70.14" cy="249.82" rx="2.42" ry="2.48" stroke="#b4c0de"/><ellipse cx="54.8" cy="205.26" rx="2.4" ry="2.21" stroke="#9a8890"/><ellipse cx="55.14" cy="204.77" rx="2.4" ry="2.21" stroke="#dc9496"/><ellipse cx="59.12" cy="228.13" rx="2.03" ry="2.22" stroke="#84767e"/><ellipse cx="57.35" cy="229.18" rx="2.03" ry="2.22" stroke="#9a8890"/><ellipse cx="58.26" cy="250.75" rx="2.29" ry="2.15" stroke="#84767e"/><ellipse cx="58.49" cy="252.1" rx="2.29" ry="2.15" stroke="#eeb2b2"/><ellipse cx="82.74" cy="197.9" rx="2.42" ry="2.23" stroke="#8e7c86"/><ellipse cx="83.3" cy="198.82" rx="2.42" ry="2.23" stroke="#dc9496"/><ellipse cx="83.87" cy="198.56" rx="2.42" ry="2.23" stroke="#b4c0de"/><ellipse cx="93.85" cy="226.01" rx="2.3" ry="2.16" stroke="#8e7c86"/><ellipse cx="94.33" cy="224.93" rx="2.3" ry="2.16" stroke="#eeb2b2"/><ellipse cx="86.29" cy="246.76" rx="2.4" ry="2.37" stroke="#9a8890"/><ellipse cx="85.95" cy="246.85" rx="2.4" ry="2.37" stroke="#8e7c86"/><ellipse cx="85.12" cy="166.24" rx="2.07" ry="2.12" stroke="#8e7c86"/><ellipse cx="83.34" cy="166.44" rx="2.07" ry="2.12" stroke="#dc9496"/><ellipse cx="91.23" cy="215.59" rx="2.35" ry="2.27" stroke="#8e7c86"/><ellipse cx="91.84" cy="252.33" rx="1.86" ry="1.65" stroke="#8e7c86"/><ellipse cx="91.94" cy="251.86" rx="1.86" ry="1.65" stroke="#dc9496"/><ellipse cx="68.22" cy="208.4" rx="2.03" ry="1.75" stroke="#dc9496"/><ellipse cx="78.87" cy="236.04" rx="1.82" ry="1.59" stroke="#dc9496"/><ellipse cx="86.22" cy="190.02" rx="2.26" ry="1.82" stroke="#8e7c86"/><ellipse cx="50.39" cy="250.49" rx="1.86" ry="2.01" stroke="#84767e"/><ellipse cx="51.96" cy="250.1" rx="1.86" ry="2.01" stroke="#8e7c86"/><ellipse cx="45.84" cy="243.92" rx="1.89" ry="1.79" stroke="#8e7c86"/><ellipse cx="45.83" cy="243.65" rx="1.89" ry="1.79" stroke="#dc9496"/><ellipse cx="46.25" cy="245.14" rx="1.89" ry="1.79" stroke="#b4c0de"/><ellipse cx="79.7" cy="241.5" rx="1.84" ry="2.07" stroke="#9a8890"/><ellipse cx="79.78" cy="240.22" rx="1.84" ry="2.07" stroke="#dc9496"/><ellipse cx="68.74" cy="232.27" rx="1.98" ry="2.11" stroke="#9a8890"/><ellipse cx="68.2" cy="231.38" rx="1.98" ry="2.11" stroke="#e6a4a6"/><ellipse cx="65.29" cy="225.24" rx="1.97" ry="2.19" stroke="#84767e"/><ellipse cx="65.6" cy="225" rx="1.97" ry="2.19" stroke="#dc9496"/><ellipse cx="63.54" cy="225.31" rx="1.97" ry="2.19" stroke="#a6b4d6"/><ellipse cx="75.83" cy="235" rx="1.91" ry="1.75" stroke="#8e7c86"/><ellipse cx="77.54" cy="235.01" rx="1.91" ry="1.75" stroke="#b4c0de"/></g>
<rect x="46.4" y="168" width="52.2" height="84.2" fill="none" stroke="#555" stroke-width="1"/>
<line x1="41.2" y1="174.7" x2="46.4" y2="174.7" stroke="#555" stroke-width="1"/>
<line x1="41.2" y1="189.4" x2="46.4" y2="189.4" stroke="#555" stroke-width="1"/>
<line x1="41.2" y1="203.6" x2="46.4" y2="203.6" stroke="#555" stroke-width="1"/>
<line x1="41.2" y1="218" x2="46.4" y2="218" stroke="#555" stroke-width="1"/>
<line x1="41.2" y1="232.9" x2="46.4" y2="232.9" stroke="#555" stroke-width="1"/>
<line x1="41.2" y1="246.6" x2="46.4" y2="246.6" stroke="#555" stroke-width="1"/>
<line x1="57" y1="252.2" x2="57" y2="254.5" stroke="#555" stroke-width="1"/>
<line x1="68.7" y1="252.2" x2="68.7" y2="254.5" stroke="#555" stroke-width="1"/>
<line x1="80" y1="252.2" x2="80" y2="254.5" stroke="#555" stroke-width="1"/>
<line x1="91.4" y1="252.2" x2="91.4" y2="254.5" stroke="#555" stroke-width="1"/>
<text x="37" y="193.36" font-size="11" text-anchor="end" fill="#1a1a1a">122</text>
<text x="37" y="236.86" font-size="11" text-anchor="end" fill="#1a1a1a">125</text>
<text x="69.4" y="268.76" font-size="11" text-anchor="middle" fill="#1a1a1a">8.1</text>
<text x="72.85" y="162.86" font-size="11" text-anchor="middle" fill="#1a1a1a">L547</text>
<clipPath id="clipI544"><rect x="47.3" y="322.4" width="50.8" height="127.4"/></clipPath>
<g clip-path="url(#clipI544)" fill="none" stroke-width="1.05" opacity="0.8"><ellipse cx="59.32" cy="391.85" rx="2.03" ry="2.06" stroke="#8e7c86"/><ellipse cx="59.53" cy="391.85" rx="2.03" ry="2.06" stroke="#e6a4a6"/><ellipse cx="89.97" cy="383.55" rx="2.28" ry="1.94" stroke="#84767e"/><ellipse cx="90.66" cy="382.05" rx="2.28" ry="1.94" stroke="#dc9496"/><ellipse cx="91.66" cy="383.75" rx="2.28" ry="1.94" stroke="#98a8cc"/><ellipse cx="83.32" cy="441.42" rx="2.06" ry="2.22" stroke="#8e7c86"/><ellipse cx="85.1" cy="442.14" rx="2.06" ry="2.22" stroke="#9a8890"/><ellipse cx="68.82" cy="430.78" rx="2.22" ry="2.19" stroke="#84767e"/><ellipse cx="68.85" cy="430.32" rx="2.22" ry="2.19" stroke="#dc9496"/><ellipse cx="62.67" cy="390.71" rx="2.21" ry="1.85" stroke="#dc9496"/><ellipse cx="91.92" cy="450.29" rx="1.78" ry="1.92" stroke="#8e7c86"/><ellipse cx="92.37" cy="449.55" rx="1.78" ry="1.92" stroke="#e6a4a6"/><ellipse cx="83.49" cy="363.1" rx="2.49" ry="2.85" stroke="#e6a4a6"/><ellipse cx="85.8" cy="363.47" rx="2.49" ry="2.85" stroke="#a6b4d6"/><ellipse cx="59.64" cy="411.07" rx="2.58" ry="2.37" stroke="#8e7c86"/><ellipse cx="81.11" cy="398.14" rx="2.2" ry="2.24" stroke="#eeb2b2"/><ellipse cx="80.64" cy="398.77" rx="2.2" ry="2.24" stroke="#b4c0de"/><ellipse cx="44.87" cy="375.21" rx="2.22" ry="1.79" stroke="#84767e"/><ellipse cx="46.93" cy="375.18" rx="2.22" ry="1.79" stroke="#eeb2b2"/><ellipse cx="60.48" cy="384.91" rx="2.23" ry="2.53" stroke="#9a8890"/><ellipse cx="59.83" cy="385.24" rx="2.23" ry="2.53" stroke="#e6a4a6"/><ellipse cx="90.66" cy="355.11" rx="2.41" ry="2.02" stroke="#84767e"/><ellipse cx="91.13" cy="355.46" rx="2.41" ry="2.02" stroke="#eeb2b2"/><ellipse cx="80.5" cy="333.45" rx="2.24" ry="2.54" stroke="#e6a4a6"/><ellipse cx="93.03" cy="379.23" rx="1.9" ry="1.6" stroke="#eeb2b2"/><ellipse cx="93.42" cy="378.93" rx="1.9" ry="1.6" stroke="#98a8cc"/><ellipse cx="61.08" cy="425.55" rx="1.94" ry="1.79" stroke="#9a8890"/><ellipse cx="61.24" cy="425.38" rx="1.94" ry="1.79" stroke="#e6a4a6"/><ellipse cx="80.23" cy="387.76" rx="2.2" ry="2.52" stroke="#dc9496"/><ellipse cx="74.49" cy="357.47" rx="2.01" ry="1.77" stroke="#84767e"/><ellipse cx="74.69" cy="359.18" rx="2.01" ry="1.77" stroke="#a6b4d6"/><ellipse cx="76.98" cy="321.95" rx="2.37" ry="2.04" stroke="#8e7c86"/><ellipse cx="96.09" cy="400.08" rx="2.01" ry="1.78" stroke="#e6a4a6"/><ellipse cx="97.46" cy="401.68" rx="2.01" ry="1.78" stroke="#a6b4d6"/><ellipse cx="88.92" cy="428.66" rx="1.71" ry="1.74" stroke="#8e7c86"/><ellipse cx="89.05" cy="429.25" rx="1.71" ry="1.74" stroke="#e6a4a6"/><ellipse cx="92.3" cy="422.25" rx="1.74" ry="1.42" stroke="#8e7c86"/><ellipse cx="91.91" cy="422.56" rx="1.74" ry="1.42" stroke="#8e7c86"/><ellipse cx="77.96" cy="367.57" rx="1.87" ry="1.71" stroke="#8e7c86"/><ellipse cx="76.35" cy="367.74" rx="1.87" ry="1.71" stroke="#a6b4d6"/><ellipse cx="80.93" cy="391.94" rx="2.27" ry="1.85" stroke="#8e7c86"/><ellipse cx="80.84" cy="391.02" rx="2.27" ry="1.85" stroke="#dc9496"/><ellipse cx="74.36" cy="412.54" rx="1.76" ry="1.67" stroke="#8e7c86"/><ellipse cx="75.12" cy="412.62" rx="1.76" ry="1.67" stroke="#e6a4a6"/><ellipse cx="85.46" cy="432.69" rx="2.18" ry="2.03" stroke="#84767e"/><ellipse cx="84.53" cy="432.61" rx="2.18" ry="2.03" stroke="#b4c0de"/><ellipse cx="46.59" cy="331.69" rx="1.79" ry="1.98" stroke="#8e7c86"/><ellipse cx="47.92" cy="333.06" rx="1.79" ry="1.98" stroke="#dc9496"/><ellipse cx="47.8" cy="331.94" rx="1.79" ry="1.98" stroke="#98a8cc"/><ellipse cx="76.88" cy="333.82" rx="2.2" ry="2.18" stroke="#8e7c86"/><ellipse cx="76.29" cy="333.32" rx="2.2" ry="2.18" stroke="#dc9496"/><ellipse cx="66.57" cy="372.34" rx="2.02" ry="1.91" stroke="#9a8890"/><ellipse cx="65.9" cy="373.03" rx="2.02" ry="1.91" stroke="#b4c0de"/><ellipse cx="82.82" cy="389.18" rx="2.14" ry="2.19" stroke="#8e7c86"/><ellipse cx="82.75" cy="387.72" rx="2.14" ry="2.19" stroke="#eeb2b2"/><ellipse cx="82.43" cy="387.98" rx="2.14" ry="2.19" stroke="#a6b4d6"/><ellipse cx="59.19" cy="411.99" rx="2.56" ry="2.31" stroke="#84767e"/><ellipse cx="57.98" cy="410.98" rx="2.56" ry="2.31" stroke="#e6a4a6"/></g>
<rect x="47.3" y="322.4" width="50.8" height="127.4" fill="none" stroke="#555" stroke-width="1"/>
<line x1="42" y1="332" x2="47.3" y2="332" stroke="#555" stroke-width="1"/>
<line x1="42" y1="346.4" x2="47.3" y2="346.4" stroke="#555" stroke-width="1"/>
<line x1="42" y1="361.3" x2="47.3" y2="361.3" stroke="#555" stroke-width="1"/>
<line x1="42" y1="375.7" x2="47.3" y2="375.7" stroke="#555" stroke-width="1"/>
<line x1="42" y1="390.3" x2="47.3" y2="390.3" stroke="#555" stroke-width="1"/>
<line x1="42" y1="404.8" x2="47.3" y2="404.8" stroke="#555" stroke-width="1"/>
<line x1="42" y1="418.8" x2="47.3" y2="418.8" stroke="#555" stroke-width="1"/>
<line x1="42" y1="433.2" x2="47.3" y2="433.2" stroke="#555" stroke-width="1"/>
<line x1="42" y1="447.2" x2="47.3" y2="447.2" stroke="#555" stroke-width="1"/>
<line x1="57.5" y1="449.8" x2="57.5" y2="452.1" stroke="#555" stroke-width="1"/>
<line x1="68.9" y1="449.8" x2="68.9" y2="452.1" stroke="#555" stroke-width="1"/>
<line x1="80.6" y1="449.8" x2="80.6" y2="452.1" stroke="#555" stroke-width="1"/>
<line x1="92.3" y1="449.8" x2="92.3" y2="452.1" stroke="#555" stroke-width="1"/>
<text x="37.9" y="350.36" font-size="11" text-anchor="end" fill="#1a1a1a">114</text>
<text x="37.9" y="408.76" font-size="11" text-anchor="end" fill="#1a1a1a">118</text>
<text x="69.65" y="465.16" font-size="11" text-anchor="middle" fill="#1a1a1a">7.5</text>
<text x="74.9" y="316.56" font-size="11" text-anchor="middle" fill="#1a1a1a">I544</text>
<clipPath id="clipK540"><rect x="165.2" y="405" width="53.8" height="44.7"/></clipPath>
<g clip-path="url(#clipK540)" fill="none" stroke-width="1.05" opacity="0.8"><ellipse cx="177.85" cy="408.63" rx="2.06" ry="1.76" stroke="#8e7c86"/><ellipse cx="176.93" cy="407.58" rx="2.06" ry="1.76" stroke="#98a8cc"/><ellipse cx="172.72" cy="408.43" rx="1.89" ry="2.13" stroke="#9a8890"/><ellipse cx="205.52" cy="443.98" rx="2.49" ry="2.07" stroke="#9a8890"/><ellipse cx="206.57" cy="445.26" rx="2.49" ry="2.07" stroke="#eeb2b2"/><ellipse cx="217.48" cy="443.51" rx="1.71" ry="1.54" stroke="#84767e"/><ellipse cx="190.48" cy="414.4" rx="1.93" ry="2.09" stroke="#8e7c86"/><ellipse cx="188.91" cy="415.35" rx="1.93" ry="2.09" stroke="#98a8cc"/><ellipse cx="175.1" cy="422.74" rx="1.88" ry="1.92" stroke="#8e7c86"/><ellipse cx="196.35" cy="446.28" rx="1.79" ry="1.47" stroke="#dc9496"/><ellipse cx="218.32" cy="416.2" rx="1.72" ry="1.59" stroke="#9a8890"/><ellipse cx="217.88" cy="416.99" rx="1.72" ry="1.59" stroke="#a6b4d6"/><ellipse cx="217.12" cy="433.42" rx="2.44" ry="2.2" stroke="#eeb2b2"/><ellipse cx="171.42" cy="431.87" rx="2.03" ry="1.94" stroke="#9a8890"/><ellipse cx="187.96" cy="413.22" rx="1.75" ry="1.44" stroke="#84767e"/><ellipse cx="188.9" cy="412.37" rx="1.75" ry="1.44" stroke="#e6a4a6"/><ellipse cx="188.07" cy="412.53" rx="1.75" ry="1.44" stroke="#b4c0de"/><ellipse cx="175.66" cy="424.37" rx="2.14" ry="1.88" stroke="#8e7c86"/><ellipse cx="174.27" cy="424.42" rx="2.14" ry="1.88" stroke="#8e7c86"/><ellipse cx="207.61" cy="424.12" rx="1.94" ry="1.77" stroke="#84767e"/><ellipse cx="201.96" cy="442.36" rx="2.37" ry="2.31" stroke="#9a8890"/><ellipse cx="200.93" cy="442.32" rx="2.37" ry="2.31" stroke="#98a8cc"/><ellipse cx="180.39" cy="424.4" rx="1.89" ry="2.05" stroke="#9a8890"/><ellipse cx="219.68" cy="435.92" rx="1.74" ry="1.94" stroke="#9a8890"/><ellipse cx="219.38" cy="436.4" rx="1.74" ry="1.94" stroke="#dc9496"/><ellipse cx="219.8" cy="434.57" rx="1.74" ry="1.94" stroke="#a6b4d6"/></g>
<rect x="165.2" y="405" width="53.8" height="44.7" fill="none" stroke="#555" stroke-width="1"/>
<line x1="161.2" y1="414.5" x2="165.2" y2="414.5" stroke="#555" stroke-width="1"/>
<line x1="161.2" y1="429" x2="165.2" y2="429" stroke="#555" stroke-width="1"/>
<line x1="161.2" y1="444" x2="165.2" y2="444" stroke="#555" stroke-width="1"/>
<line x1="182.2" y1="449.7" x2="182.2" y2="452" stroke="#555" stroke-width="1"/>
<line x1="193.6" y1="449.7" x2="193.6" y2="452" stroke="#555" stroke-width="1"/>
<line x1="205.5" y1="449.7" x2="205.5" y2="452" stroke="#555" stroke-width="1"/>
<line x1="216.9" y1="449.7" x2="216.9" y2="452" stroke="#555" stroke-width="1"/>
<text x="156.1" y="432.96" font-size="11" text-anchor="end" fill="#1a1a1a">117</text>
<text x="194.85" y="464.96" font-size="11" text-anchor="middle" fill="#1a1a1a">7.6</text>
<text x="195.75" y="399.76" font-size="11" text-anchor="middle" fill="#1a1a1a">K540</text>
<clipPath id="clipN543"><rect x="292" y="407.5" width="49.3" height="42.5"/></clipPath>
<g clip-path="url(#clipN543)" fill="none" stroke-width="1.05" opacity="0.8"></g>
<rect x="292" y="407.5" width="49.3" height="42.5" fill="none" stroke="#555" stroke-width="1"/>
<line x1="288.2" y1="413.3" x2="292" y2="413.3" stroke="#555" stroke-width="1"/>
<line x1="288.2" y1="427.6" x2="292" y2="427.6" stroke="#555" stroke-width="1"/>
<line x1="288.2" y1="442.2" x2="292" y2="442.2" stroke="#555" stroke-width="1"/>
<line x1="303" y1="450" x2="303" y2="452.3" stroke="#555" stroke-width="1"/>
<line x1="314.5" y1="450" x2="314.5" y2="452.3" stroke="#555" stroke-width="1"/>
<line x1="325.8" y1="450" x2="325.8" y2="452.3" stroke="#555" stroke-width="1"/>
<line x1="337.2" y1="450" x2="337.2" y2="452.3" stroke="#555" stroke-width="1"/>
<text x="284" y="431.56" font-size="11" text-anchor="end" fill="#1a1a1a">118</text>
<text x="323.65" y="464.96" font-size="11" text-anchor="middle" fill="#1a1a1a">11.0</text>
<text x="317.5" y="400.56" font-size="11" text-anchor="middle" fill="#1a1a1a">N543</text>
<defs><marker id="ahr" viewBox="0 0 6 6" refX="5" refY="3" markerWidth="3.2" markerHeight="3.2" orient="auto"><path d="M0 0 L6 3 L0 6 Z" fill="#d6312a"/></marker><marker id="ahb" viewBox="0 0 6 6" refX="5" refY="3" markerWidth="3.2" markerHeight="3.2" orient="auto"><path d="M0 0 L6 3 L0 6 Z" fill="#2f4ea0"/></marker></defs>
<ellipse cx="57.8" cy="89.8" rx="2.4" ry="2.1" fill="none" stroke="#2f4ea0" stroke-width="1.5"/>
<ellipse cx="60.2" cy="95.6" rx="2.2" ry="2.2" fill="none" stroke="#2f4ea0" stroke-width="1.4"/>
<ellipse cx="54.3" cy="92" rx="2.4" ry="2.3" fill="#222" stroke="#111" stroke-width="1.3"/>
<path d="M57 89 L89.5 52.5" fill="none" stroke="#d6312a" stroke-width="1.3" marker-end="url(#ahr)"/>
<ellipse cx="94.3" cy="46.1" rx="1.8" ry="1.6" fill="none" stroke="#d6312a" stroke-width="1.4"/>
<ellipse cx="71" cy="177.3" rx="2.3" ry="2" fill="#444" stroke="#111" stroke-width="1.6"/>
<ellipse cx="65.4" cy="188.2" rx="1.7" ry="2.5" fill="none" stroke="#2f4ea0" stroke-width="1.5"/>
<path d="M68 172.5 C61 170, 56 178, 61.6 185.6" fill="none" stroke="#2f4ea0" stroke-width="1.3" marker-end="url(#ahb)"/>
<path d="M71.8 183 L76.6 235" fill="none" stroke="#d6312a" stroke-width="1.3" marker-end="url(#ahr)"/>
<ellipse cx="77.4" cy="240.6" rx="1.8" ry="2.1" fill="none" stroke="#d6312a" stroke-width="1.6"/>
<ellipse cx="86.2" cy="331.3" rx="1.8" ry="2" fill="none" stroke="#111" stroke-width="1.5"/>
<ellipse cx="84" cy="333.4" rx="1.8" ry="2" fill="none" stroke="#2f4ea0" stroke-width="1.5"/>
<path d="M83 327.2 C80 325, 77.5 327, 79.6 329.5" fill="none" stroke="#2f4ea0" stroke-width="1.3"/>
<path d="M85.6 339.4 L64.2 438.8" fill="none" stroke="#d6312a" stroke-width="1.3" marker-end="url(#ahr)"/>
<ellipse cx="61.7" cy="444.6" rx="2.3" ry="1.9" fill="none" stroke="#d6312a" stroke-width="1.5"/>
<ellipse cx="199.7" cy="419.3" rx="1.7" ry="2.2" fill="none" stroke="#111" stroke-width="1.5"/>
<ellipse cx="191" cy="429" rx="1.9" ry="1.6" fill="none" stroke="#2f4ea0" stroke-width="1.5"/>
<ellipse cx="180.4" cy="436" rx="1.9" ry="2.2" fill="none" stroke="#d6312a" stroke-width="1.6"/>
<path d="M197 419.6 C191 420.5, 187 424, 183.5 431.5" fill="none" stroke="#d6312a" stroke-width="1.3" marker-end="url(#ahr)"/>
<path d="M200.8 424.2 C200.5 426.8, 199 427.6, 196 427.4" fill="none" stroke="#2f4ea0" stroke-width="1.3" marker-end="url(#ahb)"/>
<ellipse cx="306" cy="438.7" rx="1.8" ry="2.4" fill="#222" stroke="#111" stroke-width="1.5"/>
<ellipse cx="312.4" cy="431.6" rx="1.9" ry="2.2" fill="none" stroke="#2f4ea0" stroke-width="1.6"/>
<ellipse cx="325.8" cy="413" rx="2" ry="2" fill="none" stroke="#d6312a" stroke-width="1.8"/>
<path d="M306.2 433.2 C305.5 420, 312 413, 321.5 412.6" fill="none" stroke="#d6312a" stroke-width="1.3" marker-end="url(#ahr)"/>
<path d="M309 440.2 C311 445, 319 445, 320.4 436.5" fill="none" stroke="#2f4ea0" stroke-width="1.3" marker-end="url(#ahb)"/>
<text x="321.4" y="17.85" font-size="8.2" text-anchor="start" fill="#1a1a1a">Sec. structure</text>
<text x="321.4" y="28.75" font-size="8.2" text-anchor="start" fill="#1a1a1a">(apo: 1FGK.pdb)</text>
<rect x="388.4" y="23.3" width="8.1" height="5.8" fill="#111" stroke="none" stroke-width="1"/>
<rect x="399.8" y="23.3" width="8.3" height="5.8" fill="#111" stroke="none" stroke-width="1"/>
<rect x="417.7" y="23.3" width="8.8" height="5.8" fill="#111" stroke="none" stroke-width="1"/>
<rect x="431.95" y="23.75" width="15.1" height="4.9" fill="#fff" stroke="#222" stroke-width="0.9"/>
<rect x="456.6" y="23.3" width="5.4" height="5.8" fill="#111" stroke="none" stroke-width="1"/>
<rect x="468.6" y="23.3" width="5.5" height="5.8" fill="#111" stroke="none" stroke-width="1"/>
<rect x="481.75" y="23.75" width="5" height="4.9" fill="#fff" stroke="#222" stroke-width="0.9"/>
<rect x="509.95" y="23.75" width="18.2" height="4.9" fill="#fff" stroke="#222" stroke-width="0.9"/>
<rect x="540.4" y="23.3" width="3.8" height="5.8" fill="#111" stroke="none" stroke-width="1"/>
<rect x="547.7" y="23.3" width="4.1" height="5.8" fill="#111" stroke="none" stroke-width="1"/>
<rect x="582.95" y="23.75" width="3.5" height="4.9" fill="#fff" stroke="#222" stroke-width="0.9"/>
<rect x="594.65" y="23.75" width="13.9" height="4.9" fill="#fff" stroke="#222" stroke-width="0.9"/>
<rect x="620.95" y="23.75" width="8.2" height="4.9" fill="#fff" stroke="#222" stroke-width="0.9"/>
<rect x="642.35" y="23.75" width="8.7" height="4.9" fill="#fff" stroke="#222" stroke-width="0.9"/>
<rect x="662.05" y="23.75" width="13.2" height="4.9" fill="#fff" stroke="#222" stroke-width="0.9"/>
<text x="401.2" y="19.95" font-size="8.2" text-anchor="middle" fill="#1a1a1a">P-loop</text>
<text x="439.3" y="19.95" font-size="8.2" text-anchor="middle" fill="#1a1a1a">C-helix</text>
<text x="480.6" y="19.95" font-size="8.2" text-anchor="middle" fill="#1a1a1a">Hinge</text>
<text x="574" y="19.95" font-size="8.2" text-anchor="middle" fill="#1a1a1a">Activation loop</text>
<g fill="#000"><rect x="357.92" y="151.11" width="10.37" height="2.19"/><rect x="368.14" y="149.65" width="3.8" height="3.65"/><rect x="371.79" y="151.84" width="2.34" height="1.46"/><rect x="373.98" y="149.94" width="3.07" height="3.36"/><rect x="376.9" y="148.92" width="2.34" height="4.38"/><rect x="379.09" y="149.94" width="5.26" height="3.36"/><rect x="384.2" y="148.19" width="4.53" height="5.11"/><rect x="388.58" y="145.71" width="2.34" height="7.59"/><rect x="390.77" y="140.16" width="1.61" height="13.14"/><rect x="392.23" y="120.75" width="2.05" height="32.55"/><rect x="394.12" y="140.16" width="1.61" height="13.14"/><rect x="395.58" y="118.26" width="3.07" height="35.04"/><rect x="398.5" y="128.48" width="1.61" height="24.82"/><rect x="399.96" y="136.51" width="1.9" height="16.79"/><rect x="401.72" y="143.08" width="3.07" height="10.22"/><rect x="404.64" y="147.17" width="1.61" height="6.13"/><rect x="406.09" y="151.11" width="7.45" height="2.19"/><rect x="413.39" y="150.38" width="4.53" height="2.92"/><rect x="417.77" y="140.16" width="3.8" height="13.14"/><rect x="421.42" y="132.13" width="1.17" height="21.17"/><rect x="422.45" y="118.99" width="2.05" height="34.31"/><rect x="424.34" y="144.1" width="2.34" height="9.2"/><rect x="426.53" y="148.92" width="1.61" height="4.38"/><rect x="427.99" y="135.34" width="2.34" height="17.96"/><rect x="430.18" y="148.92" width="1.61" height="4.38"/><rect x="431.64" y="140.89" width="3.07" height="12.41"/><rect x="434.56" y="137.24" width="2.34" height="16.06"/><rect x="436.75" y="139.14" width="2.34" height="14.16"/><rect x="438.94" y="146" width="2.34" height="7.3"/><rect x="441.13" y="145.27" width="3.07" height="8.03"/><rect x="444.05" y="147.46" width="4.53" height="5.84"/><rect x="448.43" y="146" width="1.72" height="7.3"/><rect x="450" y="147.46" width="1.72" height="5.84"/><rect x="451.57" y="149.65" width="3.07" height="3.65"/><rect x="456.68" y="150.38" width="8.18" height="2.92"/><rect x="469.82" y="131.4" width="1.61" height="21.9"/><rect x="471.28" y="108.77" width="2.34" height="44.53"/><rect x="473.47" y="129.21" width="1.61" height="24.09"/><rect x="474.93" y="120.75" width="3.07" height="32.55"/><rect x="477.85" y="150.38" width="2.34" height="2.92"/><rect x="481.5" y="148.92" width="3.07" height="4.38"/><rect x="484.42" y="151.11" width="10.37" height="2.19"/><rect x="494.93" y="114.91" width="2.78" height="38.39"/><rect x="497.55" y="151.11" width="2.34" height="2.19"/><rect x="499.74" y="149.65" width="10.37" height="3.65"/><rect x="509.96" y="148.19" width="3.07" height="5.11"/><rect x="522.08" y="149.65" width="2.63" height="3.65"/><rect x="524.56" y="148.19" width="2.34" height="5.11"/><rect x="526.75" y="141.18" width="3.07" height="12.12"/><rect x="529.67" y="150.38" width="1.61" height="2.92"/><rect x="531.13" y="148.92" width="1.61" height="4.38"/><rect x="532.59" y="149.65" width="2.56" height="3.65"/><rect x="535" y="150.38" width="8.91" height="2.92"/><rect x="543.76" y="147.9" width="3.36" height="5.4"/><rect x="546.97" y="133.3" width="3.07" height="20"/><rect x="574.42" y="151.11" width="3.07" height="2.19"/><rect x="577.34" y="148.92" width="5.99" height="4.38"/><rect x="583.18" y="150.38" width="5.99" height="2.92"/><rect x="589.01" y="148.92" width="3.8" height="4.38"/><rect x="592.66" y="148.19" width="4.53" height="5.11"/><rect x="602.15" y="149.94" width="5.26" height="3.36"/><rect x="607.26" y="151.84" width="4.53" height="1.46"/><rect x="611.64" y="152.57" width="3.07" height="0.73"/><rect x="614.56" y="149.65" width="0.59" height="3.65"/><rect x="615" y="150.23" width="5.77" height="3.07"/><rect x="620.62" y="152.58" width="3.22" height="0.72"/><rect x="623.69" y="150.95" width="7.81" height="2.35"/><rect x="631.35" y="152.79" width="2.19" height="0.51"/><rect x="633.39" y="152.28" width="3.73" height="1.02"/><rect x="636.97" y="150.75" width="6.28" height="2.55"/><rect x="643.1" y="151.26" width="4.75" height="2.04"/><rect x="647.7" y="147.17" width="3.22" height="6.13"/><rect x="650.77" y="150.23" width="9.35" height="3.07"/><rect x="659.96" y="151.77" width="2.19" height="1.53"/><rect x="662.01" y="150.75" width="8.84" height="2.55"/><rect x="670.69" y="149.21" width="3.22" height="4.09"/><rect x="673.76" y="151.77" width="2.19" height="1.53"/></g>
<line x1="358" y1="153.3" x2="683.7" y2="153.3" stroke="#111" stroke-width="1.1"/>
<rect x="358.4" y="37.3" width="325.3" height="122.9" fill="none" stroke="#3a3a3a" stroke-width="1.1"/>
<line x1="358.4" y1="153.3" x2="362.2" y2="153.3" stroke="#333" stroke-width="1"/>
<line x1="683.7" y1="153.3" x2="679.9" y2="153.3" stroke="#333" stroke-width="1"/>
<line x1="358.4" y1="146.48" x2="361.4" y2="146.48" stroke="#333" stroke-width="1"/>
<line x1="683.7" y1="146.48" x2="680.7" y2="146.48" stroke="#333" stroke-width="1"/>
<line x1="358.4" y1="139.66" x2="362.2" y2="139.66" stroke="#333" stroke-width="1"/>
<line x1="683.7" y1="139.66" x2="679.9" y2="139.66" stroke="#333" stroke-width="1"/>
<line x1="358.4" y1="132.84" x2="361.4" y2="132.84" stroke="#333" stroke-width="1"/>
<line x1="683.7" y1="132.84" x2="680.7" y2="132.84" stroke="#333" stroke-width="1"/>
<line x1="358.4" y1="126.02" x2="362.2" y2="126.02" stroke="#333" stroke-width="1"/>
<line x1="683.7" y1="126.02" x2="679.9" y2="126.02" stroke="#333" stroke-width="1"/>
<line x1="358.4" y1="119.2" x2="361.4" y2="119.2" stroke="#333" stroke-width="1"/>
<line x1="683.7" y1="119.2" x2="680.7" y2="119.2" stroke="#333" stroke-width="1"/>
<line x1="358.4" y1="112.38" x2="362.2" y2="112.38" stroke="#333" stroke-width="1"/>
<line x1="683.7" y1="112.38" x2="679.9" y2="112.38" stroke="#333" stroke-width="1"/>
<line x1="358.4" y1="105.56" x2="361.4" y2="105.56" stroke="#333" stroke-width="1"/>
<line x1="683.7" y1="105.56" x2="680.7" y2="105.56" stroke="#333" stroke-width="1"/>
<line x1="358.4" y1="98.74" x2="362.2" y2="98.74" stroke="#333" stroke-width="1"/>
<line x1="683.7" y1="98.74" x2="679.9" y2="98.74" stroke="#333" stroke-width="1"/>
<line x1="358.4" y1="91.92" x2="361.4" y2="91.92" stroke="#333" stroke-width="1"/>
<line x1="683.7" y1="91.92" x2="680.7" y2="91.92" stroke="#333" stroke-width="1"/>
<line x1="358.4" y1="85.1" x2="362.2" y2="85.1" stroke="#333" stroke-width="1"/>
<line x1="683.7" y1="85.1" x2="679.9" y2="85.1" stroke="#333" stroke-width="1"/>
<line x1="358.4" y1="78.28" x2="361.4" y2="78.28" stroke="#333" stroke-width="1"/>
<line x1="683.7" y1="78.28" x2="680.7" y2="78.28" stroke="#333" stroke-width="1"/>
<line x1="358.4" y1="71.46" x2="362.2" y2="71.46" stroke="#333" stroke-width="1"/>
<line x1="683.7" y1="71.46" x2="679.9" y2="71.46" stroke="#333" stroke-width="1"/>
<line x1="358.4" y1="64.64" x2="361.4" y2="64.64" stroke="#333" stroke-width="1"/>
<line x1="683.7" y1="64.64" x2="680.7" y2="64.64" stroke="#333" stroke-width="1"/>
<line x1="358.4" y1="57.82" x2="362.2" y2="57.82" stroke="#333" stroke-width="1"/>
<line x1="683.7" y1="57.82" x2="679.9" y2="57.82" stroke="#333" stroke-width="1"/>
<line x1="358.4" y1="51" x2="361.4" y2="51" stroke="#333" stroke-width="1"/>
<line x1="683.7" y1="51" x2="680.7" y2="51" stroke="#333" stroke-width="1"/>
<line x1="358.4" y1="44.18" x2="362.2" y2="44.18" stroke="#333" stroke-width="1"/>
<line x1="683.7" y1="44.18" x2="679.9" y2="44.18" stroke="#333" stroke-width="1"/>
<text x="352.9" y="157.19" font-size="10.8" text-anchor="end" fill="#1a1a1a">0</text>
<text x="352.9" y="143.55" font-size="10.8" text-anchor="end" fill="#1a1a1a">0.2</text>
<text x="352.9" y="129.91" font-size="10.8" text-anchor="end" fill="#1a1a1a">0.4</text>
<text x="352.9" y="116.27" font-size="10.8" text-anchor="end" fill="#1a1a1a">0.6</text>
<text x="352.9" y="102.63" font-size="10.8" text-anchor="end" fill="#1a1a1a">0.8</text>
<text x="352.9" y="88.99" font-size="10.8" text-anchor="end" fill="#1a1a1a">1</text>
<text x="352.9" y="75.35" font-size="10.8" text-anchor="end" fill="#1a1a1a">1.2</text>
<text x="352.9" y="61.71" font-size="10.8" text-anchor="end" fill="#1a1a1a">1.4</text>
<text x="352.9" y="48.07" font-size="10.8" text-anchor="end" fill="#1a1a1a">1.6</text>
<line x1="365.7" y1="160.2" x2="365.7" y2="156" stroke="#333" stroke-width="1"/>
<line x1="373.2" y1="160.2" x2="373.2" y2="156" stroke="#333" stroke-width="1"/>
<line x1="380.7" y1="160.2" x2="380.7" y2="156" stroke="#333" stroke-width="1"/>
<line x1="388.2" y1="160.2" x2="388.2" y2="156" stroke="#333" stroke-width="1"/>
<line x1="395.7" y1="160.2" x2="395.7" y2="156" stroke="#333" stroke-width="1"/>
<line x1="403.2" y1="160.2" x2="403.2" y2="156" stroke="#333" stroke-width="1"/>
<line x1="410.7" y1="160.2" x2="410.7" y2="156" stroke="#333" stroke-width="1"/>
<line x1="418.2" y1="160.2" x2="418.2" y2="156" stroke="#333" stroke-width="1"/>
<line x1="425.7" y1="160.2" x2="425.7" y2="156" stroke="#333" stroke-width="1"/>
<line x1="433.2" y1="160.2" x2="433.2" y2="156" stroke="#333" stroke-width="1"/>
<line x1="440.7" y1="160.2" x2="440.7" y2="156" stroke="#333" stroke-width="1"/>
<line x1="448.2" y1="160.2" x2="448.2" y2="156" stroke="#333" stroke-width="1"/>
<line x1="455.7" y1="160.2" x2="455.7" y2="156" stroke="#333" stroke-width="1"/>
<line x1="463.2" y1="160.2" x2="463.2" y2="156" stroke="#333" stroke-width="1"/>
<line x1="470.7" y1="160.2" x2="470.7" y2="156" stroke="#333" stroke-width="1"/>
<line x1="478.2" y1="160.2" x2="478.2" y2="156" stroke="#333" stroke-width="1"/>
<line x1="485.7" y1="160.2" x2="485.7" y2="156" stroke="#333" stroke-width="1"/>
<line x1="493.2" y1="160.2" x2="493.2" y2="156" stroke="#333" stroke-width="1"/>
<line x1="500.7" y1="160.2" x2="500.7" y2="156" stroke="#333" stroke-width="1"/>
<line x1="508.2" y1="160.2" x2="508.2" y2="156" stroke="#333" stroke-width="1"/>
<line x1="515.7" y1="160.2" x2="515.7" y2="156" stroke="#333" stroke-width="1"/>
<line x1="523.2" y1="160.2" x2="523.2" y2="156" stroke="#333" stroke-width="1"/>
<line x1="530.7" y1="160.2" x2="530.7" y2="156" stroke="#333" stroke-width="1"/>
<line x1="538.2" y1="160.2" x2="538.2" y2="156" stroke="#333" stroke-width="1"/>
<line x1="545.7" y1="160.2" x2="545.7" y2="156" stroke="#333" stroke-width="1"/>
<line x1="553.2" y1="160.2" x2="553.2" y2="156" stroke="#333" stroke-width="1"/>
<line x1="560.7" y1="160.2" x2="560.7" y2="156" stroke="#333" stroke-width="1"/>
<line x1="568.2" y1="160.2" x2="568.2" y2="156" stroke="#333" stroke-width="1"/>
<line x1="575.7" y1="160.2" x2="575.7" y2="156" stroke="#333" stroke-width="1"/>
<line x1="583.2" y1="160.2" x2="583.2" y2="156" stroke="#333" stroke-width="1"/>
<line x1="590.7" y1="160.2" x2="590.7" y2="156" stroke="#333" stroke-width="1"/>
<line x1="598.2" y1="160.2" x2="598.2" y2="156" stroke="#333" stroke-width="1"/>
<line x1="605.7" y1="160.2" x2="605.7" y2="156" stroke="#333" stroke-width="1"/>
<line x1="613.2" y1="160.2" x2="613.2" y2="156" stroke="#333" stroke-width="1"/>
<line x1="620.7" y1="160.2" x2="620.7" y2="156" stroke="#333" stroke-width="1"/>
<line x1="628.2" y1="160.2" x2="628.2" y2="156" stroke="#333" stroke-width="1"/>
<line x1="635.7" y1="160.2" x2="635.7" y2="156" stroke="#333" stroke-width="1"/>
<line x1="643.2" y1="160.2" x2="643.2" y2="156" stroke="#333" stroke-width="1"/>
<line x1="650.7" y1="160.2" x2="650.7" y2="156" stroke="#333" stroke-width="1"/>
<line x1="658.2" y1="160.2" x2="658.2" y2="156" stroke="#333" stroke-width="1"/>
<line x1="665.7" y1="160.2" x2="665.7" y2="156" stroke="#333" stroke-width="1"/>
<line x1="673.2" y1="160.2" x2="673.2" y2="156" stroke="#333" stroke-width="1"/>
<line x1="680.7" y1="160.2" x2="680.7" y2="156" stroke="#333" stroke-width="1"/>
<text x="358.2" y="174.16" font-size="11" text-anchor="middle" fill="#1a1a1a">450</text>
<text x="388.2" y="174.16" font-size="11" text-anchor="middle" fill="#1a1a1a">480</text>
<text x="418.2" y="174.16" font-size="11" text-anchor="middle" fill="#1a1a1a">510</text>
<text x="448.2" y="174.16" font-size="11" text-anchor="middle" fill="#1a1a1a">540</text>
<text x="478.2" y="174.16" font-size="11" text-anchor="middle" fill="#1a1a1a">570</text>
<text x="508.2" y="174.16" font-size="11" text-anchor="middle" fill="#1a1a1a">600</text>
<text x="538.2" y="174.16" font-size="11" text-anchor="middle" fill="#1a1a1a">630</text>
<text x="568.2" y="174.16" font-size="11" text-anchor="middle" fill="#1a1a1a">660</text>
<text x="598.2" y="174.16" font-size="11" text-anchor="middle" fill="#1a1a1a">690</text>
<text x="628.2" y="174.16" font-size="11" text-anchor="middle" fill="#1a1a1a">720</text>
<text x="658.2" y="174.16" font-size="11" text-anchor="middle" fill="#1a1a1a">750</text>
<text transform="translate(328.2,99.2) rotate(-90)" x="0" y="0" font-size="11" text-anchor="middle" fill="#1a1a1a">&#916;&#948;avg. (p.p.m.)</text>
<g fill="#3d4b88" font-size="7" text-anchor="middle"><text x="387.5" y="121">485</text><text x="402.8" y="118">489</text><text x="423.3" y="118">515</text><text x="474.9" y="107.1">564</text><text x="499.4" y="113.4">588</text></g>
<g fill="#5d6db2" font-size="7" text-anchor="middle"><text x="404.5" y="127.5">490</text><text x="482.4" y="121">568</text><text x="464.7" y="127.5">565</text><text x="484.2" y="130">567</text><text x="551.4" y="131.9">640</text></g>
<g fill="#a3a9d2" font-size="7" text-anchor="middle"><text x="385.3" y="134.8">484</text><text x="406.3" y="138">491</text><text x="416.3" y="131.9">514</text><text x="430.9" y="134.5">521</text><text x="441.1" y="136.3">525</text><text x="447.1" y="142.9">528</text><text x="464" y="137">563</text><text x="484.2" y="136">566</text></g>
<text x="321.4" y="196.05" font-size="8.2" text-anchor="start" fill="#1a1a1a">Sec. structure</text>
<text x="321.4" y="206.95" font-size="8.2" text-anchor="start" fill="#1a1a1a">(apo: 1FGK.pdb)</text>
<rect x="388.4" y="201.5" width="8.1" height="5.8" fill="#111" stroke="none" stroke-width="1"/>
<rect x="399.8" y="201.5" width="8.3" height="5.8" fill="#111" stroke="none" stroke-width="1"/>
<rect x="417.7" y="201.5" width="8.8" height="5.8" fill="#111" stroke="none" stroke-width="1"/>
<rect x="431.95" y="201.95" width="15.1" height="4.9" fill="#fff" stroke="#222" stroke-width="0.9"/>
<rect x="456.6" y="201.5" width="5.4" height="5.8" fill="#111" stroke="none" stroke-width="1"/>
<rect x="468.6" y="201.5" width="5.5" height="5.8" fill="#111" stroke="none" stroke-width="1"/>
<rect x="481.75" y="201.95" width="5" height="4.9" fill="#fff" stroke="#222" stroke-width="0.9"/>
<rect x="509.95" y="201.95" width="18.2" height="4.9" fill="#fff" stroke="#222" stroke-width="0.9"/>
<rect x="540.4" y="201.5" width="3.8" height="5.8" fill="#111" stroke="none" stroke-width="1"/>
<rect x="547.7" y="201.5" width="4.1" height="5.8" fill="#111" stroke="none" stroke-width="1"/>
<rect x="582.95" y="201.95" width="3.5" height="4.9" fill="#fff" stroke="#222" stroke-width="0.9"/>
<rect x="594.65" y="201.95" width="13.9" height="4.9" fill="#fff" stroke="#222" stroke-width="0.9"/>
<rect x="620.95" y="201.95" width="8.2" height="4.9" fill="#fff" stroke="#222" stroke-width="0.9"/>
<rect x="642.35" y="201.95" width="8.7" height="4.9" fill="#fff" stroke="#222" stroke-width="0.9"/>
<rect x="662.05" y="201.95" width="13.2" height="4.9" fill="#fff" stroke="#222" stroke-width="0.9"/>
<text x="401.2" y="198.15" font-size="8.2" text-anchor="middle" fill="#1a1a1a">P-loop</text>
<text x="439.3" y="198.15" font-size="8.2" text-anchor="middle" fill="#1a1a1a">C-helix</text>
<text x="480.6" y="198.15" font-size="8.2" text-anchor="middle" fill="#1a1a1a">Hinge</text>
<text x="574" y="198.15" font-size="8.2" text-anchor="middle" fill="#1a1a1a">Activation loop</text>
<g fill="#000"><rect x="358.65" y="330.77" width="5.26" height="0.73"/><rect x="363.76" y="329.75" width="5.26" height="1.75"/><rect x="368.87" y="328.29" width="3.07" height="3.21"/><rect x="371.79" y="331.21" width="2.34" height="0.29"/><rect x="373.98" y="328.73" width="3.07" height="2.77"/><rect x="376.9" y="328.29" width="2.34" height="3.21"/><rect x="379.09" y="323.18" width="5.26" height="8.32"/><rect x="384.2" y="326.83" width="2.34" height="4.67"/><rect x="386.39" y="328.29" width="3.07" height="3.21"/><rect x="389.31" y="322.89" width="1.61" height="8.61"/><rect x="390.77" y="318.51" width="3.07" height="12.99"/><rect x="393.69" y="330.48" width="2.34" height="1.02"/><rect x="395.88" y="319.09" width="2.34" height="12.41"/><rect x="398.07" y="314.13" width="4.53" height="17.37"/><rect x="402.45" y="329.02" width="2.34" height="2.48"/><rect x="404.64" y="325.37" width="2.34" height="6.13"/><rect x="406.82" y="330.48" width="9.64" height="1.02"/><rect x="416.31" y="327.56" width="3.07" height="3.94"/><rect x="419.23" y="331.21" width="1.9" height="0.29"/><rect x="420.99" y="321.43" width="1.32" height="10.07"/><rect x="422.15" y="303.47" width="2.34" height="28.03"/><rect x="424.34" y="323.18" width="1.61" height="8.32"/><rect x="425.8" y="328.29" width="8.91" height="3.21"/><rect x="434.56" y="320.26" width="3.8" height="11.24"/><rect x="438.21" y="312.96" width="4.53" height="18.54"/><rect x="442.59" y="321.72" width="3.07" height="9.78"/><rect x="445.51" y="317.34" width="2.34" height="14.16"/><rect x="447.7" y="300.26" width="3.07" height="31.24"/><rect x="450.62" y="258.95" width="2.63" height="72.55"/><rect x="453.1" y="293.98" width="0.95" height="37.52"/><rect x="453.9" y="293.98" width="3.04" height="37.52"/><rect x="456.79" y="318.8" width="1.61" height="12.7"/><rect x="458.25" y="318.07" width="2.34" height="13.43"/><rect x="460.44" y="326.83" width="3.07" height="4.67"/><rect x="463.36" y="326.39" width="3.8" height="5.11"/><rect x="470.66" y="220.7" width="3.36" height="110.8"/><rect x="473.87" y="311.5" width="2.05" height="20"/><rect x="475.77" y="319.09" width="1.61" height="12.41"/><rect x="477.23" y="327.85" width="6.72" height="3.65"/><rect x="483.8" y="330.48" width="8.91" height="1.02"/><rect x="492.55" y="329.02" width="21.32" height="2.48"/><rect x="521.75" y="320.26" width="3.07" height="11.24"/><rect x="524.67" y="302.74" width="2.34" height="28.76"/><rect x="526.86" y="293.25" width="3.07" height="38.25"/><rect x="529.78" y="329.02" width="1.61" height="2.48"/><rect x="531.24" y="324.64" width="3.07" height="6.86"/><rect x="534.16" y="318.07" width="3.8" height="13.43"/><rect x="537.81" y="329.02" width="2.34" height="2.48"/><rect x="541.2" y="327.56" width="3.04" height="3.94"/><rect x="544.09" y="325.81" width="3.07" height="5.69"/><rect x="547.01" y="308.58" width="1.61" height="22.92"/><rect x="548.47" y="264.49" width="3.07" height="67.01"/><rect x="551.39" y="308.58" width="0.88" height="22.92"/><rect x="572.55" y="328" width="3.07" height="3.5"/><rect x="575.47" y="329.75" width="3.8" height="1.75"/><rect x="579.12" y="327.27" width="2.34" height="4.23"/><rect x="581.31" y="324.64" width="3.07" height="6.86"/><rect x="584.23" y="328.73" width="8.18" height="2.77"/><rect x="592.26" y="326.54" width="4.53" height="4.96"/><rect x="602.48" y="330.19" width="6.72" height="1.31"/><rect x="609.05" y="330.77" width="5.99" height="0.73"/><rect x="614.89" y="329.46" width="5.26" height="2.04"/><rect x="620.47" y="331" width="4.49" height="0.5"/><rect x="624.82" y="329.64" width="6.35" height="1.86"/><rect x="631.02" y="331.25" width="6.35" height="0.25"/><rect x="637.23" y="330.38" width="5.11" height="1.12"/><rect x="642.19" y="293.41" width="3.25" height="38.09"/><rect x="645.29" y="330.01" width="2.63" height="1.49"/><rect x="647.77" y="325.42" width="2.63" height="6.08"/><rect x="650.25" y="330.63" width="4.49" height="0.87"/><rect x="654.6" y="329.14" width="3.87" height="2.36"/><rect x="658.32" y="330.63" width="5.11" height="0.87"/><rect x="663.28" y="328.77" width="3.87" height="2.73"/><rect x="667.01" y="329.39" width="5.11" height="2.11"/><rect x="671.97" y="330.63" width="3.87" height="0.87"/></g>
<line x1="358" y1="331.5" x2="683.7" y2="331.5" stroke="#111" stroke-width="1.1"/>
<rect x="358.4" y="215.5" width="325.3" height="122.9" fill="none" stroke="#3a3a3a" stroke-width="1.1"/>
<line x1="358.4" y1="331.5" x2="362.2" y2="331.5" stroke="#333" stroke-width="1"/>
<line x1="683.7" y1="331.5" x2="679.9" y2="331.5" stroke="#333" stroke-width="1"/>
<line x1="358.4" y1="324.68" x2="361.4" y2="324.68" stroke="#333" stroke-width="1"/>
<line x1="683.7" y1="324.68" x2="680.7" y2="324.68" stroke="#333" stroke-width="1"/>
<line x1="358.4" y1="317.86" x2="362.2" y2="317.86" stroke="#333" stroke-width="1"/>
<line x1="683.7" y1="317.86" x2="679.9" y2="317.86" stroke="#333" stroke-width="1"/>
<line x1="358.4" y1="311.04" x2="361.4" y2="311.04" stroke="#333" stroke-width="1"/>
<line x1="683.7" y1="311.04" x2="680.7" y2="311.04" stroke="#333" stroke-width="1"/>
<line x1="358.4" y1="304.22" x2="362.2" y2="304.22" stroke="#333" stroke-width="1"/>
<line x1="683.7" y1="304.22" x2="679.9" y2="304.22" stroke="#333" stroke-width="1"/>
<line x1="358.4" y1="297.4" x2="361.4" y2="297.4" stroke="#333" stroke-width="1"/>
<line x1="683.7" y1="297.4" x2="680.7" y2="297.4" stroke="#333" stroke-width="1"/>
<line x1="358.4" y1="290.58" x2="362.2" y2="290.58" stroke="#333" stroke-width="1"/>
<line x1="683.7" y1="290.58" x2="679.9" y2="290.58" stroke="#333" stroke-width="1"/>
<line x1="358.4" y1="283.76" x2="361.4" y2="283.76" stroke="#333" stroke-width="1"/>
<line x1="683.7" y1="283.76" x2="680.7" y2="283.76" stroke="#333" stroke-width="1"/>
<line x1="358.4" y1="276.94" x2="362.2" y2="276.94" stroke="#333" stroke-width="1"/>
<line x1="683.7" y1="276.94" x2="679.9" y2="276.94" stroke="#333" stroke-width="1"/>
<line x1="358.4" y1="270.12" x2="361.4" y2="270.12" stroke="#333" stroke-width="1"/>
<line x1="683.7" y1="270.12" x2="680.7" y2="270.12" stroke="#333" stroke-width="1"/>
<line x1="358.4" y1="263.3" x2="362.2" y2="263.3" stroke="#333" stroke-width="1"/>
<line x1="683.7" y1="263.3" x2="679.9" y2="263.3" stroke="#333" stroke-width="1"/>
<line x1="358.4" y1="256.48" x2="361.4" y2="256.48" stroke="#333" stroke-width="1"/>
<line x1="683.7" y1="256.48" x2="680.7" y2="256.48" stroke="#333" stroke-width="1"/>
<line x1="358.4" y1="249.66" x2="362.2" y2="249.66" stroke="#333" stroke-width="1"/>
<line x1="683.7" y1="249.66" x2="679.9" y2="249.66" stroke="#333" stroke-width="1"/>
<line x1="358.4" y1="242.84" x2="361.4" y2="242.84" stroke="#333" stroke-width="1"/>
<line x1="683.7" y1="242.84" x2="680.7" y2="242.84" stroke="#333" stroke-width="1"/>
<line x1="358.4" y1="236.02" x2="362.2" y2="236.02" stroke="#333" stroke-width="1"/>
<line x1="683.7" y1="236.02" x2="679.9" y2="236.02" stroke="#333" stroke-width="1"/>
<line x1="358.4" y1="229.2" x2="361.4" y2="229.2" stroke="#333" stroke-width="1"/>
<line x1="683.7" y1="229.2" x2="680.7" y2="229.2" stroke="#333" stroke-width="1"/>
<line x1="358.4" y1="222.38" x2="362.2" y2="222.38" stroke="#333" stroke-width="1"/>
<line x1="683.7" y1="222.38" x2="679.9" y2="222.38" stroke="#333" stroke-width="1"/>
<text x="352.9" y="335.39" font-size="10.8" text-anchor="end" fill="#1a1a1a">0</text>
<text x="352.9" y="321.75" font-size="10.8" text-anchor="end" fill="#1a1a1a">0.2</text>
<text x="352.9" y="308.11" font-size="10.8" text-anchor="end" fill="#1a1a1a">0.4</text>
<text x="352.9" y="294.47" font-size="10.8" text-anchor="end" fill="#1a1a1a">0.6</text>
<text x="352.9" y="280.83" font-size="10.8" text-anchor="end" fill="#1a1a1a">0.8</text>
<text x="352.9" y="267.19" font-size="10.8" text-anchor="end" fill="#1a1a1a">1</text>
<text x="352.9" y="253.55" font-size="10.8" text-anchor="end" fill="#1a1a1a">1.2</text>
<text x="352.9" y="239.91" font-size="10.8" text-anchor="end" fill="#1a1a1a">1.4</text>
<text x="352.9" y="226.27" font-size="10.8" text-anchor="end" fill="#1a1a1a">1.6</text>
<line x1="365.7" y1="338.4" x2="365.7" y2="334.2" stroke="#333" stroke-width="1"/>
<line x1="373.2" y1="338.4" x2="373.2" y2="334.2" stroke="#333" stroke-width="1"/>
<line x1="380.7" y1="338.4" x2="380.7" y2="334.2" stroke="#333" stroke-width="1"/>
<line x1="388.2" y1="338.4" x2="388.2" y2="334.2" stroke="#333" stroke-width="1"/>
<line x1="395.7" y1="338.4" x2="395.7" y2="334.2" stroke="#333" stroke-width="1"/>
<line x1="403.2" y1="338.4" x2="403.2" y2="334.2" stroke="#333" stroke-width="1"/>
<line x1="410.7" y1="338.4" x2="410.7" y2="334.2" stroke="#333" stroke-width="1"/>
<line x1="418.2" y1="338.4" x2="418.2" y2="334.2" stroke="#333" stroke-width="1"/>
<line x1="425.7" y1="338.4" x2="425.7" y2="334.2" stroke="#333" stroke-width="1"/>
<line x1="433.2" y1="338.4" x2="433.2" y2="334.2" stroke="#333" stroke-width="1"/>
<line x1="440.7" y1="338.4" x2="440.7" y2="334.2" stroke="#333" stroke-width="1"/>
<line x1="448.2" y1="338.4" x2="448.2" y2="334.2" stroke="#333" stroke-width="1"/>
<line x1="455.7" y1="338.4" x2="455.7" y2="334.2" stroke="#333" stroke-width="1"/>
<line x1="463.2" y1="338.4" x2="463.2" y2="334.2" stroke="#333" stroke-width="1"/>
<line x1="470.7" y1="338.4" x2="470.7" y2="334.2" stroke="#333" stroke-width="1"/>
<line x1="478.2" y1="338.4" x2="478.2" y2="334.2" stroke="#333" stroke-width="1"/>
<line x1="485.7" y1="338.4" x2="485.7" y2="334.2" stroke="#333" stroke-width="1"/>
<line x1="493.2" y1="338.4" x2="493.2" y2="334.2" stroke="#333" stroke-width="1"/>
<line x1="500.7" y1="338.4" x2="500.7" y2="334.2" stroke="#333" stroke-width="1"/>
<line x1="508.2" y1="338.4" x2="508.2" y2="334.2" stroke="#333" stroke-width="1"/>
<line x1="515.7" y1="338.4" x2="515.7" y2="334.2" stroke="#333" stroke-width="1"/>
<line x1="523.2" y1="338.4" x2="523.2" y2="334.2" stroke="#333" stroke-width="1"/>
<line x1="530.7" y1="338.4" x2="530.7" y2="334.2" stroke="#333" stroke-width="1"/>
<line x1="538.2" y1="338.4" x2="538.2" y2="334.2" stroke="#333" stroke-width="1"/>
<line x1="545.7" y1="338.4" x2="545.7" y2="334.2" stroke="#333" stroke-width="1"/>
<line x1="553.2" y1="338.4" x2="553.2" y2="334.2" stroke="#333" stroke-width="1"/>
<line x1="560.7" y1="338.4" x2="560.7" y2="334.2" stroke="#333" stroke-width="1"/>
<line x1="568.2" y1="338.4" x2="568.2" y2="334.2" stroke="#333" stroke-width="1"/>
<line x1="575.7" y1="338.4" x2="575.7" y2="334.2" stroke="#333" stroke-width="1"/>
<line x1="583.2" y1="338.4" x2="583.2" y2="334.2" stroke="#333" stroke-width="1"/>
<line x1="590.7" y1="338.4" x2="590.7" y2="334.2" stroke="#333" stroke-width="1"/>
<line x1="598.2" y1="338.4" x2="598.2" y2="334.2" stroke="#333" stroke-width="1"/>
<line x1="605.7" y1="338.4" x2="605.7" y2="334.2" stroke="#333" stroke-width="1"/>
<line x1="613.2" y1="338.4" x2="613.2" y2="334.2" stroke="#333" stroke-width="1"/>
<line x1="620.7" y1="338.4" x2="620.7" y2="334.2" stroke="#333" stroke-width="1"/>
<line x1="628.2" y1="338.4" x2="628.2" y2="334.2" stroke="#333" stroke-width="1"/>
<line x1="635.7" y1="338.4" x2="635.7" y2="334.2" stroke="#333" stroke-width="1"/>
<line x1="643.2" y1="338.4" x2="643.2" y2="334.2" stroke="#333" stroke-width="1"/>
<line x1="650.7" y1="338.4" x2="650.7" y2="334.2" stroke="#333" stroke-width="1"/>
<line x1="658.2" y1="338.4" x2="658.2" y2="334.2" stroke="#333" stroke-width="1"/>
<line x1="665.7" y1="338.4" x2="665.7" y2="334.2" stroke="#333" stroke-width="1"/>
<line x1="673.2" y1="338.4" x2="673.2" y2="334.2" stroke="#333" stroke-width="1"/>
<line x1="680.7" y1="338.4" x2="680.7" y2="334.2" stroke="#333" stroke-width="1"/>
<text x="358.2" y="352.36" font-size="11" text-anchor="middle" fill="#1a1a1a">450</text>
<text x="388.2" y="352.36" font-size="11" text-anchor="middle" fill="#1a1a1a">480</text>
<text x="418.2" y="352.36" font-size="11" text-anchor="middle" fill="#1a1a1a">510</text>
<text x="448.2" y="352.36" font-size="11" text-anchor="middle" fill="#1a1a1a">540</text>
<text x="478.2" y="352.36" font-size="11" text-anchor="middle" fill="#1a1a1a">570</text>
<text x="508.2" y="352.36" font-size="11" text-anchor="middle" fill="#1a1a1a">600</text>
<text x="538.2" y="352.36" font-size="11" text-anchor="middle" fill="#1a1a1a">630</text>
<text x="568.2" y="352.36" font-size="11" text-anchor="middle" fill="#1a1a1a">660</text>
<text x="598.2" y="352.36" font-size="11" text-anchor="middle" fill="#1a1a1a">690</text>
<text x="628.2" y="352.36" font-size="11" text-anchor="middle" fill="#1a1a1a">720</text>
<text x="658.2" y="352.36" font-size="11" text-anchor="middle" fill="#1a1a1a">750</text>
<text transform="translate(328.2,277.4) rotate(-90)" x="0" y="0" font-size="11" text-anchor="middle" fill="#1a1a1a">&#916;&#948;avg. (p.p.m.)</text>
<g fill="#6a1c2c" font-size="7" text-anchor="middle"><text x="455.1" y="257.2">544</text><text x="481.1" y="223.6">564</text><text x="553" y="262.6">641</text></g>
<g fill="#c9354b" font-size="7" text-anchor="middle"><text x="426.1" y="301.9">515</text><text x="443.7" y="298.5">543</text><text x="460.6" y="292.7">547</text><text x="519.9" y="302.9">619</text><text x="531.4" y="291">620</text></g>
<g fill="#d65a6a" font-size="7" text-anchor="middle"><text x="646.8" y="291.5">735</text></g>
<g fill="#eba3ae" font-size="7" text-anchor="middle"><text x="384.5" y="320.5">484</text><text x="394.4" y="313.1">491</text><text x="408.6" y="314.1">493</text><text x="432.4" y="317.9">531</text><text x="440.7" y="312.1">533</text><text x="442.6" y="306.5">540</text><text x="463.3" y="317.5">551</text><text x="479.8" y="309.9">565</text><text x="482.5" y="318.2">567</text><text x="519.7" y="317.5">618</text><text x="537.5" y="316.7">628</text><text x="542.1" y="306.4">640</text><text x="558.3" y="311.1">642</text></g>
<text x="524.8" y="369.82" font-size="12" text-anchor="middle" fill="#1a1a1a">Residue number</text>
<text x="404.1" y="422.5" font-size="11.4" text-anchor="start" fill="#1a1a1a">Unbound</text>
<text x="404.1" y="437.4" font-size="11.4" text-anchor="start" fill="#4a62a8">PDA bound</text>
<text x="404.1" y="450.7" font-size="11.4" text-anchor="start" fill="#d23c3c">Ponatinib bound</text>
<defs><linearGradient id="gb" x1="0" y1="0" x2="0" y2="1"><stop offset="0" stop-color="#2a3a86"/><stop offset="1" stop-color="#ffffff"/></linearGradient><linearGradient id="gr" x1="0" y1="0" x2="0" y2="1"><stop offset="0" stop-color="#dc4a2c"/><stop offset="1" stop-color="#ffffff"/></linearGradient></defs>
<path d="M281.5 72.4 L292.5 78.6 L286.6 78.6 L286.6 130 L276.4 130 L276.4 78.6 L271 78.6 Z" fill="url(#gb)" stroke="#1e2a6a" stroke-width="0.9"/>
<text x="282.2" y="65.86" font-size="11" text-anchor="middle" fill="#3a4a8e">0.65</text>
<text x="282.2" y="141.16" font-size="11" text-anchor="middle" fill="#9a9ad2">0.25</text>
<path d="M282.7 253 L293.4 259.4 L288.7 259.4 L288.7 309.9 L277.9 309.9 L277.9 259.4 L272 259.4 Z" fill="url(#gr)" stroke="#2a1510" stroke-width="0.9"/>
<text x="284" y="246.76" font-size="11" text-anchor="middle" fill="#d24a42">1.65</text>
<text x="284" y="320.56" font-size="11" text-anchor="middle" fill="#e29a92">0.25</text>
<text x="0.3" y="14.36" font-size="16" text-anchor="start" fill="#000" font-weight="bold">a</text>
<rect x="107.7" y="534" width="16.8" height="415" fill="#dcdcdc" stroke="none" stroke-width="1"/>
<rect x="130" y="534" width="17" height="415" fill="#dcdcdc" stroke="none" stroke-width="1"/>
<rect x="164" y="534" width="16.6" height="415" fill="#dcdcdc" stroke="none" stroke-width="1"/>
<rect x="189.8" y="534" width="32.4" height="415" fill="#dcdcdc" stroke="none" stroke-width="1"/>
<rect x="237.3" y="534" width="9" height="415" fill="#dcdcdc" stroke="none" stroke-width="1"/>
<rect x="258.2" y="534" width="9.1" height="415" fill="#dcdcdc" stroke="none" stroke-width="1"/>
<rect x="278.5" y="534" width="11" height="415" fill="#dcdcdc" stroke="none" stroke-width="1"/>
<rect x="331.1" y="534" width="37.4" height="415" fill="#dcdcdc" stroke="none" stroke-width="1"/>
<rect x="391.2" y="534" width="5.1" height="415" fill="#dcdcdc" stroke="none" stroke-width="1"/>
<rect x="406.2" y="534" width="5.5" height="415" fill="#dcdcdc" stroke="none" stroke-width="1"/>
<rect x="466.2" y="534" width="11.5" height="415" fill="#dcdcdc" stroke="none" stroke-width="1"/>
<rect x="485.2" y="534" width="29.7" height="415" fill="#dcdcdc" stroke="none" stroke-width="1"/>
<rect x="535.3" y="534" width="17.4" height="415" fill="#dcdcdc" stroke="none" stroke-width="1"/>
<rect x="574.8" y="534" width="19.2" height="415" fill="#dcdcdc" stroke="none" stroke-width="1"/>
<rect x="612.4" y="534" width="27.2" height="415" fill="#dcdcdc" stroke="none" stroke-width="1"/>
<line x1="53" y1="671.2" x2="657" y2="671.2" stroke="#111" stroke-width="1.6"/>
<line x1="53" y1="810.3" x2="657" y2="810.3" stroke="#111" stroke-width="1.6"/>
<line x1="53.3" y1="660.59" x2="56.9" y2="660.59" stroke="#222" stroke-width="1.3"/>
<line x1="53.3" y1="649.88" x2="61.3" y2="649.88" stroke="#222" stroke-width="1.3"/>
<text x="45.6" y="654.84" font-size="11" text-anchor="end" fill="#222">10</text>
<line x1="53.3" y1="639.17" x2="56.9" y2="639.17" stroke="#222" stroke-width="1.3"/>
<line x1="53.3" y1="628.46" x2="61.3" y2="628.46" stroke="#222" stroke-width="1.3"/>
<text x="45.6" y="633.42" font-size="11" text-anchor="end" fill="#222">20</text>
<line x1="53.3" y1="617.75" x2="56.9" y2="617.75" stroke="#222" stroke-width="1.3"/>
<line x1="53.3" y1="607.04" x2="61.3" y2="607.04" stroke="#222" stroke-width="1.3"/>
<text x="45.6" y="612" font-size="11" text-anchor="end" fill="#222">30</text>
<line x1="53.3" y1="596.33" x2="56.9" y2="596.33" stroke="#222" stroke-width="1.3"/>
<line x1="53.3" y1="585.62" x2="61.3" y2="585.62" stroke="#222" stroke-width="1.3"/>
<text x="45.6" y="590.58" font-size="11" text-anchor="end" fill="#222">40</text>
<line x1="53.3" y1="574.91" x2="56.9" y2="574.91" stroke="#222" stroke-width="1.3"/>
<line x1="53.3" y1="564.2" x2="61.3" y2="564.2" stroke="#222" stroke-width="1.3"/>
<text x="45.6" y="569.16" font-size="11" text-anchor="end" fill="#222">50</text>
<line x1="53.3" y1="553.49" x2="56.9" y2="553.49" stroke="#222" stroke-width="1.3"/>
<line x1="53.3" y1="542.78" x2="61.3" y2="542.78" stroke="#222" stroke-width="1.3"/>
<text x="45.6" y="547.74" font-size="11" text-anchor="end" fill="#222">60</text>
<line x1="74.16" y1="671.3" x2="74.16" y2="667.3" stroke="#333" stroke-width="1.3"/>
<line x1="93.03" y1="671.3" x2="93.03" y2="667.3" stroke="#333" stroke-width="1.3"/>
<line x1="111.9" y1="671.3" x2="111.9" y2="663.3" stroke="#333" stroke-width="1.3"/>
<line x1="130.77" y1="671.3" x2="130.77" y2="667.3" stroke="#333" stroke-width="1.3"/>
<line x1="149.64" y1="671.3" x2="149.64" y2="667.3" stroke="#333" stroke-width="1.3"/>
<line x1="168.51" y1="671.3" x2="168.51" y2="663.3" stroke="#333" stroke-width="1.3"/>
<line x1="187.38" y1="671.3" x2="187.38" y2="667.3" stroke="#333" stroke-width="1.3"/>
<line x1="206.25" y1="671.3" x2="206.25" y2="667.3" stroke="#333" stroke-width="1.3"/>
<line x1="225.12" y1="671.3" x2="225.12" y2="663.3" stroke="#333" stroke-width="1.3"/>
<line x1="243.99" y1="671.3" x2="243.99" y2="667.3" stroke="#333" stroke-width="1.3"/>
<line x1="262.86" y1="671.3" x2="262.86" y2="667.3" stroke="#333" stroke-width="1.3"/>
<line x1="281.73" y1="671.3" x2="281.73" y2="663.3" stroke="#333" stroke-width="1.3"/>
<line x1="300.6" y1="671.3" x2="300.6" y2="667.3" stroke="#333" stroke-width="1.3"/>
<line x1="319.47" y1="671.3" x2="319.47" y2="667.3" stroke="#333" stroke-width="1.3"/>
<line x1="338.34" y1="671.3" x2="338.34" y2="663.3" stroke="#333" stroke-width="1.3"/>
<line x1="357.21" y1="671.3" x2="357.21" y2="667.3" stroke="#333" stroke-width="1.3"/>
<line x1="376.08" y1="671.3" x2="376.08" y2="667.3" stroke="#333" stroke-width="1.3"/>
<line x1="394.95" y1="671.3" x2="394.95" y2="663.3" stroke="#333" stroke-width="1.3"/>
<line x1="413.82" y1="671.3" x2="413.82" y2="667.3" stroke="#333" stroke-width="1.3"/>
<line x1="432.69" y1="671.3" x2="432.69" y2="667.3" stroke="#333" stroke-width="1.3"/>
<line x1="451.56" y1="671.3" x2="451.56" y2="663.3" stroke="#333" stroke-width="1.3"/>
<line x1="470.43" y1="671.3" x2="470.43" y2="667.3" stroke="#333" stroke-width="1.3"/>
<line x1="489.3" y1="671.3" x2="489.3" y2="667.3" stroke="#333" stroke-width="1.3"/>
<line x1="508.17" y1="671.3" x2="508.17" y2="663.3" stroke="#333" stroke-width="1.3"/>
<line x1="527.04" y1="671.3" x2="527.04" y2="667.3" stroke="#333" stroke-width="1.3"/>
<line x1="545.91" y1="671.3" x2="545.91" y2="667.3" stroke="#333" stroke-width="1.3"/>
<line x1="564.78" y1="671.3" x2="564.78" y2="663.3" stroke="#333" stroke-width="1.3"/>
<line x1="583.65" y1="671.3" x2="583.65" y2="667.3" stroke="#333" stroke-width="1.3"/>
<line x1="602.52" y1="671.3" x2="602.52" y2="667.3" stroke="#333" stroke-width="1.3"/>
<line x1="621.39" y1="671.3" x2="621.39" y2="663.3" stroke="#333" stroke-width="1.3"/>
<line x1="640.26" y1="671.3" x2="640.26" y2="667.3" stroke="#333" stroke-width="1.3"/>
<line x1="53.3" y1="799.59" x2="56.9" y2="799.59" stroke="#222" stroke-width="1.3"/>
<line x1="53.3" y1="788.88" x2="61.3" y2="788.88" stroke="#222" stroke-width="1.3"/>
<text x="45.6" y="793.84" font-size="11" text-anchor="end" fill="#222">10</text>
<line x1="53.3" y1="778.17" x2="56.9" y2="778.17" stroke="#222" stroke-width="1.3"/>
<line x1="53.3" y1="767.46" x2="61.3" y2="767.46" stroke="#222" stroke-width="1.3"/>
<text x="45.6" y="772.42" font-size="11" text-anchor="end" fill="#222">20</text>
<line x1="53.3" y1="756.75" x2="56.9" y2="756.75" stroke="#222" stroke-width="1.3"/>
<line x1="53.3" y1="746.04" x2="61.3" y2="746.04" stroke="#222" stroke-width="1.3"/>
<text x="45.6" y="751" font-size="11" text-anchor="end" fill="#222">30</text>
<line x1="53.3" y1="735.33" x2="56.9" y2="735.33" stroke="#222" stroke-width="1.3"/>
<line x1="53.3" y1="724.62" x2="61.3" y2="724.62" stroke="#222" stroke-width="1.3"/>
<text x="45.6" y="729.58" font-size="11" text-anchor="end" fill="#222">40</text>
<line x1="53.3" y1="713.91" x2="56.9" y2="713.91" stroke="#222" stroke-width="1.3"/>
<line x1="53.3" y1="703.2" x2="61.3" y2="703.2" stroke="#222" stroke-width="1.3"/>
<text x="45.6" y="708.16" font-size="11" text-anchor="end" fill="#222">50</text>
<line x1="53.3" y1="692.49" x2="56.9" y2="692.49" stroke="#222" stroke-width="1.3"/>
<line x1="53.3" y1="681.78" x2="61.3" y2="681.78" stroke="#222" stroke-width="1.3"/>
<text x="45.6" y="686.74" font-size="11" text-anchor="end" fill="#222">60</text>
<line x1="74.16" y1="810.3" x2="74.16" y2="806.3" stroke="#333" stroke-width="1.3"/>
<line x1="93.03" y1="810.3" x2="93.03" y2="806.3" stroke="#333" stroke-width="1.3"/>
<line x1="111.9" y1="810.3" x2="111.9" y2="802.3" stroke="#333" stroke-width="1.3"/>
<line x1="130.77" y1="810.3" x2="130.77" y2="806.3" stroke="#333" stroke-width="1.3"/>
<line x1="149.64" y1="810.3" x2="149.64" y2="806.3" stroke="#333" stroke-width="1.3"/>
<line x1="168.51" y1="810.3" x2="168.51" y2="802.3" stroke="#333" stroke-width="1.3"/>
<line x1="187.38" y1="810.3" x2="187.38" y2="806.3" stroke="#333" stroke-width="1.3"/>
<line x1="206.25" y1="810.3" x2="206.25" y2="806.3" stroke="#333" stroke-width="1.3"/>
<line x1="225.12" y1="810.3" x2="225.12" y2="802.3" stroke="#333" stroke-width="1.3"/>
<line x1="243.99" y1="810.3" x2="243.99" y2="806.3" stroke="#333" stroke-width="1.3"/>
<line x1="262.86" y1="810.3" x2="262.86" y2="806.3" stroke="#333" stroke-width="1.3"/>
<line x1="281.73" y1="810.3" x2="281.73" y2="802.3" stroke="#333" stroke-width="1.3"/>
<line x1="300.6" y1="810.3" x2="300.6" y2="806.3" stroke="#333" stroke-width="1.3"/>
<line x1="319.47" y1="810.3" x2="319.47" y2="806.3" stroke="#333" stroke-width="1.3"/>
<line x1="338.34" y1="810.3" x2="338.34" y2="802.3" stroke="#333" stroke-width="1.3"/>
<line x1="357.21" y1="810.3" x2="357.21" y2="806.3" stroke="#333" stroke-width="1.3"/>
<line x1="376.08" y1="810.3" x2="376.08" y2="806.3" stroke="#333" stroke-width="1.3"/>
<line x1="394.95" y1="810.3" x2="394.95" y2="802.3" stroke="#333" stroke-width="1.3"/>
<line x1="413.82" y1="810.3" x2="413.82" y2="806.3" stroke="#333" stroke-width="1.3"/>
<line x1="432.69" y1="810.3" x2="432.69" y2="806.3" stroke="#333" stroke-width="1.3"/>
<line x1="451.56" y1="810.3" x2="451.56" y2="802.3" stroke="#333" stroke-width="1.3"/>
<line x1="470.43" y1="810.3" x2="470.43" y2="806.3" stroke="#333" stroke-width="1.3"/>
<line x1="489.3" y1="810.3" x2="489.3" y2="806.3" stroke="#333" stroke-width="1.3"/>
<line x1="508.17" y1="810.3" x2="508.17" y2="802.3" stroke="#333" stroke-width="1.3"/>
<line x1="527.04" y1="810.3" x2="527.04" y2="806.3" stroke="#333" stroke-width="1.3"/>
<line x1="545.91" y1="810.3" x2="545.91" y2="806.3" stroke="#333" stroke-width="1.3"/>
<line x1="564.78" y1="810.3" x2="564.78" y2="802.3" stroke="#333" stroke-width="1.3"/>
<line x1="583.65" y1="810.3" x2="583.65" y2="806.3" stroke="#333" stroke-width="1.3"/>
<line x1="602.52" y1="810.3" x2="602.52" y2="806.3" stroke="#333" stroke-width="1.3"/>
<line x1="621.39" y1="810.3" x2="621.39" y2="802.3" stroke="#333" stroke-width="1.3"/>
<line x1="640.26" y1="810.3" x2="640.26" y2="806.3" stroke="#333" stroke-width="1.3"/>
<line x1="53.3" y1="938.79" x2="56.9" y2="938.79" stroke="#222" stroke-width="1.3"/>
<line x1="53.3" y1="928.08" x2="61.3" y2="928.08" stroke="#222" stroke-width="1.3"/>
<text x="45.6" y="933.04" font-size="11" text-anchor="end" fill="#222">10</text>
<line x1="53.3" y1="917.37" x2="56.9" y2="917.37" stroke="#222" stroke-width="1.3"/>
<line x1="53.3" y1="906.66" x2="61.3" y2="906.66" stroke="#222" stroke-width="1.3"/>
<text x="45.6" y="911.62" font-size="11" text-anchor="end" fill="#222">20</text>
<line x1="53.3" y1="895.95" x2="56.9" y2="895.95" stroke="#222" stroke-width="1.3"/>
<line x1="53.3" y1="885.24" x2="61.3" y2="885.24" stroke="#222" stroke-width="1.3"/>
<text x="45.6" y="890.2" font-size="11" text-anchor="end" fill="#222">30</text>
<line x1="53.3" y1="874.53" x2="56.9" y2="874.53" stroke="#222" stroke-width="1.3"/>
<line x1="53.3" y1="863.82" x2="61.3" y2="863.82" stroke="#222" stroke-width="1.3"/>
<text x="45.6" y="868.78" font-size="11" text-anchor="end" fill="#222">40</text>
<line x1="53.3" y1="853.11" x2="56.9" y2="853.11" stroke="#222" stroke-width="1.3"/>
<line x1="53.3" y1="842.4" x2="61.3" y2="842.4" stroke="#222" stroke-width="1.3"/>
<text x="45.6" y="847.36" font-size="11" text-anchor="end" fill="#222">50</text>
<line x1="53.3" y1="831.69" x2="56.9" y2="831.69" stroke="#222" stroke-width="1.3"/>
<line x1="53.3" y1="820.98" x2="61.3" y2="820.98" stroke="#222" stroke-width="1.3"/>
<text x="45.6" y="825.94" font-size="11" text-anchor="end" fill="#222">60</text>
<line x1="74.16" y1="949.5" x2="74.16" y2="945.5" stroke="#333" stroke-width="1.3"/>
<line x1="93.03" y1="949.5" x2="93.03" y2="945.5" stroke="#333" stroke-width="1.3"/>
<line x1="111.9" y1="949.5" x2="111.9" y2="941.5" stroke="#333" stroke-width="1.3"/>
<line x1="130.77" y1="949.5" x2="130.77" y2="945.5" stroke="#333" stroke-width="1.3"/>
<line x1="149.64" y1="949.5" x2="149.64" y2="945.5" stroke="#333" stroke-width="1.3"/>
<line x1="168.51" y1="949.5" x2="168.51" y2="941.5" stroke="#333" stroke-width="1.3"/>
<line x1="187.38" y1="949.5" x2="187.38" y2="945.5" stroke="#333" stroke-width="1.3"/>
<line x1="206.25" y1="949.5" x2="206.25" y2="945.5" stroke="#333" stroke-width="1.3"/>
<line x1="225.12" y1="949.5" x2="225.12" y2="941.5" stroke="#333" stroke-width="1.3"/>
<line x1="243.99" y1="949.5" x2="243.99" y2="945.5" stroke="#333" stroke-width="1.3"/>
<line x1="262.86" y1="949.5" x2="262.86" y2="945.5" stroke="#333" stroke-width="1.3"/>
<line x1="281.73" y1="949.5" x2="281.73" y2="941.5" stroke="#333" stroke-width="1.3"/>
<line x1="300.6" y1="949.5" x2="300.6" y2="945.5" stroke="#333" stroke-width="1.3"/>
<line x1="319.47" y1="949.5" x2="319.47" y2="945.5" stroke="#333" stroke-width="1.3"/>
<line x1="338.34" y1="949.5" x2="338.34" y2="941.5" stroke="#333" stroke-width="1.3"/>
<line x1="357.21" y1="949.5" x2="357.21" y2="945.5" stroke="#333" stroke-width="1.3"/>
<line x1="376.08" y1="949.5" x2="376.08" y2="945.5" stroke="#333" stroke-width="1.3"/>
<line x1="394.95" y1="949.5" x2="394.95" y2="941.5" stroke="#333" stroke-width="1.3"/>
<line x1="413.82" y1="949.5" x2="413.82" y2="945.5" stroke="#333" stroke-width="1.3"/>
<line x1="432.69" y1="949.5" x2="432.69" y2="945.5" stroke="#333" stroke-width="1.3"/>
<line x1="451.56" y1="949.5" x2="451.56" y2="941.5" stroke="#333" stroke-width="1.3"/>
<line x1="470.43" y1="949.5" x2="470.43" y2="945.5" stroke="#333" stroke-width="1.3"/>
<line x1="489.3" y1="949.5" x2="489.3" y2="945.5" stroke="#333" stroke-width="1.3"/>
<line x1="508.17" y1="949.5" x2="508.17" y2="941.5" stroke="#333" stroke-width="1.3"/>
<line x1="527.04" y1="949.5" x2="527.04" y2="945.5" stroke="#333" stroke-width="1.3"/>
<line x1="545.91" y1="949.5" x2="545.91" y2="945.5" stroke="#333" stroke-width="1.3"/>
<line x1="564.78" y1="949.5" x2="564.78" y2="941.5" stroke="#333" stroke-width="1.3"/>
<line x1="583.65" y1="949.5" x2="583.65" y2="945.5" stroke="#333" stroke-width="1.3"/>
<line x1="602.52" y1="949.5" x2="602.52" y2="945.5" stroke="#333" stroke-width="1.3"/>
<line x1="621.39" y1="949.5" x2="621.39" y2="941.5" stroke="#333" stroke-width="1.3"/>
<line x1="640.26" y1="949.5" x2="640.26" y2="945.5" stroke="#333" stroke-width="1.3"/>
<text x="111.9" y="965.26" font-size="11" text-anchor="middle" fill="#222">480</text>
<text x="168.51" y="965.26" font-size="11" text-anchor="middle" fill="#222">510</text>
<text x="225.12" y="965.26" font-size="11" text-anchor="middle" fill="#222">540</text>
<text x="281.73" y="965.26" font-size="11" text-anchor="middle" fill="#222">570</text>
<text x="338.34" y="965.26" font-size="11" text-anchor="middle" fill="#222">600</text>
<text x="394.95" y="965.26" font-size="11" text-anchor="middle" fill="#222">630</text>
<text x="451.56" y="965.26" font-size="11" text-anchor="middle" fill="#222">660</text>
<text x="508.17" y="965.26" font-size="11" text-anchor="middle" fill="#222">690</text>
<text x="564.78" y="965.26" font-size="11" text-anchor="middle" fill="#222">720</text>
<text x="621.39" y="965.26" font-size="11" text-anchor="middle" fill="#222">750</text>
<text x="355.5" y="984.12" font-size="12" text-anchor="middle" fill="#222">Residue number</text>
<text transform="translate(22.3,731.8) rotate(-90)" x="0" y="0" font-size="11.5" text-anchor="middle" fill="#222">R2ex (Hz)</text>
<g stroke="#4a4ae8" stroke-width="1.2"><line x1="134.9" y1="534" x2="134.9" y2="668.3"/><line x1="186" y1="616.7" x2="186" y2="626.7"/><line x1="317" y1="613.5" x2="317" y2="627.5"/><line x1="374.9" y1="581.5" x2="374.9" y2="593.5"/><line x1="416" y1="589" x2="416" y2="629"/><line x1="419" y1="606" x2="419" y2="618"/><line x1="472" y1="617.8" x2="472" y2="627.8"/><line x1="476" y1="613" x2="476" y2="623"/><line x1="480" y1="602.5" x2="480" y2="618.5"/><line x1="545.5" y1="642.2" x2="545.5" y2="662.2"/><line x1="644" y1="614" x2="644" y2="622"/><line x1="130.5" y1="755" x2="130.5" y2="763"/><line x1="172" y1="775" x2="172" y2="799"/><line x1="221" y1="740.5" x2="221" y2="760.5"/><line x1="246.8" y1="743.7" x2="246.8" y2="763.7"/><line x1="318" y1="761" x2="318" y2="769"/><line x1="381.7" y1="747.6" x2="381.7" y2="771.6"/><line x1="397.5" y1="758" x2="397.5" y2="806"/><line x1="414.7" y1="750" x2="414.7" y2="766"/><line x1="479" y1="758.8" x2="479" y2="766.8"/><line x1="491" y1="766" x2="491" y2="774"/><line x1="522" y1="751" x2="522" y2="761"/><line x1="599" y1="747.8" x2="599" y2="757.8"/><line x1="121" y1="871" x2="121" y2="913"/><line x1="129.2" y1="810.3" x2="129.2" y2="949"/><line x1="132.8" y1="810.3" x2="132.8" y2="949"/><line x1="232.4" y1="905" x2="232.4" y2="913"/><line x1="317" y1="906.6" x2="317" y2="920.6"/><line x1="416.5" y1="883" x2="416.5" y2="903"/><line x1="460.5" y1="897.5" x2="460.5" y2="911.5"/><line x1="490.3" y1="896" x2="490.3" y2="904"/><line x1="592" y1="861" x2="592" y2="901"/></g>
<g stroke="#555" stroke-width="1.2"><line x1="134.9" y1="569.4" x2="134.9" y2="605.4"/><line x1="186" y1="625.7" x2="186" y2="633.7"/><line x1="374.9" y1="555" x2="374.9" y2="603"/><line x1="416" y1="613" x2="416" y2="623"/><line x1="419" y1="618" x2="419" y2="626"/><line x1="460" y1="602.4" x2="460" y2="622.4"/><line x1="644" y1="602" x2="644" y2="614"/><line x1="130.5" y1="756.5" x2="130.5" y2="764.5"/><line x1="221" y1="755.5" x2="221" y2="765.5"/><line x1="414.7" y1="756.5" x2="414.7" y2="764.5"/><line x1="491" y1="748.6" x2="491" y2="770.6"/><line x1="644" y1="741.6" x2="644" y2="749.6"/><line x1="121" y1="891.5" x2="121" y2="899.5"/><line x1="129.2" y1="875" x2="129.2" y2="887"/><line x1="132.8" y1="866" x2="132.8" y2="878"/><line x1="416.5" y1="902.8" x2="416.5" y2="910.8"/><line x1="592" y1="895" x2="592" y2="903"/></g>
<g stroke="#ee5555" stroke-width="1.2"><line x1="134.9" y1="599.4" x2="134.9" y2="619.4"/><line x1="374.9" y1="591.2" x2="374.9" y2="607.2"/><line x1="416" y1="619" x2="416" y2="631"/><line x1="419" y1="628" x2="419" y2="636"/><line x1="460" y1="622" x2="460" y2="632"/><line x1="599" y1="624.6" x2="599" y2="632.6"/><line x1="221" y1="763" x2="221" y2="771"/><line x1="491" y1="761" x2="491" y2="769"/><line x1="644" y1="728" x2="644" y2="736"/><line x1="121" y1="903.7" x2="121" y2="911.7"/><line x1="129.2" y1="901" x2="129.2" y2="909"/><line x1="132.8" y1="892.8" x2="132.8" y2="902.8"/><line x1="416.5" y1="909.6" x2="416.5" y2="917.6"/></g>
<g fill="none" stroke="#2a2ae6" stroke-width="1.1"><circle cx="69.98" cy="642.96" r="2.9"/><circle cx="72.04" cy="646.5" r="2.9"/><circle cx="74.65" cy="659.09" r="2.9"/><circle cx="76.85" cy="660.55" r="2.9"/><circle cx="79.1" cy="657.74" r="2.9"/><circle cx="81.22" cy="654.81" r="2.9"/><circle cx="82.93" cy="660.75" r="2.9"/><circle cx="76.73" cy="635.8" r="2.9"/><circle cx="78.27" cy="636.37" r="2.9"/><circle cx="80.73" cy="629.37" r="2.9"/><circle cx="82.42" cy="631.83" r="2.9"/><circle cx="84.89" cy="656.03" r="2.9"/><circle cx="86.75" cy="651.52" r="2.9"/><circle cx="89.09" cy="655.87" r="2.9"/><circle cx="90.92" cy="651.35" r="2.9"/><circle cx="89.36" cy="643.47" r="2.9"/><circle cx="90.69" cy="645.41" r="2.9"/><circle cx="93.26" cy="645.84" r="2.9"/><circle cx="97.61" cy="654.61" r="2.9"/><circle cx="99.93" cy="654.41" r="2.9"/><circle cx="101.68" cy="643.85" r="2.9"/><circle cx="103.58" cy="650.83" r="2.9"/><circle cx="105.26" cy="647.97" r="2.9"/><circle cx="107.63" cy="647.29" r="2.9"/><circle cx="109.07" cy="649.67" r="2.9"/><circle cx="110.65" cy="652.39" r="2.9"/><circle cx="112.47" cy="652.45" r="2.9"/><circle cx="114.85" cy="641.34" r="2.9"/><circle cx="116.51" cy="650.82" r="2.9"/><circle cx="118.58" cy="644.15" r="2.9"/><circle cx="120.44" cy="642.52" r="2.9"/><circle cx="122.4" cy="645.9" r="2.9"/><circle cx="120.35" cy="630.22" r="2.9"/><circle cx="121.95" cy="623.23" r="2.9"/><circle cx="124.13" cy="632.83" r="2.9"/><circle cx="126.27" cy="631.66" r="2.9"/><circle cx="127.87" cy="633.21" r="2.9"/><circle cx="130.23" cy="639.01" r="2.9"/><circle cx="135.33" cy="654.54" r="2.9"/><circle cx="137.15" cy="646.25" r="2.9"/><circle cx="139.29" cy="648.75" r="2.9"/><circle cx="141.35" cy="657.03" r="2.9"/><circle cx="143.14" cy="645.81" r="2.9"/><circle cx="144.98" cy="652.98" r="2.9"/><circle cx="146.85" cy="640.54" r="2.9"/><circle cx="148.7" cy="638.4" r="2.9"/><circle cx="151.38" cy="643.88" r="2.9"/><circle cx="153.38" cy="643.92" r="2.9"/><circle cx="154.82" cy="649.33" r="2.9"/><circle cx="156.84" cy="649.45" r="2.9"/><circle cx="158.91" cy="642.17" r="2.9"/><circle cx="160.98" cy="647.93" r="2.9"/><circle cx="162.77" cy="644.33" r="2.9"/><circle cx="164.02" cy="635.13" r="2.9"/><circle cx="166.15" cy="648.6" r="2.9"/><circle cx="167.73" cy="645.59" r="2.9"/><circle cx="169.5" cy="642.24" r="2.9"/><circle cx="171.86" cy="649.38" r="2.9"/><circle cx="173.65" cy="644.22" r="2.9"/><circle cx="175.31" cy="641.7" r="2.9"/><circle cx="177.47" cy="647.29" r="2.9"/><circle cx="178.88" cy="643.34" r="2.9"/><circle cx="181.03" cy="646.07" r="2.9"/><circle cx="182.97" cy="653.98" r="2.9"/><circle cx="189.04" cy="641.48" r="2.9"/><circle cx="191.03" cy="647.86" r="2.9"/><circle cx="192.51" cy="644.91" r="2.9"/><circle cx="194.17" cy="641.97" r="2.9"/><circle cx="195.91" cy="632.28" r="2.9"/><circle cx="197.75" cy="630.31" r="2.9"/><circle cx="200.11" cy="638.02" r="2.9"/><circle cx="201.79" cy="642.57" r="2.9"/><circle cx="203.3" cy="644.63" r="2.9"/><circle cx="205.62" cy="648.61" r="2.9"/><circle cx="206.78" cy="647.9" r="2.9"/><circle cx="208.74" cy="645.61" r="2.9"/><circle cx="210.53" cy="638.88" r="2.9"/><circle cx="213.12" cy="645.24" r="2.9"/><circle cx="214.29" cy="638.55" r="2.9"/><circle cx="216.18" cy="636.8" r="2.9"/><circle cx="218.83" cy="636.54" r="2.9"/><circle cx="220.67" cy="641.92" r="2.9"/><circle cx="222.18" cy="646.34" r="2.9"/><circle cx="224.01" cy="633.19" r="2.9"/><circle cx="225.74" cy="636.01" r="2.9"/><circle cx="228.16" cy="630.37" r="2.9"/><circle cx="229.37" cy="638.19" r="2.9"/><circle cx="231.34" cy="630.72" r="2.9"/><circle cx="233.24" cy="631.32" r="2.9"/><circle cx="235.62" cy="645.18" r="2.9"/><circle cx="237.43" cy="632.11" r="2.9"/><circle cx="238.76" cy="643.99" r="2.9"/><circle cx="240.56" cy="651.44" r="2.9"/><circle cx="240.54" cy="634.27" r="2.9"/><circle cx="242.31" cy="632.61" r="2.9"/><circle cx="244.03" cy="634.38" r="2.9"/><circle cx="242.52" cy="648.93" r="2.9"/><circle cx="244.68" cy="641.77" r="2.9"/><circle cx="246.41" cy="650.84" r="2.9"/><circle cx="248.3" cy="645.13" r="2.9"/><circle cx="250.06" cy="650.17" r="2.9"/><circle cx="246.16" cy="633.45" r="2.9"/><circle cx="247.61" cy="632.37" r="2.9"/><circle cx="249.94" cy="636.21" r="2.9"/><circle cx="252.25" cy="632.96" r="2.9"/><circle cx="254.22" cy="642.33" r="2.9"/><circle cx="255.96" cy="644.5" r="2.9"/><circle cx="257.47" cy="642.75" r="2.9"/><circle cx="259.3" cy="651.85" r="2.9"/><circle cx="268.91" cy="651.64" r="2.9"/><circle cx="270.8" cy="637.93" r="2.9"/><circle cx="272.4" cy="646.21" r="2.9"/><circle cx="274.5" cy="650.4" r="2.9"/><circle cx="276.7" cy="643.47" r="2.9"/><circle cx="278.72" cy="647.62" r="2.9"/><circle cx="280.12" cy="643.61" r="2.9"/><circle cx="282.11" cy="644.82" r="2.9"/><circle cx="284.19" cy="649.91" r="2.9"/><circle cx="285.95" cy="641.5" r="2.9"/><circle cx="288.29" cy="652.28" r="2.9"/><circle cx="289.68" cy="647.51" r="2.9"/><circle cx="291.27" cy="647.75" r="2.9"/><circle cx="293.03" cy="650.46" r="2.9"/><circle cx="295.06" cy="642.53" r="2.9"/><circle cx="296.82" cy="643.58" r="2.9"/><circle cx="298.94" cy="650.72" r="2.9"/><circle cx="300.54" cy="644.29" r="2.9"/><circle cx="302.16" cy="650.39" r="2.9"/><circle cx="304.65" cy="645.12" r="2.9"/><circle cx="305.77" cy="648.78" r="2.9"/><circle cx="308.2" cy="645.37" r="2.9"/><circle cx="309.32" cy="652.13" r="2.9"/><circle cx="311.22" cy="644.53" r="2.9"/><circle cx="313.41" cy="644.38" r="2.9"/><circle cx="315.23" cy="651.55" r="2.9"/><circle cx="315.18" cy="642.73" r="2.9"/><circle cx="316.82" cy="636.11" r="2.9"/><circle cx="318.72" cy="641.64" r="2.9"/><circle cx="320.28" cy="637.23" r="2.9"/><circle cx="322.31" cy="644.77" r="2.9"/><circle cx="320.94" cy="655.15" r="2.9"/><circle cx="322.45" cy="655.49" r="2.9"/><circle cx="324.84" cy="649.92" r="2.9"/><circle cx="326.81" cy="651.2" r="2.9"/><circle cx="328.63" cy="653.03" r="2.9"/><circle cx="330.52" cy="650.55" r="2.9"/><circle cx="332.15" cy="653.51" r="2.9"/><circle cx="332.72" cy="639.17" r="2.9"/><circle cx="334.91" cy="638.26" r="2.9"/><circle cx="336.92" cy="645.91" r="2.9"/><circle cx="339.3" cy="644.89" r="2.9"/><circle cx="340.68" cy="642.44" r="2.9"/><circle cx="343.29" cy="645.48" r="2.9"/><circle cx="345.38" cy="637.44" r="2.9"/><circle cx="347.03" cy="647.98" r="2.9"/><circle cx="349.15" cy="645.82" r="2.9"/><circle cx="366.65" cy="634.55" r="2.9"/><circle cx="369.36" cy="646.07" r="2.9"/><circle cx="371.11" cy="640.91" r="2.9"/><circle cx="376.88" cy="650.4" r="2.9"/><circle cx="378.75" cy="633.82" r="2.9"/><circle cx="380.74" cy="640.42" r="2.9"/><circle cx="382.97" cy="647.75" r="2.9"/><circle cx="384.38" cy="640.42" r="2.9"/><circle cx="386.68" cy="637.99" r="2.9"/><circle cx="388.54" cy="641.74" r="2.9"/><circle cx="390.24" cy="647.82" r="2.9"/><circle cx="392.15" cy="639.23" r="2.9"/><circle cx="393.67" cy="637.19" r="2.9"/><circle cx="397.56" cy="648.09" r="2.9"/><circle cx="400.14" cy="636.35" r="2.9"/><circle cx="401.69" cy="642.23" r="2.9"/><circle cx="403.63" cy="645.95" r="2.9"/><circle cx="405.04" cy="639.27" r="2.9"/><circle cx="407.39" cy="647.03" r="2.9"/><circle cx="409.41" cy="650.56" r="2.9"/><circle cx="411" cy="641.88" r="2.9"/><circle cx="414.12" cy="628.89" r="2.9"/><circle cx="415.42" cy="639.15" r="2.9"/><circle cx="417.64" cy="640.58" r="2.9"/><circle cx="419.49" cy="629.57" r="2.9"/><circle cx="421.27" cy="633.47" r="2.9"/><circle cx="459.25" cy="632.36" r="2.9"/><circle cx="461.18" cy="643.45" r="2.9"/><circle cx="463.23" cy="649.37" r="2.9"/><circle cx="465.08" cy="644.1" r="2.9"/><circle cx="466.91" cy="639.85" r="2.9"/><circle cx="469.34" cy="645.82" r="2.9"/><circle cx="471.15" cy="642.15" r="2.9"/><circle cx="472.79" cy="633.58" r="2.9"/><circle cx="475.03" cy="633.51" r="2.9"/><circle cx="477.07" cy="628.69" r="2.9"/><circle cx="479.29" cy="630.99" r="2.9"/><circle cx="481.08" cy="627.13" r="2.9"/><circle cx="482.77" cy="637.83" r="2.9"/><circle cx="484.59" cy="638.43" r="2.9"/><circle cx="487.04" cy="641.87" r="2.9"/><circle cx="488.79" cy="641.27" r="2.9"/><circle cx="490.2" cy="641.65" r="2.9"/><circle cx="492.8" cy="647.1" r="2.9"/><circle cx="494.25" cy="643" r="2.9"/><circle cx="495.98" cy="649.68" r="2.9"/><circle cx="498.06" cy="637.76" r="2.9"/><circle cx="499.83" cy="637.07" r="2.9"/><circle cx="514.73" cy="644.51" r="2.9"/><circle cx="516.76" cy="642.49" r="2.9"/><circle cx="518.53" cy="636.87" r="2.9"/><circle cx="520.25" cy="648.66" r="2.9"/><circle cx="522.08" cy="640.05" r="2.9"/><circle cx="524.25" cy="637.62" r="2.9"/><circle cx="521.1" cy="645.61" r="2.9"/><circle cx="522.76" cy="642.01" r="2.9"/><circle cx="524.62" cy="641.38" r="2.9"/><circle cx="527.08" cy="651.34" r="2.9"/><circle cx="528.97" cy="647.19" r="2.9"/><circle cx="530.95" cy="644.49" r="2.9"/><circle cx="532.31" cy="649.72" r="2.9"/><circle cx="534.06" cy="644.48" r="2.9"/><circle cx="536.13" cy="645.61" r="2.9"/><circle cx="538.54" cy="649.75" r="2.9"/><circle cx="540.47" cy="649.23" r="2.9"/><circle cx="542" cy="651.98" r="2.9"/><circle cx="543.66" cy="645.5" r="2.9"/><circle cx="545.56" cy="645.52" r="2.9"/><circle cx="547.76" cy="648.73" r="2.9"/><circle cx="550.01" cy="638.48" r="2.9"/><circle cx="551.38" cy="645.66" r="2.9"/><circle cx="553.41" cy="643.58" r="2.9"/><circle cx="555.69" cy="643.21" r="2.9"/><circle cx="557.58" cy="635.6" r="2.9"/><circle cx="559.01" cy="645.47" r="2.9"/><circle cx="560.7" cy="640.22" r="2.9"/><circle cx="562.98" cy="641.51" r="2.9"/><circle cx="564.62" cy="644.63" r="2.9"/><circle cx="566.44" cy="638.41" r="2.9"/><circle cx="568.68" cy="642.85" r="2.9"/><circle cx="570.68" cy="640.09" r="2.9"/><circle cx="572.22" cy="641.15" r="2.9"/><circle cx="573.94" cy="644.96" r="2.9"/><circle cx="575.68" cy="642.63" r="2.9"/><circle cx="577.77" cy="640.63" r="2.9"/><circle cx="580.12" cy="644.42" r="2.9"/><circle cx="581.42" cy="647.51" r="2.9"/><circle cx="583.26" cy="643.91" r="2.9"/><circle cx="585.87" cy="649.68" r="2.9"/><circle cx="587.12" cy="639.19" r="2.9"/><circle cx="589.64" cy="640.06" r="2.9"/><circle cx="591" cy="638.84" r="2.9"/><circle cx="593.37" cy="643.97" r="2.9"/><circle cx="595.13" cy="638.5" r="2.9"/><circle cx="597.03" cy="649.65" r="2.9"/><circle cx="598.87" cy="644.44" r="2.9"/><circle cx="597.33" cy="634.4" r="2.9"/><circle cx="598.72" cy="637.66" r="2.9"/><circle cx="600.79" cy="635.03" r="2.9"/><circle cx="603.29" cy="637.25" r="2.9"/><circle cx="605.09" cy="632.5" r="2.9"/><circle cx="601.11" cy="644.08" r="2.9"/><circle cx="602.86" cy="641.08" r="2.9"/><circle cx="604.61" cy="645.45" r="2.9"/><circle cx="606.8" cy="648.84" r="2.9"/><circle cx="608.54" cy="645.05" r="2.9"/><circle cx="610.52" cy="643.72" r="2.9"/><circle cx="612.2" cy="651.48" r="2.9"/><circle cx="613.7" cy="649.18" r="2.9"/><circle cx="615.81" cy="651.87" r="2.9"/><circle cx="617.75" cy="652.11" r="2.9"/><circle cx="619.83" cy="646.79" r="2.9"/><circle cx="621.35" cy="643.61" r="2.9"/><circle cx="623.6" cy="647.31" r="2.9"/><circle cx="625.02" cy="648.3" r="2.9"/><circle cx="627.32" cy="648.79" r="2.9"/><circle cx="628.7" cy="649.79" r="2.9"/><circle cx="630.77" cy="649.43" r="2.9"/><circle cx="632.86" cy="639.42" r="2.9"/><circle cx="634.79" cy="650.61" r="2.9"/><circle cx="636.28" cy="645.76" r="2.9"/><circle cx="638.53" cy="645.36" r="2.9"/><circle cx="640.1" cy="643.15" r="2.9"/><circle cx="642.19" cy="643.82" r="2.9"/><circle cx="643.73" cy="641.47" r="2.9"/><circle cx="132.7" cy="609" r="2.9"/><circle cx="134.9" cy="548.3" r="2.9"/><circle cx="121.4" cy="628" r="2.9"/><circle cx="131.5" cy="640" r="2.9"/><circle cx="186" cy="621.7" r="2.9"/><circle cx="193" cy="640" r="2.9"/><circle cx="307.5" cy="631" r="2.9"/><circle cx="317" cy="620.5" r="2.9"/><circle cx="338" cy="656.6" r="2.9"/><circle cx="368" cy="628.6" r="2.9"/><circle cx="374.9" cy="587.5" r="2.9"/><circle cx="381.7" cy="653" r="2.9"/><circle cx="416" cy="609" r="2.9"/><circle cx="419" cy="612" r="2.9"/><circle cx="460" cy="630" r="2.9"/><circle cx="472" cy="622.8" r="2.9"/><circle cx="476" cy="618" r="2.9"/><circle cx="480" cy="610.5" r="2.9"/><circle cx="494.8" cy="648.6" r="2.9"/><circle cx="545.5" cy="652.2" r="2.9"/><circle cx="599" cy="628" r="2.9"/><circle cx="644" cy="618" r="2.9"/><circle cx="66.88" cy="778.69" r="2.9"/><circle cx="68.37" cy="782.25" r="2.9"/><circle cx="70.39" cy="776.22" r="2.9"/><circle cx="71.77" cy="780.38" r="2.9"/><circle cx="77.87" cy="796.06" r="2.9"/><circle cx="80.04" cy="794.75" r="2.9"/><circle cx="82.04" cy="787.34" r="2.9"/><circle cx="84.03" cy="794.15" r="2.9"/><circle cx="86" cy="795.39" r="2.9"/><circle cx="88.37" cy="790.93" r="2.9"/><circle cx="90.16" cy="795.6" r="2.9"/><circle cx="92.33" cy="796.96" r="2.9"/><circle cx="94.19" cy="788.01" r="2.9"/><circle cx="95.63" cy="788.49" r="2.9"/><circle cx="97.62" cy="778.2" r="2.9"/><circle cx="100.07" cy="777.88" r="2.9"/><circle cx="102" cy="784.75" r="2.9"/><circle cx="103.96" cy="780.8" r="2.9"/><circle cx="105.77" cy="786.11" r="2.9"/><circle cx="107.78" cy="781.31" r="2.9"/><circle cx="109.81" cy="781.63" r="2.9"/><circle cx="111.76" cy="777.49" r="2.9"/><circle cx="113.84" cy="781.84" r="2.9"/><circle cx="116.16" cy="782.24" r="2.9"/><circle cx="117.76" cy="781.55" r="2.9"/><circle cx="120.18" cy="777.25" r="2.9"/><circle cx="121.74" cy="780.81" r="2.9"/><circle cx="123.86" cy="776.24" r="2.9"/><circle cx="125.86" cy="782.47" r="2.9"/><circle cx="127.36" cy="781.57" r="2.9"/><circle cx="129.36" cy="773.33" r="2.9"/><circle cx="130.95" cy="777.41" r="2.9"/><circle cx="133.4" cy="775.32" r="2.9"/><circle cx="134.57" cy="781.57" r="2.9"/><circle cx="136.74" cy="789.13" r="2.9"/><circle cx="138.62" cy="787.82" r="2.9"/><circle cx="139.91" cy="788.68" r="2.9"/><circle cx="142.2" cy="786.17" r="2.9"/><circle cx="143.64" cy="788.41" r="2.9"/><circle cx="146.03" cy="789.54" r="2.9"/><circle cx="147.62" cy="786.36" r="2.9"/><circle cx="149.59" cy="781.88" r="2.9"/><circle cx="150.94" cy="787.06" r="2.9"/><circle cx="152.67" cy="773.29" r="2.9"/><circle cx="155.28" cy="782.9" r="2.9"/><circle cx="156.62" cy="775.87" r="2.9"/><circle cx="158.97" cy="780.42" r="2.9"/><circle cx="160.79" cy="784.12" r="2.9"/><circle cx="162.64" cy="785.56" r="2.9"/><circle cx="165.03" cy="782.31" r="2.9"/><circle cx="167.28" cy="786.38" r="2.9"/><circle cx="168.88" cy="788.63" r="2.9"/><circle cx="170.78" cy="789.71" r="2.9"/><circle cx="172.58" cy="792.6" r="2.9"/><circle cx="174.21" cy="787.98" r="2.9"/><circle cx="175.8" cy="785.56" r="2.9"/><circle cx="177.69" cy="785.55" r="2.9"/><circle cx="179.5" cy="784.97" r="2.9"/><circle cx="181.84" cy="788.7" r="2.9"/><circle cx="183.2" cy="776.93" r="2.9"/><circle cx="185.43" cy="790.06" r="2.9"/><circle cx="186.87" cy="782.99" r="2.9"/><circle cx="188.75" cy="785" r="2.9"/><circle cx="190.75" cy="781.35" r="2.9"/><circle cx="192.74" cy="780.3" r="2.9"/><circle cx="194.58" cy="782.59" r="2.9"/><circle cx="196.95" cy="788.02" r="2.9"/><circle cx="198.43" cy="787.37" r="2.9"/><circle cx="200.52" cy="782.58" r="2.9"/><circle cx="202.81" cy="780.23" r="2.9"/><circle cx="204.25" cy="777.06" r="2.9"/><circle cx="206.17" cy="777.58" r="2.9"/><circle cx="208.49" cy="783.4" r="2.9"/><circle cx="209.97" cy="783.26" r="2.9"/><circle cx="212.31" cy="780.76" r="2.9"/><circle cx="214.39" cy="779.33" r="2.9"/><circle cx="215.75" cy="787.17" r="2.9"/><circle cx="218.36" cy="782.92" r="2.9"/><circle cx="219.96" cy="779.95" r="2.9"/><circle cx="222.3" cy="782.24" r="2.9"/><circle cx="223.84" cy="778.41" r="2.9"/><circle cx="225.67" cy="778.3" r="2.9"/><circle cx="228.16" cy="774.92" r="2.9"/><circle cx="229.81" cy="794.08" r="2.9"/><circle cx="232.11" cy="789.9" r="2.9"/><circle cx="234.26" cy="792.1" r="2.9"/><circle cx="236" cy="794.6" r="2.9"/><circle cx="238.21" cy="793.92" r="2.9"/><circle cx="240.13" cy="786.98" r="2.9"/><circle cx="241.66" cy="793.31" r="2.9"/><circle cx="243.68" cy="790.7" r="2.9"/><circle cx="251.13" cy="781.31" r="2.9"/><circle cx="252.69" cy="781.33" r="2.9"/><circle cx="268.29" cy="782.87" r="2.9"/><circle cx="269.79" cy="788.06" r="2.9"/><circle cx="271.58" cy="785.39" r="2.9"/><circle cx="273.7" cy="779.04" r="2.9"/><circle cx="275.24" cy="775.29" r="2.9"/><circle cx="276.94" cy="777" r="2.9"/><circle cx="279.28" cy="785.01" r="2.9"/><circle cx="281.2" cy="786.56" r="2.9"/><circle cx="282.6" cy="785.53" r="2.9"/><circle cx="284.98" cy="785.58" r="2.9"/><circle cx="286.71" cy="779.72" r="2.9"/><circle cx="288.77" cy="780.25" r="2.9"/><circle cx="290.59" cy="783.73" r="2.9"/><circle cx="292.04" cy="782.75" r="2.9"/><circle cx="293.94" cy="779.9" r="2.9"/><circle cx="296.25" cy="782.11" r="2.9"/><circle cx="297.68" cy="780.52" r="2.9"/><circle cx="299.92" cy="786.68" r="2.9"/><circle cx="301.53" cy="783.42" r="2.9"/><circle cx="303.37" cy="781.24" r="2.9"/><circle cx="305.33" cy="786.11" r="2.9"/><circle cx="307.23" cy="783.47" r="2.9"/><circle cx="309.42" cy="788.96" r="2.9"/><circle cx="323.39" cy="787.44" r="2.9"/><circle cx="324.9" cy="793.5" r="2.9"/><circle cx="327.03" cy="788.22" r="2.9"/><circle cx="330.59" cy="777.27" r="2.9"/><circle cx="332.95" cy="781.6" r="2.9"/><circle cx="334.51" cy="783.27" r="2.9"/><circle cx="336.78" cy="780.77" r="2.9"/><circle cx="338.36" cy="780.99" r="2.9"/><circle cx="340.76" cy="783.69" r="2.9"/><circle cx="342.53" cy="782.54" r="2.9"/><circle cx="344.54" cy="779.15" r="2.9"/><circle cx="346.08" cy="777.57" r="2.9"/><circle cx="348.19" cy="782.26" r="2.9"/><circle cx="367.11" cy="775.31" r="2.9"/><circle cx="368.83" cy="778.56" r="2.9"/><circle cx="370.25" cy="771.08" r="2.9"/><circle cx="372.24" cy="772.7" r="2.9"/><circle cx="374.09" cy="780.52" r="2.9"/><circle cx="376.25" cy="770.88" r="2.9"/><circle cx="379.98" cy="770.47" r="2.9"/><circle cx="382.14" cy="764.11" r="2.9"/><circle cx="383.32" cy="776.07" r="2.9"/><circle cx="385.18" cy="774.21" r="2.9"/><circle cx="386.9" cy="767.73" r="2.9"/><circle cx="388.94" cy="769.45" r="2.9"/><circle cx="395.68" cy="782.79" r="2.9"/><circle cx="398.26" cy="782.35" r="2.9"/><circle cx="399.75" cy="783.93" r="2.9"/><circle cx="401.71" cy="782.09" r="2.9"/><circle cx="404.03" cy="782.84" r="2.9"/><circle cx="405.76" cy="782.99" r="2.9"/><circle cx="411.15" cy="785.35" r="2.9"/><circle cx="413.39" cy="784.88" r="2.9"/><circle cx="414.79" cy="785.57" r="2.9"/><circle cx="416.68" cy="784.42" r="2.9"/><circle cx="461.57" cy="775.18" r="2.9"/><circle cx="464.18" cy="777.11" r="2.9"/><circle cx="466.01" cy="776.18" r="2.9"/><circle cx="467.51" cy="777.01" r="2.9"/><circle cx="469.55" cy="781.64" r="2.9"/><circle cx="471.67" cy="773.7" r="2.9"/><circle cx="472.76" cy="775.72" r="2.9"/><circle cx="475.14" cy="783.3" r="2.9"/><circle cx="477.17" cy="780.61" r="2.9"/><circle cx="479.04" cy="772.34" r="2.9"/><circle cx="480.83" cy="777.66" r="2.9"/><circle cx="482.1" cy="780.92" r="2.9"/><circle cx="484.47" cy="779.97" r="2.9"/><circle cx="486.17" cy="783.8" r="2.9"/><circle cx="488.28" cy="780.36" r="2.9"/><circle cx="489.78" cy="774.26" r="2.9"/><circle cx="491.56" cy="776.16" r="2.9"/><circle cx="493.76" cy="782.2" r="2.9"/><circle cx="495.51" cy="776.49" r="2.9"/><circle cx="497.72" cy="777.28" r="2.9"/><circle cx="499" cy="780.91" r="2.9"/><circle cx="501.1" cy="779.74" r="2.9"/><circle cx="502.95" cy="779.96" r="2.9"/><circle cx="515.74" cy="785.19" r="2.9"/><circle cx="518.1" cy="778.18" r="2.9"/><circle cx="519.31" cy="781.14" r="2.9"/><circle cx="521.89" cy="777.97" r="2.9"/><circle cx="523.09" cy="779.76" r="2.9"/><circle cx="525.1" cy="773.63" r="2.9"/><circle cx="526.89" cy="782.65" r="2.9"/><circle cx="528.87" cy="783.43" r="2.9"/><circle cx="531.16" cy="781.68" r="2.9"/><circle cx="533.13" cy="778.47" r="2.9"/><circle cx="535.07" cy="785.51" r="2.9"/><circle cx="536.92" cy="780.44" r="2.9"/><circle cx="538.19" cy="778.54" r="2.9"/><circle cx="540.48" cy="782.04" r="2.9"/><circle cx="542.24" cy="780.38" r="2.9"/><circle cx="544.13" cy="782.81" r="2.9"/><circle cx="545.72" cy="775.06" r="2.9"/><circle cx="547.45" cy="776.28" r="2.9"/><circle cx="549.85" cy="778.26" r="2.9"/><circle cx="551.27" cy="781.72" r="2.9"/><circle cx="553.31" cy="779.71" r="2.9"/><circle cx="555.37" cy="775.72" r="2.9"/><circle cx="557.64" cy="775.66" r="2.9"/><circle cx="559.16" cy="776.43" r="2.9"/><circle cx="560.99" cy="771.89" r="2.9"/><circle cx="563.25" cy="784.47" r="2.9"/><circle cx="565.11" cy="779.35" r="2.9"/><circle cx="566.96" cy="784.6" r="2.9"/><circle cx="568.6" cy="774.52" r="2.9"/><circle cx="570.62" cy="776" r="2.9"/><circle cx="572.98" cy="777.6" r="2.9"/><circle cx="574.71" cy="785.55" r="2.9"/><circle cx="575.8" cy="768.97" r="2.9"/><circle cx="578.13" cy="781.51" r="2.9"/><circle cx="579.49" cy="777.47" r="2.9"/><circle cx="581.51" cy="774.94" r="2.9"/><circle cx="583.46" cy="773.15" r="2.9"/><circle cx="585.8" cy="774.21" r="2.9"/><circle cx="587.26" cy="769.33" r="2.9"/><circle cx="589.08" cy="775.06" r="2.9"/><circle cx="591.28" cy="780.65" r="2.9"/><circle cx="593.38" cy="775.62" r="2.9"/><circle cx="595.32" cy="782.31" r="2.9"/><circle cx="596.76" cy="773.23" r="2.9"/><circle cx="598.96" cy="773.55" r="2.9"/><circle cx="600.63" cy="782.89" r="2.9"/><circle cx="603.02" cy="782.6" r="2.9"/><circle cx="604.49" cy="777.57" r="2.9"/><circle cx="606.71" cy="780.58" r="2.9"/><circle cx="608.76" cy="786.44" r="2.9"/><circle cx="610.23" cy="780.24" r="2.9"/><circle cx="612.5" cy="779.56" r="2.9"/><circle cx="614.09" cy="782.93" r="2.9"/><circle cx="616.13" cy="785.15" r="2.9"/><circle cx="618.01" cy="784.61" r="2.9"/><circle cx="619.47" cy="776.81" r="2.9"/><circle cx="621.46" cy="781.06" r="2.9"/><circle cx="623.5" cy="779.27" r="2.9"/><circle cx="625.09" cy="782.53" r="2.9"/><circle cx="627.24" cy="776.43" r="2.9"/><circle cx="628.84" cy="785.65" r="2.9"/><circle cx="630.87" cy="783.77" r="2.9"/><circle cx="632.53" cy="785.92" r="2.9"/><circle cx="634.38" cy="782.08" r="2.9"/><circle cx="636.28" cy="783" r="2.9"/><circle cx="638.54" cy="781.23" r="2.9"/><circle cx="640.33" cy="782.27" r="2.9"/><circle cx="642.01" cy="786.64" r="2.9"/><circle cx="644.11" cy="779.01" r="2.9"/><circle cx="79.4" cy="778.6" r="2.9"/><circle cx="121" cy="762.8" r="2.9"/><circle cx="130.5" cy="759" r="2.9"/><circle cx="172" cy="787" r="2.9"/><circle cx="192.5" cy="800" r="2.9"/><circle cx="221" cy="750.5" r="2.9"/><circle cx="246.8" cy="753.7" r="2.9"/><circle cx="250" cy="778" r="2.9"/><circle cx="308" cy="770" r="2.9"/><circle cx="318" cy="765" r="2.9"/><circle cx="381.7" cy="759.6" r="2.9"/><circle cx="397.5" cy="782" r="2.9"/><circle cx="414.7" cy="758" r="2.9"/><circle cx="479" cy="762.8" r="2.9"/><circle cx="491" cy="770" r="2.9"/><circle cx="522" cy="756" r="2.9"/><circle cx="518" cy="770" r="2.9"/><circle cx="599" cy="752.8" r="2.9"/><circle cx="644" cy="765" r="2.9"/><circle cx="66.66" cy="922.79" r="2.9"/><circle cx="68.32" cy="921.07" r="2.9"/><circle cx="70.35" cy="919" r="2.9"/><circle cx="72.07" cy="920.58" r="2.9"/><circle cx="77.91" cy="938.63" r="2.9"/><circle cx="80.06" cy="934.93" r="2.9"/><circle cx="81.42" cy="935.29" r="2.9"/><circle cx="83.12" cy="936.67" r="2.9"/><circle cx="85.01" cy="934.25" r="2.9"/><circle cx="86.48" cy="933.14" r="2.9"/><circle cx="88.87" cy="927.26" r="2.9"/><circle cx="90.05" cy="931.94" r="2.9"/><circle cx="91.87" cy="927.26" r="2.9"/><circle cx="93.65" cy="921.95" r="2.9"/><circle cx="95.8" cy="923.96" r="2.9"/><circle cx="97.91" cy="927.89" r="2.9"/><circle cx="99.68" cy="920.71" r="2.9"/><circle cx="101.37" cy="922.32" r="2.9"/><circle cx="103.33" cy="923.31" r="2.9"/><circle cx="105.82" cy="929.86" r="2.9"/><circle cx="107.51" cy="921.55" r="2.9"/><circle cx="109.29" cy="920.21" r="2.9"/><circle cx="111.09" cy="921.22" r="2.9"/><circle cx="112.82" cy="925.15" r="2.9"/><circle cx="115.14" cy="924.63" r="2.9"/><circle cx="116.73" cy="928.03" r="2.9"/><circle cx="118.81" cy="915.12" r="2.9"/><circle cx="120.66" cy="915.36" r="2.9"/><circle cx="122.73" cy="915.91" r="2.9"/><circle cx="125.09" cy="918.53" r="2.9"/><circle cx="134.79" cy="923.06" r="2.9"/><circle cx="136.87" cy="924.34" r="2.9"/><circle cx="138.7" cy="927.41" r="2.9"/><circle cx="140.65" cy="931.81" r="2.9"/><circle cx="142.43" cy="925.56" r="2.9"/><circle cx="144.64" cy="929.01" r="2.9"/><circle cx="146" cy="923.2" r="2.9"/><circle cx="148.51" cy="924.13" r="2.9"/><circle cx="150.15" cy="927.78" r="2.9"/><circle cx="152.15" cy="924.18" r="2.9"/><circle cx="153.39" cy="928.77" r="2.9"/><circle cx="155.26" cy="920.99" r="2.9"/><circle cx="157.42" cy="929.93" r="2.9"/><circle cx="159.26" cy="927.66" r="2.9"/><circle cx="161.63" cy="922.47" r="2.9"/><circle cx="162.81" cy="930.4" r="2.9"/><circle cx="164.71" cy="922.36" r="2.9"/><circle cx="166.9" cy="928.66" r="2.9"/><circle cx="168.46" cy="923.67" r="2.9"/><circle cx="170.72" cy="929.19" r="2.9"/><circle cx="172.91" cy="921.73" r="2.9"/><circle cx="174.27" cy="926.53" r="2.9"/><circle cx="176.11" cy="924.39" r="2.9"/><circle cx="178.48" cy="925.86" r="2.9"/><circle cx="179.74" cy="924.51" r="2.9"/><circle cx="182.07" cy="926.8" r="2.9"/><circle cx="183.59" cy="928.79" r="2.9"/><circle cx="185.9" cy="923.16" r="2.9"/><circle cx="187.99" cy="927.28" r="2.9"/><circle cx="189.23" cy="927.02" r="2.9"/><circle cx="191.16" cy="927.24" r="2.9"/><circle cx="193.3" cy="925.71" r="2.9"/><circle cx="195.14" cy="925.16" r="2.9"/><circle cx="197.25" cy="923.4" r="2.9"/><circle cx="198.96" cy="925.31" r="2.9"/><circle cx="200.57" cy="924.21" r="2.9"/><circle cx="202.66" cy="927.63" r="2.9"/><circle cx="204.38" cy="921.03" r="2.9"/><circle cx="206.79" cy="926.68" r="2.9"/><circle cx="208.54" cy="922.02" r="2.9"/><circle cx="210.02" cy="919.67" r="2.9"/><circle cx="211.75" cy="925.56" r="2.9"/><circle cx="214.33" cy="919.95" r="2.9"/><circle cx="215.51" cy="930.4" r="2.9"/><circle cx="217.73" cy="926.28" r="2.9"/><circle cx="219.85" cy="930.61" r="2.9"/><circle cx="221.28" cy="923.48" r="2.9"/><circle cx="223.42" cy="923.4" r="2.9"/><circle cx="225.34" cy="926.21" r="2.9"/><circle cx="226.89" cy="923.9" r="2.9"/><circle cx="228.82" cy="923.52" r="2.9"/><circle cx="236.65" cy="923.23" r="2.9"/><circle cx="238.74" cy="925.73" r="2.9"/><circle cx="241.3" cy="923.55" r="2.9"/><circle cx="243.04" cy="922.72" r="2.9"/><circle cx="245.28" cy="923.93" r="2.9"/><circle cx="247.15" cy="926.04" r="2.9"/><circle cx="249.26" cy="923.31" r="2.9"/><circle cx="251.24" cy="920.18" r="2.9"/><circle cx="252.49" cy="932.95" r="2.9"/><circle cx="254.22" cy="931.44" r="2.9"/><circle cx="256.61" cy="929.12" r="2.9"/><circle cx="257.86" cy="922.71" r="2.9"/><circle cx="260.3" cy="924.41" r="2.9"/><circle cx="261.57" cy="932.99" r="2.9"/><circle cx="263.46" cy="927.26" r="2.9"/><circle cx="265.3" cy="929.68" r="2.9"/><circle cx="266.95" cy="932.49" r="2.9"/><circle cx="269.1" cy="922.89" r="2.9"/><circle cx="270.67" cy="927.47" r="2.9"/><circle cx="272.44" cy="925.73" r="2.9"/><circle cx="274.43" cy="925.08" r="2.9"/><circle cx="276.75" cy="922.32" r="2.9"/><circle cx="278.25" cy="923.44" r="2.9"/><circle cx="280.09" cy="918.92" r="2.9"/><circle cx="282.39" cy="924.62" r="2.9"/><circle cx="284.2" cy="923.94" r="2.9"/><circle cx="285.58" cy="923.8" r="2.9"/><circle cx="288.2" cy="921.06" r="2.9"/><circle cx="289.8" cy="926.22" r="2.9"/><circle cx="291.64" cy="921.05" r="2.9"/><circle cx="293.13" cy="923.95" r="2.9"/><circle cx="295.5" cy="929.15" r="2.9"/><circle cx="297.56" cy="921.61" r="2.9"/><circle cx="298.87" cy="930.36" r="2.9"/><circle cx="301.25" cy="928.95" r="2.9"/><circle cx="303.03" cy="923.88" r="2.9"/><circle cx="304.4" cy="918.07" r="2.9"/><circle cx="306.38" cy="920.25" r="2.9"/><circle cx="308.48" cy="923.93" r="2.9"/><circle cx="309.97" cy="922.96" r="2.9"/><circle cx="311.74" cy="924.28" r="2.9"/><circle cx="313.5" cy="927.88" r="2.9"/><circle cx="315.25" cy="924.65" r="2.9"/><circle cx="317.15" cy="917.98" r="2.9"/><circle cx="318.84" cy="933.51" r="2.9"/><circle cx="320.91" cy="932.73" r="2.9"/><circle cx="322.75" cy="937.64" r="2.9"/><circle cx="324.66" cy="933.82" r="2.9"/><circle cx="327.24" cy="935.56" r="2.9"/><circle cx="329.29" cy="935" r="2.9"/><circle cx="330.67" cy="925.21" r="2.9"/><circle cx="333.1" cy="913.67" r="2.9"/><circle cx="334.37" cy="929.08" r="2.9"/><circle cx="336.43" cy="924.29" r="2.9"/><circle cx="338.35" cy="922.84" r="2.9"/><circle cx="340.34" cy="919.77" r="2.9"/><circle cx="341.77" cy="920.46" r="2.9"/><circle cx="343.95" cy="914" r="2.9"/><circle cx="345.56" cy="912.79" r="2.9"/><circle cx="347.28" cy="911.47" r="2.9"/><circle cx="349.01" cy="922.64" r="2.9"/><circle cx="366.64" cy="920.38" r="2.9"/><circle cx="368.51" cy="918.91" r="2.9"/><circle cx="370.83" cy="924.01" r="2.9"/><circle cx="372.4" cy="929.35" r="2.9"/><circle cx="374.6" cy="923.01" r="2.9"/><circle cx="376.69" cy="928.81" r="2.9"/><circle cx="378.59" cy="924.89" r="2.9"/><circle cx="380.23" cy="922.58" r="2.9"/><circle cx="382.69" cy="922.07" r="2.9"/><circle cx="384.59" cy="927.73" r="2.9"/><circle cx="386.34" cy="927.84" r="2.9"/><circle cx="388.54" cy="928.43" r="2.9"/><circle cx="389.95" cy="920.99" r="2.9"/><circle cx="392.49" cy="920.14" r="2.9"/><circle cx="393.85" cy="921.17" r="2.9"/><circle cx="397.7" cy="914.81" r="2.9"/><circle cx="400.03" cy="914.46" r="2.9"/><circle cx="402.13" cy="911.2" r="2.9"/><circle cx="403.76" cy="914.82" r="2.9"/><circle cx="405.83" cy="909.95" r="2.9"/><circle cx="413.84" cy="917.91" r="2.9"/><circle cx="415.68" cy="919.99" r="2.9"/><circle cx="418.31" cy="919.7" r="2.9"/><circle cx="419.83" cy="921.69" r="2.9"/><circle cx="421.8" cy="921.59" r="2.9"/><circle cx="424.26" cy="917.47" r="2.9"/><circle cx="461.05" cy="924.51" r="2.9"/><circle cx="462.47" cy="923.1" r="2.9"/><circle cx="464.48" cy="919.83" r="2.9"/><circle cx="466.95" cy="917.87" r="2.9"/><circle cx="468.44" cy="918.31" r="2.9"/><circle cx="470.03" cy="917.32" r="2.9"/><circle cx="472.18" cy="912.36" r="2.9"/><circle cx="473.79" cy="925.35" r="2.9"/><circle cx="475.99" cy="917.8" r="2.9"/><circle cx="477.67" cy="914.54" r="2.9"/><circle cx="479.53" cy="922.69" r="2.9"/><circle cx="481.76" cy="921.6" r="2.9"/><circle cx="483.64" cy="917.4" r="2.9"/><circle cx="485.46" cy="917.55" r="2.9"/><circle cx="487.51" cy="925.42" r="2.9"/><circle cx="488.76" cy="920.78" r="2.9"/><circle cx="490.76" cy="924.18" r="2.9"/><circle cx="493.05" cy="917.69" r="2.9"/><circle cx="494.46" cy="912.66" r="2.9"/><circle cx="496.46" cy="919.15" r="2.9"/><circle cx="498.14" cy="924.42" r="2.9"/><circle cx="500.34" cy="925.01" r="2.9"/><circle cx="502.17" cy="912.99" r="2.9"/><circle cx="504.3" cy="917.24" r="2.9"/><circle cx="515.93" cy="917.13" r="2.9"/><circle cx="518.19" cy="913.47" r="2.9"/><circle cx="519.77" cy="918.73" r="2.9"/><circle cx="521.58" cy="915.73" r="2.9"/><circle cx="523.64" cy="918.29" r="2.9"/><circle cx="525.09" cy="918" r="2.9"/><circle cx="527.09" cy="913.06" r="2.9"/><circle cx="529.31" cy="916.06" r="2.9"/><circle cx="530.74" cy="925.05" r="2.9"/><circle cx="532.96" cy="922.96" r="2.9"/><circle cx="534.75" cy="918.08" r="2.9"/><circle cx="536.56" cy="916.25" r="2.9"/><circle cx="538.45" cy="918.72" r="2.9"/><circle cx="540.91" cy="924.55" r="2.9"/><circle cx="542.55" cy="925.33" r="2.9"/><circle cx="544.27" cy="921.92" r="2.9"/><circle cx="546.41" cy="920.25" r="2.9"/><circle cx="547.84" cy="923.99" r="2.9"/><circle cx="550.27" cy="922.81" r="2.9"/><circle cx="552.34" cy="927.48" r="2.9"/><circle cx="553.73" cy="924.49" r="2.9"/><circle cx="555.66" cy="922.89" r="2.9"/><circle cx="557.86" cy="925.5" r="2.9"/><circle cx="559.61" cy="922.76" r="2.9"/><circle cx="561.62" cy="919.87" r="2.9"/><circle cx="563.66" cy="919.39" r="2.9"/><circle cx="565.25" cy="924.49" r="2.9"/><circle cx="567.7" cy="921.9" r="2.9"/><circle cx="569.48" cy="921.64" r="2.9"/><circle cx="570.79" cy="918.45" r="2.9"/><circle cx="573.28" cy="922.43" r="2.9"/><circle cx="575.25" cy="914.13" r="2.9"/><circle cx="576.5" cy="922.64" r="2.9"/><circle cx="578.97" cy="926.49" r="2.9"/><circle cx="581.07" cy="913.74" r="2.9"/><circle cx="582.88" cy="925.99" r="2.9"/><circle cx="584.51" cy="918.12" r="2.9"/><circle cx="586.26" cy="914.33" r="2.9"/><circle cx="588.32" cy="917.38" r="2.9"/><circle cx="590.15" cy="917.13" r="2.9"/><circle cx="592.22" cy="920.35" r="2.9"/><circle cx="593.91" cy="921.9" r="2.9"/><circle cx="595.68" cy="925.71" r="2.9"/><circle cx="597.52" cy="921.24" r="2.9"/><circle cx="600.1" cy="925.67" r="2.9"/><circle cx="601.49" cy="928.64" r="2.9"/><circle cx="603.99" cy="921.34" r="2.9"/><circle cx="605.37" cy="926.32" r="2.9"/><circle cx="607.56" cy="926.26" r="2.9"/><circle cx="609.41" cy="926.18" r="2.9"/><circle cx="611.21" cy="926.62" r="2.9"/><circle cx="613.19" cy="925.94" r="2.9"/><circle cx="615" cy="924.45" r="2.9"/><circle cx="617.1" cy="924.8" r="2.9"/><circle cx="618.98" cy="929.26" r="2.9"/><circle cx="620.57" cy="921.08" r="2.9"/><circle cx="622.62" cy="919.32" r="2.9"/><circle cx="625.09" cy="925.56" r="2.9"/><circle cx="626.64" cy="923.32" r="2.9"/><circle cx="628.27" cy="928.66" r="2.9"/><circle cx="630.48" cy="929.36" r="2.9"/><circle cx="632.61" cy="918.26" r="2.9"/><circle cx="634.04" cy="917.77" r="2.9"/><circle cx="636.5" cy="924.77" r="2.9"/><circle cx="638.44" cy="927.21" r="2.9"/><circle cx="640.24" cy="927.87" r="2.9"/><circle cx="641.86" cy="923.08" r="2.9"/><circle cx="643.99" cy="925.39" r="2.9"/><circle cx="121" cy="892" r="2.9"/><circle cx="129.2" cy="852.5" r="2.9"/><circle cx="132.8" cy="840.3" r="2.9"/><circle cx="126" cy="905" r="2.9"/><circle cx="232.4" cy="909" r="2.9"/><circle cx="246" cy="909" r="2.9"/><circle cx="251" cy="915" r="2.9"/><circle cx="271.7" cy="912" r="2.9"/><circle cx="305" cy="908" r="2.9"/><circle cx="317" cy="913.6" r="2.9"/><circle cx="337" cy="936.2" r="2.9"/><circle cx="416.5" cy="893" r="2.9"/><circle cx="460.5" cy="904.5" r="2.9"/><circle cx="490.3" cy="900" r="2.9"/><circle cx="592" cy="881" r="2.9"/><circle cx="599" cy="912" r="2.9"/><circle cx="644" cy="900" r="2.9"/></g>
<g fill="#000" stroke="none"><circle cx="69.98" cy="644.21" r="3.4"/><circle cx="72.04" cy="646.35" r="3.4"/><circle cx="74.65" cy="659.93" r="3.4"/><circle cx="76.85" cy="661.08" r="3.4"/><circle cx="79.1" cy="659.48" r="3.4"/><circle cx="81.22" cy="657.41" r="3.4"/><circle cx="82.93" cy="660.79" r="3.4"/><circle cx="76.73" cy="635.56" r="3.4"/><circle cx="78.27" cy="635.61" r="3.4"/><circle cx="80.73" cy="632.84" r="3.4"/><circle cx="82.42" cy="630.64" r="3.4"/><circle cx="84.89" cy="657.07" r="3.4"/><circle cx="86.75" cy="652.26" r="3.4"/><circle cx="89.09" cy="655.41" r="3.4"/><circle cx="90.92" cy="651.52" r="3.4"/><circle cx="89.36" cy="645.84" r="3.4"/><circle cx="90.69" cy="645.46" r="3.4"/><circle cx="93.26" cy="644.48" r="3.4"/><circle cx="97.61" cy="653.57" r="3.4"/><circle cx="99.93" cy="653.55" r="3.4"/><circle cx="101.68" cy="648.66" r="3.4"/><circle cx="103.58" cy="651.28" r="3.4"/><circle cx="105.26" cy="649.62" r="3.4"/><circle cx="107.63" cy="651.04" r="3.4"/><circle cx="109.07" cy="650.69" r="3.4"/><circle cx="110.65" cy="651.92" r="3.4"/><circle cx="112.47" cy="650.99" r="3.4"/><circle cx="114.85" cy="645.91" r="3.4"/><circle cx="116.51" cy="651.93" r="3.4"/><circle cx="118.58" cy="643.8" r="3.4"/><circle cx="120.44" cy="643.27" r="3.4"/><circle cx="122.4" cy="647.32" r="3.4"/><circle cx="120.35" cy="628.89" r="3.4"/><circle cx="121.95" cy="624.51" r="3.4"/><circle cx="124.13" cy="631.43" r="3.4"/><circle cx="126.27" cy="631.61" r="3.4"/><circle cx="127.87" cy="634.59" r="3.4"/><circle cx="130.23" cy="639.72" r="3.4"/><circle cx="135.33" cy="653.1" r="3.4"/><circle cx="137.15" cy="646.81" r="3.4"/><circle cx="139.29" cy="647.26" r="3.4"/><circle cx="141.35" cy="655.51" r="3.4"/><circle cx="143.14" cy="644.33" r="3.4"/><circle cx="144.98" cy="654.95" r="3.4"/><circle cx="146.85" cy="641.44" r="3.4"/><circle cx="148.7" cy="639.13" r="3.4"/><circle cx="151.38" cy="647.58" r="3.4"/><circle cx="153.38" cy="646.75" r="3.4"/><circle cx="154.82" cy="648.5" r="3.4"/><circle cx="156.84" cy="648.07" r="3.4"/><circle cx="158.91" cy="643.22" r="3.4"/><circle cx="160.98" cy="649.01" r="3.4"/><circle cx="162.77" cy="648.4" r="3.4"/><circle cx="164.02" cy="638.28" r="3.4"/><circle cx="166.15" cy="647.89" r="3.4"/><circle cx="167.73" cy="650.05" r="3.4"/><circle cx="169.5" cy="641.51" r="3.4"/><circle cx="171.86" cy="650.77" r="3.4"/><circle cx="173.65" cy="644.3" r="3.4"/><circle cx="175.31" cy="642.57" r="3.4"/><circle cx="177.47" cy="649.74" r="3.4"/><circle cx="178.88" cy="647.36" r="3.4"/><circle cx="181.03" cy="644.75" r="3.4"/><circle cx="182.97" cy="655.98" r="3.4"/><circle cx="189.04" cy="643.43" r="3.4"/><circle cx="191.03" cy="646.62" r="3.4"/><circle cx="192.51" cy="645.55" r="3.4"/><circle cx="194.17" cy="645.3" r="3.4"/><circle cx="195.91" cy="635.74" r="3.4"/><circle cx="197.75" cy="633.63" r="3.4"/><circle cx="200.11" cy="638.89" r="3.4"/><circle cx="201.79" cy="641.53" r="3.4"/><circle cx="203.3" cy="646.66" r="3.4"/><circle cx="205.62" cy="648.71" r="3.4"/><circle cx="206.78" cy="646.86" r="3.4"/><circle cx="208.74" cy="649.72" r="3.4"/><circle cx="210.53" cy="639.81" r="3.4"/><circle cx="213.12" cy="645.31" r="3.4"/><circle cx="214.29" cy="638.11" r="3.4"/><circle cx="216.18" cy="640.41" r="3.4"/><circle cx="218.83" cy="639.99" r="3.4"/><circle cx="220.67" cy="642.76" r="3.4"/><circle cx="222.18" cy="646.36" r="3.4"/><circle cx="224.01" cy="637.97" r="3.4"/><circle cx="225.74" cy="636.25" r="3.4"/><circle cx="228.16" cy="631.58" r="3.4"/><circle cx="229.37" cy="637.39" r="3.4"/><circle cx="231.34" cy="631.13" r="3.4"/><circle cx="233.24" cy="630.07" r="3.4"/><circle cx="235.62" cy="647.17" r="3.4"/><circle cx="237.43" cy="635.46" r="3.4"/><circle cx="238.76" cy="644.44" r="3.4"/><circle cx="240.56" cy="655.77" r="3.4"/><circle cx="240.54" cy="635.07" r="3.4"/><circle cx="242.31" cy="632.79" r="3.4"/><circle cx="244.03" cy="634.36" r="3.4"/><circle cx="242.52" cy="653.65" r="3.4"/><circle cx="244.68" cy="645.52" r="3.4"/><circle cx="246.41" cy="652.23" r="3.4"/><circle cx="248.3" cy="645.64" r="3.4"/><circle cx="250.06" cy="649.29" r="3.4"/><circle cx="246.16" cy="631.78" r="3.4"/><circle cx="247.61" cy="634.63" r="3.4"/><circle cx="249.94" cy="635.06" r="3.4"/><circle cx="252.25" cy="631.67" r="3.4"/><circle cx="254.22" cy="641.41" r="3.4"/><circle cx="255.96" cy="644.09" r="3.4"/><circle cx="257.47" cy="642.55" r="3.4"/><circle cx="259.3" cy="651.66" r="3.4"/><circle cx="268.91" cy="651.19" r="3.4"/><circle cx="270.8" cy="641.28" r="3.4"/><circle cx="272.4" cy="645.3" r="3.4"/><circle cx="274.5" cy="649.64" r="3.4"/><circle cx="276.7" cy="642.32" r="3.4"/><circle cx="278.72" cy="648.33" r="3.4"/><circle cx="280.12" cy="644.15" r="3.4"/><circle cx="282.11" cy="645.52" r="3.4"/><circle cx="284.19" cy="647.96" r="3.4"/><circle cx="285.95" cy="642.75" r="3.4"/><circle cx="288.29" cy="651.09" r="3.4"/><circle cx="289.68" cy="647.55" r="3.4"/><circle cx="291.27" cy="647.5" r="3.4"/><circle cx="293.03" cy="650.61" r="3.4"/><circle cx="295.06" cy="645.08" r="3.4"/><circle cx="296.82" cy="645" r="3.4"/><circle cx="298.94" cy="651.47" r="3.4"/><circle cx="300.54" cy="643.44" r="3.4"/><circle cx="302.16" cy="648.9" r="3.4"/><circle cx="304.65" cy="645.37" r="3.4"/><circle cx="305.77" cy="647.57" r="3.4"/><circle cx="308.2" cy="645.96" r="3.4"/><circle cx="309.32" cy="651.6" r="3.4"/><circle cx="311.22" cy="643.24" r="3.4"/><circle cx="313.41" cy="643.38" r="3.4"/><circle cx="315.23" cy="650.92" r="3.4"/><circle cx="315.18" cy="643.31" r="3.4"/><circle cx="316.82" cy="638.65" r="3.4"/><circle cx="318.72" cy="641.42" r="3.4"/><circle cx="320.28" cy="636.43" r="3.4"/><circle cx="322.31" cy="644.8" r="3.4"/><circle cx="320.94" cy="654.2" r="3.4"/><circle cx="322.45" cy="656.09" r="3.4"/><circle cx="324.84" cy="652.8" r="3.4"/><circle cx="326.81" cy="651.1" r="3.4"/><circle cx="328.63" cy="654.96" r="3.4"/><circle cx="330.52" cy="651.14" r="3.4"/><circle cx="332.15" cy="652.14" r="3.4"/><circle cx="332.72" cy="639.78" r="3.4"/><circle cx="334.91" cy="638.41" r="3.4"/><circle cx="336.92" cy="646.89" r="3.4"/><circle cx="339.3" cy="645.7" r="3.4"/><circle cx="340.68" cy="643.03" r="3.4"/><circle cx="343.29" cy="644.22" r="3.4"/><circle cx="345.38" cy="638.46" r="3.4"/><circle cx="347.03" cy="647.17" r="3.4"/><circle cx="349.15" cy="643.92" r="3.4"/><circle cx="366.65" cy="634.83" r="3.4"/><circle cx="369.36" cy="644.69" r="3.4"/><circle cx="371.11" cy="639.16" r="3.4"/><circle cx="376.88" cy="649.94" r="3.4"/><circle cx="378.75" cy="638.8" r="3.4"/><circle cx="380.74" cy="644.35" r="3.4"/><circle cx="382.97" cy="646.76" r="3.4"/><circle cx="384.38" cy="644.12" r="3.4"/><circle cx="386.68" cy="637.52" r="3.4"/><circle cx="388.54" cy="641.58" r="3.4"/><circle cx="390.24" cy="648.58" r="3.4"/><circle cx="392.15" cy="639.45" r="3.4"/><circle cx="393.67" cy="635.69" r="3.4"/><circle cx="397.56" cy="647.05" r="3.4"/><circle cx="400.14" cy="640.98" r="3.4"/><circle cx="401.69" cy="640.8" r="3.4"/><circle cx="403.63" cy="645.89" r="3.4"/><circle cx="405.04" cy="639.66" r="3.4"/><circle cx="407.39" cy="646.53" r="3.4"/><circle cx="409.41" cy="649.8" r="3.4"/><circle cx="411" cy="641.46" r="3.4"/><circle cx="414.12" cy="633.42" r="3.4"/><circle cx="415.42" cy="640.4" r="3.4"/><circle cx="417.64" cy="644.73" r="3.4"/><circle cx="419.49" cy="628.75" r="3.4"/><circle cx="421.27" cy="634.21" r="3.4"/><circle cx="459.25" cy="636.2" r="3.4"/><circle cx="461.18" cy="642.05" r="3.4"/><circle cx="463.23" cy="649.17" r="3.4"/><circle cx="465.08" cy="648.04" r="3.4"/><circle cx="466.91" cy="640.64" r="3.4"/><circle cx="469.34" cy="646.45" r="3.4"/><circle cx="471.15" cy="643.27" r="3.4"/><circle cx="472.79" cy="637.14" r="3.4"/><circle cx="475.03" cy="635.72" r="3.4"/><circle cx="477.07" cy="628.78" r="3.4"/><circle cx="479.29" cy="629.93" r="3.4"/><circle cx="481.08" cy="631.9" r="3.4"/><circle cx="482.77" cy="637.55" r="3.4"/><circle cx="484.59" cy="637.34" r="3.4"/><circle cx="487.04" cy="646.24" r="3.4"/><circle cx="488.79" cy="642.29" r="3.4"/><circle cx="490.2" cy="644.85" r="3.4"/><circle cx="492.8" cy="646.83" r="3.4"/><circle cx="494.25" cy="642.07" r="3.4"/><circle cx="495.98" cy="649.33" r="3.4"/><circle cx="498.06" cy="636.35" r="3.4"/><circle cx="499.83" cy="636.91" r="3.4"/><circle cx="514.73" cy="646.07" r="3.4"/><circle cx="516.76" cy="643.57" r="3.4"/><circle cx="518.53" cy="639.14" r="3.4"/><circle cx="520.25" cy="647.74" r="3.4"/><circle cx="522.08" cy="640.32" r="3.4"/><circle cx="524.25" cy="638.36" r="3.4"/><circle cx="521.1" cy="650.54" r="3.4"/><circle cx="522.76" cy="646.38" r="3.4"/><circle cx="524.62" cy="645.23" r="3.4"/><circle cx="527.08" cy="654.62" r="3.4"/><circle cx="528.97" cy="646.5" r="3.4"/><circle cx="530.95" cy="645.68" r="3.4"/><circle cx="532.31" cy="653.05" r="3.4"/><circle cx="534.06" cy="644.48" r="3.4"/><circle cx="536.13" cy="645.72" r="3.4"/><circle cx="538.54" cy="649.31" r="3.4"/><circle cx="540.47" cy="649.77" r="3.4"/><circle cx="542" cy="653.45" r="3.4"/><circle cx="543.66" cy="644.67" r="3.4"/><circle cx="545.56" cy="644.98" r="3.4"/><circle cx="547.76" cy="649.31" r="3.4"/><circle cx="550.01" cy="637.18" r="3.4"/><circle cx="551.38" cy="646.3" r="3.4"/><circle cx="553.41" cy="643.67" r="3.4"/><circle cx="555.69" cy="641.55" r="3.4"/><circle cx="557.58" cy="640.14" r="3.4"/><circle cx="559.01" cy="646.3" r="3.4"/><circle cx="560.7" cy="644.55" r="3.4"/><circle cx="562.98" cy="641.78" r="3.4"/><circle cx="564.62" cy="646.97" r="3.4"/><circle cx="566.44" cy="643.37" r="3.4"/><circle cx="568.68" cy="642.1" r="3.4"/><circle cx="570.68" cy="638.86" r="3.4"/><circle cx="572.22" cy="640.37" r="3.4"/><circle cx="573.94" cy="649.27" r="3.4"/><circle cx="575.68" cy="642.26" r="3.4"/><circle cx="577.77" cy="644.4" r="3.4"/><circle cx="580.12" cy="645.05" r="3.4"/><circle cx="581.42" cy="646.84" r="3.4"/><circle cx="583.26" cy="643.65" r="3.4"/><circle cx="585.87" cy="650.75" r="3.4"/><circle cx="587.12" cy="640.91" r="3.4"/><circle cx="589.64" cy="643.87" r="3.4"/><circle cx="591" cy="642.3" r="3.4"/><circle cx="593.37" cy="642.99" r="3.4"/><circle cx="595.13" cy="643.02" r="3.4"/><circle cx="597.03" cy="648.54" r="3.4"/><circle cx="598.87" cy="646.74" r="3.4"/><circle cx="597.33" cy="636.98" r="3.4"/><circle cx="598.72" cy="638.35" r="3.4"/><circle cx="600.79" cy="635.31" r="3.4"/><circle cx="603.29" cy="638.08" r="3.4"/><circle cx="605.09" cy="633.91" r="3.4"/><circle cx="601.11" cy="643.45" r="3.4"/><circle cx="602.86" cy="645.61" r="3.4"/><circle cx="604.61" cy="645.56" r="3.4"/><circle cx="606.8" cy="648.91" r="3.4"/><circle cx="608.54" cy="643.82" r="3.4"/><circle cx="610.52" cy="643.56" r="3.4"/><circle cx="612.2" cy="651.26" r="3.4"/><circle cx="613.7" cy="650.54" r="3.4"/><circle cx="615.81" cy="651.14" r="3.4"/><circle cx="617.75" cy="651.3" r="3.4"/><circle cx="619.83" cy="650.47" r="3.4"/><circle cx="621.35" cy="644.6" r="3.4"/><circle cx="623.6" cy="648.7" r="3.4"/><circle cx="625.02" cy="649.08" r="3.4"/><circle cx="627.32" cy="647.99" r="3.4"/><circle cx="628.7" cy="650.96" r="3.4"/><circle cx="630.77" cy="647.58" r="3.4"/><circle cx="632.86" cy="643.09" r="3.4"/><circle cx="634.79" cy="651.35" r="3.4"/><circle cx="636.28" cy="645.68" r="3.4"/><circle cx="638.53" cy="645.79" r="3.4"/><circle cx="640.1" cy="642.41" r="3.4"/><circle cx="642.19" cy="643.57" r="3.4"/><circle cx="643.73" cy="642.4" r="3.4"/><circle cx="132.7" cy="625" r="3.4"/><circle cx="134.9" cy="587.4" r="3.4"/><circle cx="121.4" cy="624.3" r="3.4"/><circle cx="131.5" cy="624.8" r="3.4"/><circle cx="186" cy="629.7" r="3.4"/><circle cx="193" cy="650" r="3.4"/><circle cx="307.5" cy="640" r="3.4"/><circle cx="317" cy="631.4" r="3.4"/><circle cx="338" cy="648" r="3.4"/><circle cx="368" cy="636" r="3.4"/><circle cx="374.9" cy="579" r="3.4"/><circle cx="381.7" cy="645" r="3.4"/><circle cx="416" cy="618" r="3.4"/><circle cx="419" cy="622" r="3.4"/><circle cx="460" cy="612.4" r="3.4"/><circle cx="472" cy="630" r="3.4"/><circle cx="476" cy="632" r="3.4"/><circle cx="480" cy="628" r="3.4"/><circle cx="494.8" cy="642" r="3.4"/><circle cx="545.5" cy="646" r="3.4"/><circle cx="599" cy="632" r="3.4"/><circle cx="644" cy="608" r="3.4"/><circle cx="66.88" cy="778.72" r="3.4"/><circle cx="68.37" cy="781.62" r="3.4"/><circle cx="70.39" cy="780.14" r="3.4"/><circle cx="71.77" cy="781.38" r="3.4"/><circle cx="77.87" cy="796.31" r="3.4"/><circle cx="80.04" cy="796.66" r="3.4"/><circle cx="82.04" cy="791.67" r="3.4"/><circle cx="84.03" cy="795.18" r="3.4"/><circle cx="86" cy="794.04" r="3.4"/><circle cx="88.37" cy="792.15" r="3.4"/><circle cx="90.16" cy="796.73" r="3.4"/><circle cx="92.33" cy="796.22" r="3.4"/><circle cx="94.19" cy="789.38" r="3.4"/><circle cx="95.63" cy="788.92" r="3.4"/><circle cx="97.62" cy="779.33" r="3.4"/><circle cx="100.07" cy="781" r="3.4"/><circle cx="102" cy="788.48" r="3.4"/><circle cx="103.96" cy="780.75" r="3.4"/><circle cx="105.77" cy="787.83" r="3.4"/><circle cx="107.78" cy="780.98" r="3.4"/><circle cx="109.81" cy="780.26" r="3.4"/><circle cx="111.76" cy="778.69" r="3.4"/><circle cx="113.84" cy="782.4" r="3.4"/><circle cx="116.16" cy="781.39" r="3.4"/><circle cx="117.76" cy="783.78" r="3.4"/><circle cx="120.18" cy="776.77" r="3.4"/><circle cx="121.74" cy="780.39" r="3.4"/><circle cx="123.86" cy="775.93" r="3.4"/><circle cx="125.86" cy="782.46" r="3.4"/><circle cx="127.36" cy="782.05" r="3.4"/><circle cx="129.36" cy="778.14" r="3.4"/><circle cx="130.95" cy="780.07" r="3.4"/><circle cx="133.4" cy="778.13" r="3.4"/><circle cx="134.57" cy="785.94" r="3.4"/><circle cx="136.74" cy="788.94" r="3.4"/><circle cx="138.62" cy="788.91" r="3.4"/><circle cx="139.91" cy="787.85" r="3.4"/><circle cx="142.2" cy="785.73" r="3.4"/><circle cx="143.64" cy="789.43" r="3.4"/><circle cx="146.03" cy="790.41" r="3.4"/><circle cx="147.62" cy="787.41" r="3.4"/><circle cx="149.59" cy="785.18" r="3.4"/><circle cx="150.94" cy="790.97" r="3.4"/><circle cx="152.67" cy="776.05" r="3.4"/><circle cx="155.28" cy="784.83" r="3.4"/><circle cx="156.62" cy="777.34" r="3.4"/><circle cx="158.97" cy="780.77" r="3.4"/><circle cx="160.79" cy="785.51" r="3.4"/><circle cx="162.64" cy="786.73" r="3.4"/><circle cx="165.03" cy="783.6" r="3.4"/><circle cx="167.28" cy="787.66" r="3.4"/><circle cx="168.88" cy="789.04" r="3.4"/><circle cx="170.78" cy="791.91" r="3.4"/><circle cx="172.58" cy="791.41" r="3.4"/><circle cx="174.21" cy="788.88" r="3.4"/><circle cx="175.8" cy="786.11" r="3.4"/><circle cx="177.69" cy="785.01" r="3.4"/><circle cx="179.5" cy="786.26" r="3.4"/><circle cx="181.84" cy="788.43" r="3.4"/><circle cx="183.2" cy="780.86" r="3.4"/><circle cx="185.43" cy="789.02" r="3.4"/><circle cx="186.87" cy="782.92" r="3.4"/><circle cx="188.75" cy="785.98" r="3.4"/><circle cx="190.75" cy="781.71" r="3.4"/><circle cx="192.74" cy="783.45" r="3.4"/><circle cx="194.58" cy="782.23" r="3.4"/><circle cx="196.95" cy="787.7" r="3.4"/><circle cx="198.43" cy="787.71" r="3.4"/><circle cx="200.52" cy="782.15" r="3.4"/><circle cx="202.81" cy="782.15" r="3.4"/><circle cx="204.25" cy="780" r="3.4"/><circle cx="206.17" cy="778.77" r="3.4"/><circle cx="208.49" cy="782.83" r="3.4"/><circle cx="209.97" cy="781.34" r="3.4"/><circle cx="212.31" cy="780.99" r="3.4"/><circle cx="214.39" cy="780.57" r="3.4"/><circle cx="215.75" cy="787.3" r="3.4"/><circle cx="218.36" cy="783.76" r="3.4"/><circle cx="219.96" cy="784.54" r="3.4"/><circle cx="222.3" cy="783.7" r="3.4"/><circle cx="223.84" cy="779.48" r="3.4"/><circle cx="225.67" cy="778.35" r="3.4"/><circle cx="228.16" cy="778.29" r="3.4"/><circle cx="229.81" cy="792.74" r="3.4"/><circle cx="232.11" cy="791.12" r="3.4"/><circle cx="234.26" cy="790.61" r="3.4"/><circle cx="236" cy="794.65" r="3.4"/><circle cx="238.21" cy="794.52" r="3.4"/><circle cx="240.13" cy="790.25" r="3.4"/><circle cx="241.66" cy="792.8" r="3.4"/><circle cx="243.68" cy="793.23" r="3.4"/><circle cx="251.13" cy="780.45" r="3.4"/><circle cx="252.69" cy="782.48" r="3.4"/><circle cx="268.29" cy="781.4" r="3.4"/><circle cx="269.79" cy="787.49" r="3.4"/><circle cx="271.58" cy="784.22" r="3.4"/><circle cx="273.7" cy="778.75" r="3.4"/><circle cx="275.24" cy="779.01" r="3.4"/><circle cx="276.94" cy="780.94" r="3.4"/><circle cx="279.28" cy="786.5" r="3.4"/><circle cx="281.2" cy="785.64" r="3.4"/><circle cx="282.6" cy="789.59" r="3.4"/><circle cx="284.98" cy="785.08" r="3.4"/><circle cx="286.71" cy="778.82" r="3.4"/><circle cx="288.77" cy="784.9" r="3.4"/><circle cx="290.59" cy="782.87" r="3.4"/><circle cx="292.04" cy="781.61" r="3.4"/><circle cx="293.94" cy="780.56" r="3.4"/><circle cx="296.25" cy="782.89" r="3.4"/><circle cx="297.68" cy="779.81" r="3.4"/><circle cx="299.92" cy="785.28" r="3.4"/><circle cx="301.53" cy="787.71" r="3.4"/><circle cx="303.37" cy="784.17" r="3.4"/><circle cx="305.33" cy="786.12" r="3.4"/><circle cx="307.23" cy="783.37" r="3.4"/><circle cx="309.42" cy="788.7" r="3.4"/><circle cx="323.39" cy="792.25" r="3.4"/><circle cx="324.9" cy="792.93" r="3.4"/><circle cx="327.03" cy="792.79" r="3.4"/><circle cx="330.59" cy="775.87" r="3.4"/><circle cx="332.95" cy="784.06" r="3.4"/><circle cx="334.51" cy="783.81" r="3.4"/><circle cx="336.78" cy="783.03" r="3.4"/><circle cx="338.36" cy="782.03" r="3.4"/><circle cx="340.76" cy="783.38" r="3.4"/><circle cx="342.53" cy="781.65" r="3.4"/><circle cx="344.54" cy="781.26" r="3.4"/><circle cx="346.08" cy="778.53" r="3.4"/><circle cx="348.19" cy="783.09" r="3.4"/><circle cx="367.11" cy="779.39" r="3.4"/><circle cx="368.83" cy="779.42" r="3.4"/><circle cx="370.25" cy="772.21" r="3.4"/><circle cx="372.24" cy="772.53" r="3.4"/><circle cx="374.09" cy="780.43" r="3.4"/><circle cx="376.25" cy="774.01" r="3.4"/><circle cx="379.98" cy="770.2" r="3.4"/><circle cx="382.14" cy="765.93" r="3.4"/><circle cx="383.32" cy="774.87" r="3.4"/><circle cx="385.18" cy="774.82" r="3.4"/><circle cx="386.9" cy="767.67" r="3.4"/><circle cx="388.94" cy="769.61" r="3.4"/><circle cx="395.68" cy="781.96" r="3.4"/><circle cx="398.26" cy="782.15" r="3.4"/><circle cx="399.75" cy="783.5" r="3.4"/><circle cx="401.71" cy="782" r="3.4"/><circle cx="404.03" cy="781.64" r="3.4"/><circle cx="405.76" cy="784.19" r="3.4"/><circle cx="411.15" cy="785.31" r="3.4"/><circle cx="413.39" cy="783.73" r="3.4"/><circle cx="414.79" cy="785.89" r="3.4"/><circle cx="416.68" cy="785.81" r="3.4"/><circle cx="461.57" cy="779.89" r="3.4"/><circle cx="464.18" cy="780.97" r="3.4"/><circle cx="466.01" cy="776.02" r="3.4"/><circle cx="467.51" cy="780.69" r="3.4"/><circle cx="469.55" cy="782.88" r="3.4"/><circle cx="471.67" cy="776.63" r="3.4"/><circle cx="472.76" cy="776.52" r="3.4"/><circle cx="475.14" cy="782.41" r="3.4"/><circle cx="477.17" cy="779.02" r="3.4"/><circle cx="479.04" cy="776.2" r="3.4"/><circle cx="480.83" cy="777.92" r="3.4"/><circle cx="482.1" cy="781.4" r="3.4"/><circle cx="484.47" cy="778.57" r="3.4"/><circle cx="486.17" cy="782.4" r="3.4"/><circle cx="488.28" cy="779.02" r="3.4"/><circle cx="489.78" cy="777.8" r="3.4"/><circle cx="491.56" cy="776.49" r="3.4"/><circle cx="493.76" cy="781.06" r="3.4"/><circle cx="495.51" cy="780.83" r="3.4"/><circle cx="497.72" cy="777.58" r="3.4"/><circle cx="499" cy="781.48" r="3.4"/><circle cx="501.1" cy="780.57" r="3.4"/><circle cx="502.95" cy="779.8" r="3.4"/><circle cx="515.74" cy="785.55" r="3.4"/><circle cx="518.1" cy="778.89" r="3.4"/><circle cx="519.31" cy="781.26" r="3.4"/><circle cx="521.89" cy="781.11" r="3.4"/><circle cx="523.09" cy="778.67" r="3.4"/><circle cx="525.1" cy="778.05" r="3.4"/><circle cx="526.89" cy="785.68" r="3.4"/><circle cx="528.87" cy="782.11" r="3.4"/><circle cx="531.16" cy="783.97" r="3.4"/><circle cx="533.13" cy="778.18" r="3.4"/><circle cx="535.07" cy="786.07" r="3.4"/><circle cx="536.92" cy="778.8" r="3.4"/><circle cx="538.19" cy="781.65" r="3.4"/><circle cx="540.48" cy="782.82" r="3.4"/><circle cx="542.24" cy="784.54" r="3.4"/><circle cx="544.13" cy="786.64" r="3.4"/><circle cx="545.72" cy="773.66" r="3.4"/><circle cx="547.45" cy="775.19" r="3.4"/><circle cx="549.85" cy="779.76" r="3.4"/><circle cx="551.27" cy="781.87" r="3.4"/><circle cx="553.31" cy="781.04" r="3.4"/><circle cx="555.37" cy="779.46" r="3.4"/><circle cx="557.64" cy="774.28" r="3.4"/><circle cx="559.16" cy="776.01" r="3.4"/><circle cx="560.99" cy="772.86" r="3.4"/><circle cx="563.25" cy="783.62" r="3.4"/><circle cx="565.11" cy="782.98" r="3.4"/><circle cx="566.96" cy="783.32" r="3.4"/><circle cx="568.6" cy="777.91" r="3.4"/><circle cx="570.62" cy="776.91" r="3.4"/><circle cx="572.98" cy="778.84" r="3.4"/><circle cx="574.71" cy="785.55" r="3.4"/><circle cx="575.8" cy="770.25" r="3.4"/><circle cx="578.13" cy="781.87" r="3.4"/><circle cx="579.49" cy="779.51" r="3.4"/><circle cx="581.51" cy="774.36" r="3.4"/><circle cx="583.46" cy="772.36" r="3.4"/><circle cx="585.8" cy="774.73" r="3.4"/><circle cx="587.26" cy="771.79" r="3.4"/><circle cx="589.08" cy="775.81" r="3.4"/><circle cx="591.28" cy="780.58" r="3.4"/><circle cx="593.38" cy="774.18" r="3.4"/><circle cx="595.32" cy="782.79" r="3.4"/><circle cx="596.76" cy="774.32" r="3.4"/><circle cx="598.96" cy="773.59" r="3.4"/><circle cx="600.63" cy="781.56" r="3.4"/><circle cx="603.02" cy="782.36" r="3.4"/><circle cx="604.49" cy="781.53" r="3.4"/><circle cx="606.71" cy="783.96" r="3.4"/><circle cx="608.76" cy="785.71" r="3.4"/><circle cx="610.23" cy="781.7" r="3.4"/><circle cx="612.5" cy="781.03" r="3.4"/><circle cx="614.09" cy="782.02" r="3.4"/><circle cx="616.13" cy="784.06" r="3.4"/><circle cx="618.01" cy="785.02" r="3.4"/><circle cx="619.47" cy="780.42" r="3.4"/><circle cx="621.46" cy="783.83" r="3.4"/><circle cx="623.5" cy="780.64" r="3.4"/><circle cx="625.09" cy="781.25" r="3.4"/><circle cx="627.24" cy="780.14" r="3.4"/><circle cx="628.84" cy="784.47" r="3.4"/><circle cx="630.87" cy="781.96" r="3.4"/><circle cx="632.53" cy="785.74" r="3.4"/><circle cx="634.38" cy="783.41" r="3.4"/><circle cx="636.28" cy="783.79" r="3.4"/><circle cx="638.54" cy="780.32" r="3.4"/><circle cx="640.33" cy="781.05" r="3.4"/><circle cx="642.01" cy="785.03" r="3.4"/><circle cx="644.11" cy="782.49" r="3.4"/><circle cx="79.4" cy="782" r="3.4"/><circle cx="121" cy="772" r="3.4"/><circle cx="130.5" cy="760.5" r="3.4"/><circle cx="172" cy="790" r="3.4"/><circle cx="192.5" cy="803.5" r="3.4"/><circle cx="221" cy="760.5" r="3.4"/><circle cx="246.8" cy="770" r="3.4"/><circle cx="250" cy="771.8" r="3.4"/><circle cx="308" cy="762.8" r="3.4"/><circle cx="318" cy="771.8" r="3.4"/><circle cx="381.7" cy="768" r="3.4"/><circle cx="397.5" cy="786" r="3.4"/><circle cx="414.7" cy="760.5" r="3.4"/><circle cx="479" cy="775" r="3.4"/><circle cx="491" cy="759.6" r="3.4"/><circle cx="522" cy="770" r="3.4"/><circle cx="518" cy="765" r="3.4"/><circle cx="599" cy="767.3" r="3.4"/><circle cx="644" cy="745.6" r="3.4"/><circle cx="66.66" cy="922.98" r="3.4"/><circle cx="68.32" cy="920.68" r="3.4"/><circle cx="70.35" cy="921.54" r="3.4"/><circle cx="72.07" cy="920.91" r="3.4"/><circle cx="77.91" cy="937.27" r="3.4"/><circle cx="80.06" cy="933.87" r="3.4"/><circle cx="81.42" cy="934.09" r="3.4"/><circle cx="83.12" cy="936.13" r="3.4"/><circle cx="85.01" cy="936.65" r="3.4"/><circle cx="86.48" cy="931.57" r="3.4"/><circle cx="88.87" cy="928.59" r="3.4"/><circle cx="90.05" cy="931.7" r="3.4"/><circle cx="91.87" cy="928.51" r="3.4"/><circle cx="93.65" cy="921.62" r="3.4"/><circle cx="95.8" cy="922.53" r="3.4"/><circle cx="97.91" cy="926.55" r="3.4"/><circle cx="99.68" cy="920.23" r="3.4"/><circle cx="101.37" cy="921.75" r="3.4"/><circle cx="103.33" cy="923.81" r="3.4"/><circle cx="105.82" cy="927.92" r="3.4"/><circle cx="107.51" cy="921.58" r="3.4"/><circle cx="109.29" cy="920.83" r="3.4"/><circle cx="111.09" cy="921.14" r="3.4"/><circle cx="112.82" cy="928.34" r="3.4"/><circle cx="115.14" cy="927.69" r="3.4"/><circle cx="116.73" cy="927.49" r="3.4"/><circle cx="118.81" cy="916.54" r="3.4"/><circle cx="120.66" cy="915.04" r="3.4"/><circle cx="122.73" cy="919.34" r="3.4"/><circle cx="125.09" cy="919.8" r="3.4"/><circle cx="134.79" cy="922.6" r="3.4"/><circle cx="136.87" cy="926.05" r="3.4"/><circle cx="138.7" cy="931.74" r="3.4"/><circle cx="140.65" cy="931.67" r="3.4"/><circle cx="142.43" cy="925.69" r="3.4"/><circle cx="144.64" cy="928.7" r="3.4"/><circle cx="146" cy="922.71" r="3.4"/><circle cx="148.51" cy="928.78" r="3.4"/><circle cx="150.15" cy="927.15" r="3.4"/><circle cx="152.15" cy="923.02" r="3.4"/><circle cx="153.39" cy="927.97" r="3.4"/><circle cx="155.26" cy="922.27" r="3.4"/><circle cx="157.42" cy="931" r="3.4"/><circle cx="159.26" cy="927.67" r="3.4"/><circle cx="161.63" cy="922.06" r="3.4"/><circle cx="162.81" cy="931.76" r="3.4"/><circle cx="164.71" cy="922.82" r="3.4"/><circle cx="166.9" cy="928.86" r="3.4"/><circle cx="168.46" cy="923.22" r="3.4"/><circle cx="170.72" cy="929.48" r="3.4"/><circle cx="172.91" cy="922.04" r="3.4"/><circle cx="174.27" cy="928.61" r="3.4"/><circle cx="176.11" cy="924.63" r="3.4"/><circle cx="178.48" cy="924.92" r="3.4"/><circle cx="179.74" cy="923.85" r="3.4"/><circle cx="182.07" cy="929.23" r="3.4"/><circle cx="183.59" cy="927.44" r="3.4"/><circle cx="185.9" cy="922.04" r="3.4"/><circle cx="187.99" cy="926.42" r="3.4"/><circle cx="189.23" cy="925.55" r="3.4"/><circle cx="191.16" cy="927.32" r="3.4"/><circle cx="193.3" cy="925.75" r="3.4"/><circle cx="195.14" cy="925.58" r="3.4"/><circle cx="197.25" cy="924.56" r="3.4"/><circle cx="198.96" cy="928.7" r="3.4"/><circle cx="200.57" cy="923.02" r="3.4"/><circle cx="202.66" cy="926.21" r="3.4"/><circle cx="204.38" cy="922.37" r="3.4"/><circle cx="206.79" cy="926.4" r="3.4"/><circle cx="208.54" cy="923.14" r="3.4"/><circle cx="210.02" cy="922.98" r="3.4"/><circle cx="211.75" cy="925.25" r="3.4"/><circle cx="214.33" cy="922.15" r="3.4"/><circle cx="215.51" cy="929.96" r="3.4"/><circle cx="217.73" cy="927.99" r="3.4"/><circle cx="219.85" cy="929.48" r="3.4"/><circle cx="221.28" cy="922.05" r="3.4"/><circle cx="223.42" cy="926.94" r="3.4"/><circle cx="225.34" cy="924.84" r="3.4"/><circle cx="226.89" cy="928.74" r="3.4"/><circle cx="228.82" cy="927.32" r="3.4"/><circle cx="236.65" cy="923.77" r="3.4"/><circle cx="238.74" cy="926.45" r="3.4"/><circle cx="241.3" cy="922.9" r="3.4"/><circle cx="243.04" cy="926.17" r="3.4"/><circle cx="245.28" cy="924.94" r="3.4"/><circle cx="247.15" cy="925.12" r="3.4"/><circle cx="249.26" cy="926.88" r="3.4"/><circle cx="251.24" cy="920.27" r="3.4"/><circle cx="252.49" cy="931.54" r="3.4"/><circle cx="254.22" cy="931.1" r="3.4"/><circle cx="256.61" cy="929.95" r="3.4"/><circle cx="257.86" cy="925.28" r="3.4"/><circle cx="260.3" cy="924.28" r="3.4"/><circle cx="261.57" cy="931.65" r="3.4"/><circle cx="263.46" cy="927.63" r="3.4"/><circle cx="265.3" cy="929.52" r="3.4"/><circle cx="266.95" cy="931.65" r="3.4"/><circle cx="269.1" cy="921.79" r="3.4"/><circle cx="270.67" cy="927.04" r="3.4"/><circle cx="272.44" cy="929.21" r="3.4"/><circle cx="274.43" cy="924.16" r="3.4"/><circle cx="276.75" cy="921.21" r="3.4"/><circle cx="278.25" cy="922.19" r="3.4"/><circle cx="280.09" cy="920.1" r="3.4"/><circle cx="282.39" cy="924.94" r="3.4"/><circle cx="284.2" cy="927.02" r="3.4"/><circle cx="285.58" cy="922.59" r="3.4"/><circle cx="288.2" cy="920.16" r="3.4"/><circle cx="289.8" cy="931.2" r="3.4"/><circle cx="291.64" cy="924.04" r="3.4"/><circle cx="293.13" cy="928.77" r="3.4"/><circle cx="295.5" cy="930.74" r="3.4"/><circle cx="297.56" cy="923.86" r="3.4"/><circle cx="298.87" cy="931.09" r="3.4"/><circle cx="301.25" cy="928.77" r="3.4"/><circle cx="303.03" cy="923.28" r="3.4"/><circle cx="304.4" cy="919.52" r="3.4"/><circle cx="306.38" cy="918.85" r="3.4"/><circle cx="308.48" cy="924.52" r="3.4"/><circle cx="309.97" cy="926.65" r="3.4"/><circle cx="311.74" cy="925.66" r="3.4"/><circle cx="313.5" cy="926.63" r="3.4"/><circle cx="315.25" cy="923.58" r="3.4"/><circle cx="317.15" cy="918.95" r="3.4"/><circle cx="318.84" cy="934.81" r="3.4"/><circle cx="320.91" cy="932.55" r="3.4"/><circle cx="322.75" cy="935.7" r="3.4"/><circle cx="324.66" cy="933.35" r="3.4"/><circle cx="327.24" cy="935.06" r="3.4"/><circle cx="329.29" cy="933.15" r="3.4"/><circle cx="330.67" cy="926.95" r="3.4"/><circle cx="333.1" cy="917.97" r="3.4"/><circle cx="334.37" cy="927.61" r="3.4"/><circle cx="336.43" cy="926.5" r="3.4"/><circle cx="338.35" cy="922.45" r="3.4"/><circle cx="340.34" cy="919.82" r="3.4"/><circle cx="341.77" cy="921" r="3.4"/><circle cx="343.95" cy="916.66" r="3.4"/><circle cx="345.56" cy="917.25" r="3.4"/><circle cx="347.28" cy="916.12" r="3.4"/><circle cx="349.01" cy="923.39" r="3.4"/><circle cx="366.64" cy="920.5" r="3.4"/><circle cx="368.51" cy="923.45" r="3.4"/><circle cx="370.83" cy="923.89" r="3.4"/><circle cx="372.4" cy="927.91" r="3.4"/><circle cx="374.6" cy="922.66" r="3.4"/><circle cx="376.69" cy="928.93" r="3.4"/><circle cx="378.59" cy="926.34" r="3.4"/><circle cx="380.23" cy="922.36" r="3.4"/><circle cx="382.69" cy="920.91" r="3.4"/><circle cx="384.59" cy="928.42" r="3.4"/><circle cx="386.34" cy="928.35" r="3.4"/><circle cx="388.54" cy="927.68" r="3.4"/><circle cx="389.95" cy="920.01" r="3.4"/><circle cx="392.49" cy="922.95" r="3.4"/><circle cx="393.85" cy="922.26" r="3.4"/><circle cx="397.7" cy="919.12" r="3.4"/><circle cx="400.03" cy="914.76" r="3.4"/><circle cx="402.13" cy="910.08" r="3.4"/><circle cx="403.76" cy="916.64" r="3.4"/><circle cx="405.83" cy="912.67" r="3.4"/><circle cx="413.84" cy="922.47" r="3.4"/><circle cx="415.68" cy="921.02" r="3.4"/><circle cx="418.31" cy="919.51" r="3.4"/><circle cx="419.83" cy="920.35" r="3.4"/><circle cx="421.8" cy="921" r="3.4"/><circle cx="424.26" cy="917.56" r="3.4"/><circle cx="461.05" cy="926.91" r="3.4"/><circle cx="462.47" cy="921.23" r="3.4"/><circle cx="464.48" cy="922.52" r="3.4"/><circle cx="466.95" cy="921.76" r="3.4"/><circle cx="468.44" cy="918.58" r="3.4"/><circle cx="470.03" cy="921.33" r="3.4"/><circle cx="472.18" cy="915.41" r="3.4"/><circle cx="473.79" cy="924.15" r="3.4"/><circle cx="475.99" cy="917.29" r="3.4"/><circle cx="477.67" cy="915.11" r="3.4"/><circle cx="479.53" cy="923.68" r="3.4"/><circle cx="481.76" cy="922.07" r="3.4"/><circle cx="483.64" cy="920.87" r="3.4"/><circle cx="485.46" cy="916.64" r="3.4"/><circle cx="487.51" cy="926.85" r="3.4"/><circle cx="488.76" cy="924.01" r="3.4"/><circle cx="490.76" cy="924" r="3.4"/><circle cx="493.05" cy="918.16" r="3.4"/><circle cx="494.46" cy="916.4" r="3.4"/><circle cx="496.46" cy="921.21" r="3.4"/><circle cx="498.14" cy="925.63" r="3.4"/><circle cx="500.34" cy="925.01" r="3.4"/><circle cx="502.17" cy="915.54" r="3.4"/><circle cx="504.3" cy="916.16" r="3.4"/><circle cx="515.93" cy="921.99" r="3.4"/><circle cx="518.19" cy="912.64" r="3.4"/><circle cx="519.77" cy="919.99" r="3.4"/><circle cx="521.58" cy="914.78" r="3.4"/><circle cx="523.64" cy="916.95" r="3.4"/><circle cx="525.09" cy="918.37" r="3.4"/><circle cx="527.09" cy="911.58" r="3.4"/><circle cx="529.31" cy="914.77" r="3.4"/><circle cx="530.74" cy="924.35" r="3.4"/><circle cx="532.96" cy="925.02" r="3.4"/><circle cx="534.75" cy="917.98" r="3.4"/><circle cx="536.56" cy="917.47" r="3.4"/><circle cx="538.45" cy="922.55" r="3.4"/><circle cx="540.91" cy="924.32" r="3.4"/><circle cx="542.55" cy="926.21" r="3.4"/><circle cx="544.27" cy="923.28" r="3.4"/><circle cx="546.41" cy="921.41" r="3.4"/><circle cx="547.84" cy="925.74" r="3.4"/><circle cx="550.27" cy="921.48" r="3.4"/><circle cx="552.34" cy="925.58" r="3.4"/><circle cx="553.73" cy="924.25" r="3.4"/><circle cx="555.66" cy="926.29" r="3.4"/><circle cx="557.86" cy="925.45" r="3.4"/><circle cx="559.61" cy="923.23" r="3.4"/><circle cx="561.62" cy="918.49" r="3.4"/><circle cx="563.66" cy="919.13" r="3.4"/><circle cx="565.25" cy="925.53" r="3.4"/><circle cx="567.7" cy="922.25" r="3.4"/><circle cx="569.48" cy="922.13" r="3.4"/><circle cx="570.79" cy="919.6" r="3.4"/><circle cx="573.28" cy="923.77" r="3.4"/><circle cx="575.25" cy="917.78" r="3.4"/><circle cx="576.5" cy="926.82" r="3.4"/><circle cx="578.97" cy="926.52" r="3.4"/><circle cx="581.07" cy="917.43" r="3.4"/><circle cx="582.88" cy="926.61" r="3.4"/><circle cx="584.51" cy="918.36" r="3.4"/><circle cx="586.26" cy="918.43" r="3.4"/><circle cx="588.32" cy="918.58" r="3.4"/><circle cx="590.15" cy="918.27" r="3.4"/><circle cx="592.22" cy="921.57" r="3.4"/><circle cx="593.91" cy="925.64" r="3.4"/><circle cx="595.68" cy="926.09" r="3.4"/><circle cx="597.52" cy="922.43" r="3.4"/><circle cx="600.1" cy="926.08" r="3.4"/><circle cx="601.49" cy="927.71" r="3.4"/><circle cx="603.99" cy="920.82" r="3.4"/><circle cx="605.37" cy="926.23" r="3.4"/><circle cx="607.56" cy="927.75" r="3.4"/><circle cx="609.41" cy="926.39" r="3.4"/><circle cx="611.21" cy="925.21" r="3.4"/><circle cx="613.19" cy="924.54" r="3.4"/><circle cx="615" cy="923.58" r="3.4"/><circle cx="617.1" cy="926.79" r="3.4"/><circle cx="618.98" cy="927.89" r="3.4"/><circle cx="620.57" cy="923.35" r="3.4"/><circle cx="622.62" cy="923.63" r="3.4"/><circle cx="625.09" cy="926.53" r="3.4"/><circle cx="626.64" cy="926.01" r="3.4"/><circle cx="628.27" cy="926.78" r="3.4"/><circle cx="630.48" cy="927.99" r="3.4"/><circle cx="632.61" cy="920.58" r="3.4"/><circle cx="634.04" cy="922.36" r="3.4"/><circle cx="636.5" cy="922.79" r="3.4"/><circle cx="638.44" cy="926.47" r="3.4"/><circle cx="640.24" cy="926.79" r="3.4"/><circle cx="641.86" cy="923.29" r="3.4"/><circle cx="643.99" cy="924.74" r="3.4"/><circle cx="121" cy="895.5" r="3.4"/><circle cx="129.2" cy="881" r="3.4"/><circle cx="132.8" cy="872" r="3.4"/><circle cx="126" cy="915" r="3.4"/><circle cx="232.4" cy="915" r="3.4"/><circle cx="246" cy="918" r="3.4"/><circle cx="251" cy="920" r="3.4"/><circle cx="271.7" cy="905.5" r="3.4"/><circle cx="305" cy="906.8" r="3.4"/><circle cx="317" cy="920" r="3.4"/><circle cx="337" cy="932" r="3.4"/><circle cx="416.5" cy="906.8" r="3.4"/><circle cx="460.5" cy="912" r="3.4"/><circle cx="490.3" cy="915" r="3.4"/><circle cx="592" cy="899" r="3.4"/><circle cx="599" cy="908" r="3.4"/><circle cx="644" cy="896.9" r="3.4"/></g>
<g fill="none" stroke="#e01418" stroke-width="1.45"><circle cx="69.98" cy="644.57" r="2.9"/><circle cx="72.04" cy="645.72" r="2.9"/><circle cx="74.65" cy="658.85" r="2.9"/><circle cx="76.85" cy="660.31" r="2.9"/><circle cx="79.1" cy="659.56" r="2.9"/><circle cx="81.22" cy="656.93" r="2.9"/><circle cx="82.93" cy="659.95" r="2.9"/><circle cx="76.73" cy="635.79" r="2.9"/><circle cx="78.27" cy="635.97" r="2.9"/><circle cx="80.73" cy="633.11" r="2.9"/><circle cx="82.42" cy="630.52" r="2.9"/><circle cx="84.89" cy="658.17" r="2.9"/><circle cx="86.75" cy="651.41" r="2.9"/><circle cx="89.09" cy="654.34" r="2.9"/><circle cx="90.92" cy="652.69" r="2.9"/><circle cx="89.36" cy="644.81" r="2.9"/><circle cx="90.69" cy="646.61" r="2.9"/><circle cx="93.26" cy="643.34" r="2.9"/><circle cx="97.61" cy="652.59" r="2.9"/><circle cx="99.93" cy="653.82" r="2.9"/><circle cx="101.68" cy="648.31" r="2.9"/><circle cx="103.58" cy="651.81" r="2.9"/><circle cx="105.26" cy="650.58" r="2.9"/><circle cx="107.63" cy="651.64" r="2.9"/><circle cx="109.07" cy="649.69" r="2.9"/><circle cx="110.65" cy="653.07" r="2.9"/><circle cx="112.47" cy="650.13" r="2.9"/><circle cx="114.85" cy="646.02" r="2.9"/><circle cx="116.51" cy="652.83" r="2.9"/><circle cx="118.58" cy="642.94" r="2.9"/><circle cx="120.44" cy="643.42" r="2.9"/><circle cx="122.4" cy="647.59" r="2.9"/><circle cx="120.35" cy="629.8" r="2.9"/><circle cx="121.95" cy="623.89" r="2.9"/><circle cx="124.13" cy="632.35" r="2.9"/><circle cx="126.27" cy="631.45" r="2.9"/><circle cx="127.87" cy="635.07" r="2.9"/><circle cx="130.23" cy="638.77" r="2.9"/><circle cx="135.33" cy="652.52" r="2.9"/><circle cx="137.15" cy="645.78" r="2.9"/><circle cx="139.29" cy="646.87" r="2.9"/><circle cx="141.35" cy="654.94" r="2.9"/><circle cx="143.14" cy="645.06" r="2.9"/><circle cx="144.98" cy="654.01" r="2.9"/><circle cx="146.85" cy="640.79" r="2.9"/><circle cx="148.7" cy="639.71" r="2.9"/><circle cx="151.38" cy="648.04" r="2.9"/><circle cx="153.38" cy="646.14" r="2.9"/><circle cx="154.82" cy="647.89" r="2.9"/><circle cx="156.84" cy="647.08" r="2.9"/><circle cx="158.91" cy="644.38" r="2.9"/><circle cx="160.98" cy="649.76" r="2.9"/><circle cx="162.77" cy="647.75" r="2.9"/><circle cx="164.02" cy="638.36" r="2.9"/><circle cx="166.15" cy="646.85" r="2.9"/><circle cx="167.73" cy="649.95" r="2.9"/><circle cx="169.5" cy="640.92" r="2.9"/><circle cx="171.86" cy="651.19" r="2.9"/><circle cx="173.65" cy="643.3" r="2.9"/><circle cx="175.31" cy="643.64" r="2.9"/><circle cx="177.47" cy="649.21" r="2.9"/><circle cx="178.88" cy="647.24" r="2.9"/><circle cx="181.03" cy="644.51" r="2.9"/><circle cx="182.97" cy="656.19" r="2.9"/><circle cx="189.04" cy="642.59" r="2.9"/><circle cx="191.03" cy="646.93" r="2.9"/><circle cx="192.51" cy="645.89" r="2.9"/><circle cx="194.17" cy="645.66" r="2.9"/><circle cx="195.91" cy="636.72" r="2.9"/><circle cx="197.75" cy="633.25" r="2.9"/><circle cx="200.11" cy="639.48" r="2.9"/><circle cx="201.79" cy="642.22" r="2.9"/><circle cx="203.3" cy="647.78" r="2.9"/><circle cx="205.62" cy="648.77" r="2.9"/><circle cx="206.78" cy="647.34" r="2.9"/><circle cx="208.74" cy="650.07" r="2.9"/><circle cx="210.53" cy="640.87" r="2.9"/><circle cx="213.12" cy="646.23" r="2.9"/><circle cx="214.29" cy="639.03" r="2.9"/><circle cx="216.18" cy="640.22" r="2.9"/><circle cx="218.83" cy="640.76" r="2.9"/><circle cx="220.67" cy="643.75" r="2.9"/><circle cx="222.18" cy="645.6" r="2.9"/><circle cx="224.01" cy="639.01" r="2.9"/><circle cx="225.74" cy="635.25" r="2.9"/><circle cx="228.16" cy="632.07" r="2.9"/><circle cx="229.37" cy="638.14" r="2.9"/><circle cx="231.34" cy="631.38" r="2.9"/><circle cx="233.24" cy="630.68" r="2.9"/><circle cx="235.62" cy="646.9" r="2.9"/><circle cx="237.43" cy="635.92" r="2.9"/><circle cx="238.76" cy="643.63" r="2.9"/><circle cx="240.56" cy="655.2" r="2.9"/><circle cx="240.54" cy="636.01" r="2.9"/><circle cx="242.31" cy="632.22" r="2.9"/><circle cx="244.03" cy="635.54" r="2.9"/><circle cx="242.52" cy="654.47" r="2.9"/><circle cx="244.68" cy="644.5" r="2.9"/><circle cx="246.41" cy="651.87" r="2.9"/><circle cx="248.3" cy="644.47" r="2.9"/><circle cx="250.06" cy="649.07" r="2.9"/><circle cx="246.16" cy="631.26" r="2.9"/><circle cx="247.61" cy="635.36" r="2.9"/><circle cx="249.94" cy="634.84" r="2.9"/><circle cx="252.25" cy="631.85" r="2.9"/><circle cx="254.22" cy="641.39" r="2.9"/><circle cx="255.96" cy="644.35" r="2.9"/><circle cx="257.47" cy="642.48" r="2.9"/><circle cx="259.3" cy="650.56" r="2.9"/><circle cx="268.91" cy="651.86" r="2.9"/><circle cx="270.8" cy="641.57" r="2.9"/><circle cx="272.4" cy="644.98" r="2.9"/><circle cx="274.5" cy="648.64" r="2.9"/><circle cx="276.7" cy="641.43" r="2.9"/><circle cx="278.72" cy="647.73" r="2.9"/><circle cx="280.12" cy="644.17" r="2.9"/><circle cx="282.11" cy="646.22" r="2.9"/><circle cx="284.19" cy="648.88" r="2.9"/><circle cx="285.95" cy="642.35" r="2.9"/><circle cx="288.29" cy="652.12" r="2.9"/><circle cx="289.68" cy="646.46" r="2.9"/><circle cx="291.27" cy="646.84" r="2.9"/><circle cx="293.03" cy="651.11" r="2.9"/><circle cx="295.06" cy="645.43" r="2.9"/><circle cx="296.82" cy="643.95" r="2.9"/><circle cx="298.94" cy="650.61" r="2.9"/><circle cx="300.54" cy="644.37" r="2.9"/><circle cx="302.16" cy="648.12" r="2.9"/><circle cx="304.65" cy="644.3" r="2.9"/><circle cx="305.77" cy="646.77" r="2.9"/><circle cx="308.2" cy="645.33" r="2.9"/><circle cx="309.32" cy="650.96" r="2.9"/><circle cx="311.22" cy="642.3" r="2.9"/><circle cx="313.41" cy="642.35" r="2.9"/><circle cx="315.23" cy="651.53" r="2.9"/><circle cx="315.18" cy="643.63" r="2.9"/><circle cx="316.82" cy="638.26" r="2.9"/><circle cx="318.72" cy="641.36" r="2.9"/><circle cx="320.28" cy="636.59" r="2.9"/><circle cx="322.31" cy="643.61" r="2.9"/><circle cx="320.94" cy="653.38" r="2.9"/><circle cx="322.45" cy="656.56" r="2.9"/><circle cx="324.84" cy="653.15" r="2.9"/><circle cx="326.81" cy="651.01" r="2.9"/><circle cx="328.63" cy="655.54" r="2.9"/><circle cx="330.52" cy="650.4" r="2.9"/><circle cx="332.15" cy="651.5" r="2.9"/><circle cx="332.72" cy="639.3" r="2.9"/><circle cx="334.91" cy="638.16" r="2.9"/><circle cx="336.92" cy="647.87" r="2.9"/><circle cx="339.3" cy="645.9" r="2.9"/><circle cx="340.68" cy="643.71" r="2.9"/><circle cx="343.29" cy="644.61" r="2.9"/><circle cx="345.38" cy="638.56" r="2.9"/><circle cx="347.03" cy="647.2" r="2.9"/><circle cx="349.15" cy="644.56" r="2.9"/><circle cx="366.65" cy="635.82" r="2.9"/><circle cx="369.36" cy="645.87" r="2.9"/><circle cx="371.11" cy="639.31" r="2.9"/><circle cx="376.88" cy="650.57" r="2.9"/><circle cx="378.75" cy="638.63" r="2.9"/><circle cx="380.74" cy="643.36" r="2.9"/><circle cx="382.97" cy="645.9" r="2.9"/><circle cx="384.38" cy="644.31" r="2.9"/><circle cx="386.68" cy="638.46" r="2.9"/><circle cx="388.54" cy="642.5" r="2.9"/><circle cx="390.24" cy="649.06" r="2.9"/><circle cx="392.15" cy="639.37" r="2.9"/><circle cx="393.67" cy="636.26" r="2.9"/><circle cx="397.56" cy="647.36" r="2.9"/><circle cx="400.14" cy="640.6" r="2.9"/><circle cx="401.69" cy="640.82" r="2.9"/><circle cx="403.63" cy="646.57" r="2.9"/><circle cx="405.04" cy="640.67" r="2.9"/><circle cx="407.39" cy="645.84" r="2.9"/><circle cx="409.41" cy="650.17" r="2.9"/><circle cx="411" cy="641.29" r="2.9"/><circle cx="414.12" cy="633.89" r="2.9"/><circle cx="415.42" cy="640.51" r="2.9"/><circle cx="417.64" cy="645.59" r="2.9"/><circle cx="419.49" cy="627.67" r="2.9"/><circle cx="421.27" cy="635.25" r="2.9"/><circle cx="459.25" cy="635.74" r="2.9"/><circle cx="461.18" cy="641.25" r="2.9"/><circle cx="463.23" cy="649.86" r="2.9"/><circle cx="465.08" cy="648.59" r="2.9"/><circle cx="466.91" cy="641.29" r="2.9"/><circle cx="469.34" cy="647.13" r="2.9"/><circle cx="471.15" cy="642.91" r="2.9"/><circle cx="472.79" cy="637.56" r="2.9"/><circle cx="475.03" cy="635.38" r="2.9"/><circle cx="477.07" cy="628.04" r="2.9"/><circle cx="479.29" cy="630.94" r="2.9"/><circle cx="481.08" cy="631.95" r="2.9"/><circle cx="482.77" cy="637.43" r="2.9"/><circle cx="484.59" cy="636.26" r="2.9"/><circle cx="487.04" cy="647.25" r="2.9"/><circle cx="488.79" cy="642.17" r="2.9"/><circle cx="490.2" cy="643.71" r="2.9"/><circle cx="492.8" cy="646.35" r="2.9"/><circle cx="494.25" cy="641.93" r="2.9"/><circle cx="495.98" cy="648.31" r="2.9"/><circle cx="498.06" cy="635.33" r="2.9"/><circle cx="499.83" cy="637.42" r="2.9"/><circle cx="514.73" cy="645.68" r="2.9"/><circle cx="516.76" cy="644.26" r="2.9"/><circle cx="518.53" cy="638.51" r="2.9"/><circle cx="520.25" cy="646.58" r="2.9"/><circle cx="522.08" cy="639.22" r="2.9"/><circle cx="524.25" cy="637.35" r="2.9"/><circle cx="521.1" cy="649.8" r="2.9"/><circle cx="522.76" cy="646.72" r="2.9"/><circle cx="524.62" cy="646.03" r="2.9"/><circle cx="527.08" cy="653.6" r="2.9"/><circle cx="528.97" cy="645.56" r="2.9"/><circle cx="530.95" cy="644.92" r="2.9"/><circle cx="532.31" cy="653.38" r="2.9"/><circle cx="534.06" cy="644.46" r="2.9"/><circle cx="536.13" cy="646.13" r="2.9"/><circle cx="538.54" cy="649.06" r="2.9"/><circle cx="540.47" cy="650.94" r="2.9"/><circle cx="542" cy="653.84" r="2.9"/><circle cx="543.66" cy="645.8" r="2.9"/><circle cx="545.56" cy="644.42" r="2.9"/><circle cx="547.76" cy="648.8" r="2.9"/><circle cx="550.01" cy="637.4" r="2.9"/><circle cx="551.38" cy="646.88" r="2.9"/><circle cx="553.41" cy="643.94" r="2.9"/><circle cx="555.69" cy="642.57" r="2.9"/><circle cx="557.58" cy="640.79" r="2.9"/><circle cx="559.01" cy="645.36" r="2.9"/><circle cx="560.7" cy="644.01" r="2.9"/><circle cx="562.98" cy="640.83" r="2.9"/><circle cx="564.62" cy="647.87" r="2.9"/><circle cx="566.44" cy="643.59" r="2.9"/><circle cx="568.68" cy="641.8" r="2.9"/><circle cx="570.68" cy="638.68" r="2.9"/><circle cx="572.22" cy="640.66" r="2.9"/><circle cx="573.94" cy="649.69" r="2.9"/><circle cx="575.68" cy="642.07" r="2.9"/><circle cx="577.77" cy="643.38" r="2.9"/><circle cx="580.12" cy="644.23" r="2.9"/><circle cx="581.42" cy="647.15" r="2.9"/><circle cx="583.26" cy="644.47" r="2.9"/><circle cx="585.87" cy="650.78" r="2.9"/><circle cx="587.12" cy="641.99" r="2.9"/><circle cx="589.64" cy="644.39" r="2.9"/><circle cx="591" cy="642.6" r="2.9"/><circle cx="593.37" cy="641.9" r="2.9"/><circle cx="595.13" cy="643.95" r="2.9"/><circle cx="597.03" cy="647.4" r="2.9"/><circle cx="598.87" cy="645.81" r="2.9"/><circle cx="597.33" cy="636.71" r="2.9"/><circle cx="598.72" cy="637.38" r="2.9"/><circle cx="600.79" cy="634.63" r="2.9"/><circle cx="603.29" cy="639.14" r="2.9"/><circle cx="605.09" cy="634.81" r="2.9"/><circle cx="601.11" cy="642.29" r="2.9"/><circle cx="602.86" cy="645.62" r="2.9"/><circle cx="604.61" cy="646.39" r="2.9"/><circle cx="606.8" cy="649.86" r="2.9"/><circle cx="608.54" cy="642.89" r="2.9"/><circle cx="610.52" cy="644.13" r="2.9"/><circle cx="612.2" cy="651.67" r="2.9"/><circle cx="613.7" cy="650.8" r="2.9"/><circle cx="615.81" cy="650.94" r="2.9"/><circle cx="617.75" cy="651.76" r="2.9"/><circle cx="619.83" cy="651.13" r="2.9"/><circle cx="621.35" cy="645.72" r="2.9"/><circle cx="623.6" cy="648.07" r="2.9"/><circle cx="625.02" cy="649.29" r="2.9"/><circle cx="627.32" cy="647.89" r="2.9"/><circle cx="628.7" cy="650.49" r="2.9"/><circle cx="630.77" cy="646.48" r="2.9"/><circle cx="632.86" cy="643.06" r="2.9"/><circle cx="634.79" cy="651.72" r="2.9"/><circle cx="636.28" cy="646.79" r="2.9"/><circle cx="638.53" cy="646.15" r="2.9"/><circle cx="640.1" cy="642.57" r="2.9"/><circle cx="642.19" cy="643.09" r="2.9"/><circle cx="643.73" cy="642.25" r="2.9"/><circle cx="132.7" cy="612" r="2.9"/><circle cx="134.9" cy="609.4" r="2.9"/><circle cx="121.4" cy="631" r="2.9"/><circle cx="131.5" cy="633" r="2.9"/><circle cx="186" cy="636" r="2.9"/><circle cx="193" cy="666.6" r="2.9"/><circle cx="307.5" cy="648" r="2.9"/><circle cx="317" cy="637" r="2.9"/><circle cx="338" cy="645" r="2.9"/><circle cx="368" cy="640" r="2.9"/><circle cx="374.9" cy="599.2" r="2.9"/><circle cx="381.7" cy="642" r="2.9"/><circle cx="416" cy="625" r="2.9"/><circle cx="419" cy="632" r="2.9"/><circle cx="460" cy="627" r="2.9"/><circle cx="472" cy="635" r="2.9"/><circle cx="476" cy="636" r="2.9"/><circle cx="480" cy="634" r="2.9"/><circle cx="494.8" cy="640" r="2.9"/><circle cx="545.5" cy="643" r="2.9"/><circle cx="599" cy="628.6" r="2.9"/><circle cx="644" cy="627" r="2.9"/><circle cx="66.88" cy="777.69" r="2.9"/><circle cx="68.37" cy="781.33" r="2.9"/><circle cx="70.39" cy="780.23" r="2.9"/><circle cx="71.77" cy="781.64" r="2.9"/><circle cx="77.87" cy="795.18" r="2.9"/><circle cx="80.04" cy="796.32" r="2.9"/><circle cx="82.04" cy="792.54" r="2.9"/><circle cx="84.03" cy="795.75" r="2.9"/><circle cx="86" cy="794.86" r="2.9"/><circle cx="88.37" cy="792.09" r="2.9"/><circle cx="90.16" cy="796.64" r="2.9"/><circle cx="92.33" cy="795.43" r="2.9"/><circle cx="94.19" cy="789.91" r="2.9"/><circle cx="95.63" cy="788.3" r="2.9"/><circle cx="97.62" cy="780.05" r="2.9"/><circle cx="100.07" cy="782.2" r="2.9"/><circle cx="102" cy="789.2" r="2.9"/><circle cx="103.96" cy="781.85" r="2.9"/><circle cx="105.77" cy="788.38" r="2.9"/><circle cx="107.78" cy="781.89" r="2.9"/><circle cx="109.81" cy="780.33" r="2.9"/><circle cx="111.76" cy="778.86" r="2.9"/><circle cx="113.84" cy="782.97" r="2.9"/><circle cx="116.16" cy="782.31" r="2.9"/><circle cx="117.76" cy="784.19" r="2.9"/><circle cx="120.18" cy="776.95" r="2.9"/><circle cx="121.74" cy="781.56" r="2.9"/><circle cx="123.86" cy="776.88" r="2.9"/><circle cx="125.86" cy="781.94" r="2.9"/><circle cx="127.36" cy="782.95" r="2.9"/><circle cx="129.36" cy="777.71" r="2.9"/><circle cx="130.95" cy="778.98" r="2.9"/><circle cx="133.4" cy="777.69" r="2.9"/><circle cx="134.57" cy="785.08" r="2.9"/><circle cx="136.74" cy="789.19" r="2.9"/><circle cx="138.62" cy="789.03" r="2.9"/><circle cx="139.91" cy="788.23" r="2.9"/><circle cx="142.2" cy="785.84" r="2.9"/><circle cx="143.64" cy="790.44" r="2.9"/><circle cx="146.03" cy="790.14" r="2.9"/><circle cx="147.62" cy="788.28" r="2.9"/><circle cx="149.59" cy="784.03" r="2.9"/><circle cx="150.94" cy="790.29" r="2.9"/><circle cx="152.67" cy="776.94" r="2.9"/><circle cx="155.28" cy="783.74" r="2.9"/><circle cx="156.62" cy="778.48" r="2.9"/><circle cx="158.97" cy="780.56" r="2.9"/><circle cx="160.79" cy="785.96" r="2.9"/><circle cx="162.64" cy="785.68" r="2.9"/><circle cx="165.03" cy="783.71" r="2.9"/><circle cx="167.28" cy="787" r="2.9"/><circle cx="168.88" cy="789.18" r="2.9"/><circle cx="170.78" cy="792.81" r="2.9"/><circle cx="172.58" cy="792.14" r="2.9"/><circle cx="174.21" cy="788.26" r="2.9"/><circle cx="175.8" cy="786.23" r="2.9"/><circle cx="177.69" cy="784.72" r="2.9"/><circle cx="179.5" cy="787.04" r="2.9"/><circle cx="181.84" cy="788.07" r="2.9"/><circle cx="183.2" cy="780.54" r="2.9"/><circle cx="185.43" cy="788.59" r="2.9"/><circle cx="186.87" cy="783.65" r="2.9"/><circle cx="188.75" cy="786.53" r="2.9"/><circle cx="190.75" cy="781.32" r="2.9"/><circle cx="192.74" cy="784.45" r="2.9"/><circle cx="194.58" cy="782.93" r="2.9"/><circle cx="196.95" cy="787.53" r="2.9"/><circle cx="198.43" cy="788.22" r="2.9"/><circle cx="200.52" cy="783.19" r="2.9"/><circle cx="202.81" cy="782.09" r="2.9"/><circle cx="204.25" cy="780.1" r="2.9"/><circle cx="206.17" cy="779.53" r="2.9"/><circle cx="208.49" cy="781.76" r="2.9"/><circle cx="209.97" cy="781.39" r="2.9"/><circle cx="212.31" cy="780.74" r="2.9"/><circle cx="214.39" cy="779.86" r="2.9"/><circle cx="215.75" cy="786.92" r="2.9"/><circle cx="218.36" cy="782.65" r="2.9"/><circle cx="219.96" cy="784.41" r="2.9"/><circle cx="222.3" cy="783.69" r="2.9"/><circle cx="223.84" cy="780.29" r="2.9"/><circle cx="225.67" cy="777.69" r="2.9"/><circle cx="228.16" cy="779.1" r="2.9"/><circle cx="229.81" cy="792.06" r="2.9"/><circle cx="232.11" cy="791.23" r="2.9"/><circle cx="234.26" cy="791.63" r="2.9"/><circle cx="236" cy="793.67" r="2.9"/><circle cx="238.21" cy="794.71" r="2.9"/><circle cx="240.13" cy="789.85" r="2.9"/><circle cx="241.66" cy="791.83" r="2.9"/><circle cx="243.68" cy="792.35" r="2.9"/><circle cx="251.13" cy="779.26" r="2.9"/><circle cx="252.69" cy="782.57" r="2.9"/><circle cx="268.29" cy="781.53" r="2.9"/><circle cx="269.79" cy="787.66" r="2.9"/><circle cx="271.58" cy="783.72" r="2.9"/><circle cx="273.7" cy="778.14" r="2.9"/><circle cx="275.24" cy="779.63" r="2.9"/><circle cx="276.94" cy="781.5" r="2.9"/><circle cx="279.28" cy="785.46" r="2.9"/><circle cx="281.2" cy="784.91" r="2.9"/><circle cx="282.6" cy="790" r="2.9"/><circle cx="284.98" cy="784.93" r="2.9"/><circle cx="286.71" cy="779.5" r="2.9"/><circle cx="288.77" cy="785.94" r="2.9"/><circle cx="290.59" cy="781.88" r="2.9"/><circle cx="292.04" cy="781.85" r="2.9"/><circle cx="293.94" cy="780.21" r="2.9"/><circle cx="296.25" cy="782.98" r="2.9"/><circle cx="297.68" cy="779.01" r="2.9"/><circle cx="299.92" cy="786.14" r="2.9"/><circle cx="301.53" cy="787.11" r="2.9"/><circle cx="303.37" cy="783.77" r="2.9"/><circle cx="305.33" cy="787.1" r="2.9"/><circle cx="307.23" cy="783.98" r="2.9"/><circle cx="309.42" cy="787.84" r="2.9"/><circle cx="323.39" cy="791.63" r="2.9"/><circle cx="324.9" cy="793.43" r="2.9"/><circle cx="327.03" cy="792.07" r="2.9"/><circle cx="330.59" cy="775.59" r="2.9"/><circle cx="332.95" cy="783.83" r="2.9"/><circle cx="334.51" cy="783.69" r="2.9"/><circle cx="336.78" cy="782.81" r="2.9"/><circle cx="338.36" cy="780.93" r="2.9"/><circle cx="340.76" cy="782.41" r="2.9"/><circle cx="342.53" cy="780.73" r="2.9"/><circle cx="344.54" cy="780.4" r="2.9"/><circle cx="346.08" cy="779.37" r="2.9"/><circle cx="348.19" cy="782.21" r="2.9"/><circle cx="367.11" cy="779.75" r="2.9"/><circle cx="368.83" cy="778.87" r="2.9"/><circle cx="370.25" cy="772.25" r="2.9"/><circle cx="372.24" cy="772.4" r="2.9"/><circle cx="374.09" cy="781.54" r="2.9"/><circle cx="376.25" cy="773.22" r="2.9"/><circle cx="379.98" cy="770.23" r="2.9"/><circle cx="382.14" cy="765.87" r="2.9"/><circle cx="383.32" cy="773.86" r="2.9"/><circle cx="385.18" cy="775.63" r="2.9"/><circle cx="386.9" cy="766.5" r="2.9"/><circle cx="388.94" cy="768.66" r="2.9"/><circle cx="395.68" cy="781.13" r="2.9"/><circle cx="398.26" cy="781.22" r="2.9"/><circle cx="399.75" cy="784.26" r="2.9"/><circle cx="401.71" cy="782.55" r="2.9"/><circle cx="404.03" cy="781.21" r="2.9"/><circle cx="405.76" cy="785.1" r="2.9"/><circle cx="411.15" cy="785.94" r="2.9"/><circle cx="413.39" cy="783.66" r="2.9"/><circle cx="414.79" cy="785.24" r="2.9"/><circle cx="416.68" cy="786.54" r="2.9"/><circle cx="461.57" cy="780.08" r="2.9"/><circle cx="464.18" cy="780.22" r="2.9"/><circle cx="466.01" cy="776.86" r="2.9"/><circle cx="467.51" cy="780.84" r="2.9"/><circle cx="469.55" cy="783.15" r="2.9"/><circle cx="471.67" cy="776.09" r="2.9"/><circle cx="472.76" cy="775.6" r="2.9"/><circle cx="475.14" cy="782.97" r="2.9"/><circle cx="477.17" cy="779.92" r="2.9"/><circle cx="479.04" cy="775.92" r="2.9"/><circle cx="480.83" cy="777.32" r="2.9"/><circle cx="482.1" cy="780.77" r="2.9"/><circle cx="484.47" cy="778.66" r="2.9"/><circle cx="486.17" cy="782.85" r="2.9"/><circle cx="488.28" cy="778.1" r="2.9"/><circle cx="489.78" cy="776.67" r="2.9"/><circle cx="491.56" cy="775.45" r="2.9"/><circle cx="493.76" cy="781.41" r="2.9"/><circle cx="495.51" cy="780.69" r="2.9"/><circle cx="497.72" cy="778.44" r="2.9"/><circle cx="499" cy="781.87" r="2.9"/><circle cx="501.1" cy="780.73" r="2.9"/><circle cx="502.95" cy="779.02" r="2.9"/><circle cx="515.74" cy="785.04" r="2.9"/><circle cx="518.1" cy="779.83" r="2.9"/><circle cx="519.31" cy="780.34" r="2.9"/><circle cx="521.89" cy="780.06" r="2.9"/><circle cx="523.09" cy="779.25" r="2.9"/><circle cx="525.1" cy="778.92" r="2.9"/><circle cx="526.89" cy="786" r="2.9"/><circle cx="528.87" cy="782.42" r="2.9"/><circle cx="531.16" cy="783.11" r="2.9"/><circle cx="533.13" cy="777.53" r="2.9"/><circle cx="535.07" cy="785.6" r="2.9"/><circle cx="536.92" cy="778.74" r="2.9"/><circle cx="538.19" cy="781.19" r="2.9"/><circle cx="540.48" cy="783.47" r="2.9"/><circle cx="542.24" cy="783.67" r="2.9"/><circle cx="544.13" cy="785.57" r="2.9"/><circle cx="545.72" cy="774.25" r="2.9"/><circle cx="547.45" cy="774.68" r="2.9"/><circle cx="549.85" cy="779.96" r="2.9"/><circle cx="551.27" cy="782.04" r="2.9"/><circle cx="553.31" cy="781.53" r="2.9"/><circle cx="555.37" cy="779.96" r="2.9"/><circle cx="557.64" cy="774.06" r="2.9"/><circle cx="559.16" cy="777.21" r="2.9"/><circle cx="560.99" cy="773.05" r="2.9"/><circle cx="563.25" cy="784.05" r="2.9"/><circle cx="565.11" cy="783.47" r="2.9"/><circle cx="566.96" cy="783.96" r="2.9"/><circle cx="568.6" cy="778.38" r="2.9"/><circle cx="570.62" cy="775.92" r="2.9"/><circle cx="572.98" cy="777.78" r="2.9"/><circle cx="574.71" cy="785.14" r="2.9"/><circle cx="575.8" cy="769.8" r="2.9"/><circle cx="578.13" cy="781.22" r="2.9"/><circle cx="579.49" cy="778.89" r="2.9"/><circle cx="581.51" cy="774.7" r="2.9"/><circle cx="583.46" cy="771.7" r="2.9"/><circle cx="585.8" cy="774.24" r="2.9"/><circle cx="587.26" cy="771.81" r="2.9"/><circle cx="589.08" cy="775.77" r="2.9"/><circle cx="591.28" cy="780.66" r="2.9"/><circle cx="593.38" cy="773.07" r="2.9"/><circle cx="595.32" cy="783.17" r="2.9"/><circle cx="596.76" cy="774.96" r="2.9"/><circle cx="598.96" cy="773.32" r="2.9"/><circle cx="600.63" cy="782.13" r="2.9"/><circle cx="603.02" cy="781.64" r="2.9"/><circle cx="604.49" cy="781.46" r="2.9"/><circle cx="606.71" cy="782.89" r="2.9"/><circle cx="608.76" cy="785.3" r="2.9"/><circle cx="610.23" cy="782.77" r="2.9"/><circle cx="612.5" cy="780.19" r="2.9"/><circle cx="614.09" cy="782.79" r="2.9"/><circle cx="616.13" cy="784.43" r="2.9"/><circle cx="618.01" cy="785.57" r="2.9"/><circle cx="619.47" cy="779.39" r="2.9"/><circle cx="621.46" cy="784.76" r="2.9"/><circle cx="623.5" cy="780.85" r="2.9"/><circle cx="625.09" cy="781.35" r="2.9"/><circle cx="627.24" cy="779.26" r="2.9"/><circle cx="628.84" cy="785.19" r="2.9"/><circle cx="630.87" cy="783.14" r="2.9"/><circle cx="632.53" cy="786.94" r="2.9"/><circle cx="634.38" cy="782.34" r="2.9"/><circle cx="636.28" cy="784.51" r="2.9"/><circle cx="638.54" cy="780.98" r="2.9"/><circle cx="640.33" cy="781.3" r="2.9"/><circle cx="642.01" cy="786.05" r="2.9"/><circle cx="644.11" cy="782.06" r="2.9"/><circle cx="79.4" cy="784" r="2.9"/><circle cx="121" cy="776" r="2.9"/><circle cx="130.5" cy="766" r="2.9"/><circle cx="172" cy="789" r="2.9"/><circle cx="192.5" cy="802" r="2.9"/><circle cx="221" cy="767" r="2.9"/><circle cx="246.8" cy="772" r="2.9"/><circle cx="250" cy="765" r="2.9"/><circle cx="308" cy="763.7" r="2.9"/><circle cx="318" cy="766" r="2.9"/><circle cx="381.7" cy="772" r="2.9"/><circle cx="397.5" cy="784" r="2.9"/><circle cx="414.7" cy="766.4" r="2.9"/><circle cx="479" cy="777" r="2.9"/><circle cx="491" cy="765" r="2.9"/><circle cx="522" cy="772" r="2.9"/><circle cx="518" cy="775" r="2.9"/><circle cx="599" cy="763.7" r="2.9"/><circle cx="644" cy="732" r="2.9"/><circle cx="66.66" cy="922.63" r="2.9"/><circle cx="68.32" cy="920.49" r="2.9"/><circle cx="70.35" cy="921.54" r="2.9"/><circle cx="72.07" cy="921.37" r="2.9"/><circle cx="77.91" cy="937.7" r="2.9"/><circle cx="80.06" cy="933.55" r="2.9"/><circle cx="81.42" cy="933.17" r="2.9"/><circle cx="83.12" cy="934.98" r="2.9"/><circle cx="85.01" cy="937.34" r="2.9"/><circle cx="86.48" cy="931.06" r="2.9"/><circle cx="88.87" cy="927.93" r="2.9"/><circle cx="90.05" cy="931.54" r="2.9"/><circle cx="91.87" cy="928.03" r="2.9"/><circle cx="93.65" cy="920.85" r="2.9"/><circle cx="95.8" cy="921.89" r="2.9"/><circle cx="97.91" cy="926.42" r="2.9"/><circle cx="99.68" cy="920.55" r="2.9"/><circle cx="101.37" cy="921.47" r="2.9"/><circle cx="103.33" cy="924.2" r="2.9"/><circle cx="105.82" cy="928.61" r="2.9"/><circle cx="107.51" cy="922.44" r="2.9"/><circle cx="109.29" cy="920.62" r="2.9"/><circle cx="111.09" cy="922.03" r="2.9"/><circle cx="112.82" cy="927.86" r="2.9"/><circle cx="115.14" cy="928.15" r="2.9"/><circle cx="116.73" cy="926.64" r="2.9"/><circle cx="118.81" cy="916.41" r="2.9"/><circle cx="120.66" cy="915.85" r="2.9"/><circle cx="122.73" cy="918.68" r="2.9"/><circle cx="125.09" cy="920.45" r="2.9"/><circle cx="134.79" cy="922.32" r="2.9"/><circle cx="136.87" cy="925.25" r="2.9"/><circle cx="138.7" cy="931.33" r="2.9"/><circle cx="140.65" cy="931.39" r="2.9"/><circle cx="142.43" cy="926.36" r="2.9"/><circle cx="144.64" cy="928.36" r="2.9"/><circle cx="146" cy="922.74" r="2.9"/><circle cx="148.51" cy="929.29" r="2.9"/><circle cx="150.15" cy="926.79" r="2.9"/><circle cx="152.15" cy="924.05" r="2.9"/><circle cx="153.39" cy="928.44" r="2.9"/><circle cx="155.26" cy="921.2" r="2.9"/><circle cx="157.42" cy="930.41" r="2.9"/><circle cx="159.26" cy="926.7" r="2.9"/><circle cx="161.63" cy="923.01" r="2.9"/><circle cx="162.81" cy="932.94" r="2.9"/><circle cx="164.71" cy="922.42" r="2.9"/><circle cx="166.9" cy="928.07" r="2.9"/><circle cx="168.46" cy="924.06" r="2.9"/><circle cx="170.72" cy="928.74" r="2.9"/><circle cx="172.91" cy="921.37" r="2.9"/><circle cx="174.27" cy="928.21" r="2.9"/><circle cx="176.11" cy="924.94" r="2.9"/><circle cx="178.48" cy="925.96" r="2.9"/><circle cx="179.74" cy="925.01" r="2.9"/><circle cx="182.07" cy="928.87" r="2.9"/><circle cx="183.59" cy="927.27" r="2.9"/><circle cx="185.9" cy="920.94" r="2.9"/><circle cx="187.99" cy="927.51" r="2.9"/><circle cx="189.23" cy="925.69" r="2.9"/><circle cx="191.16" cy="926.78" r="2.9"/><circle cx="193.3" cy="925.25" r="2.9"/><circle cx="195.14" cy="925.11" r="2.9"/><circle cx="197.25" cy="924.24" r="2.9"/><circle cx="198.96" cy="929.82" r="2.9"/><circle cx="200.57" cy="922.29" r="2.9"/><circle cx="202.66" cy="925.77" r="2.9"/><circle cx="204.38" cy="921.58" r="2.9"/><circle cx="206.79" cy="926.15" r="2.9"/><circle cx="208.54" cy="922.71" r="2.9"/><circle cx="210.02" cy="923.48" r="2.9"/><circle cx="211.75" cy="925.6" r="2.9"/><circle cx="214.33" cy="921.5" r="2.9"/><circle cx="215.51" cy="930.71" r="2.9"/><circle cx="217.73" cy="927.21" r="2.9"/><circle cx="219.85" cy="930.53" r="2.9"/><circle cx="221.28" cy="921.83" r="2.9"/><circle cx="223.42" cy="926.63" r="2.9"/><circle cx="225.34" cy="923.84" r="2.9"/><circle cx="226.89" cy="927.81" r="2.9"/><circle cx="228.82" cy="926.98" r="2.9"/><circle cx="236.65" cy="924.7" r="2.9"/><circle cx="238.74" cy="926.92" r="2.9"/><circle cx="241.3" cy="922.99" r="2.9"/><circle cx="243.04" cy="926.84" r="2.9"/><circle cx="245.28" cy="925.06" r="2.9"/><circle cx="247.15" cy="924.28" r="2.9"/><circle cx="249.26" cy="926.96" r="2.9"/><circle cx="251.24" cy="920.8" r="2.9"/><circle cx="252.49" cy="931.79" r="2.9"/><circle cx="254.22" cy="931.23" r="2.9"/><circle cx="256.61" cy="931.01" r="2.9"/><circle cx="257.86" cy="925.98" r="2.9"/><circle cx="260.3" cy="923.59" r="2.9"/><circle cx="261.57" cy="930.95" r="2.9"/><circle cx="263.46" cy="927.59" r="2.9"/><circle cx="265.3" cy="928.65" r="2.9"/><circle cx="266.95" cy="931.5" r="2.9"/><circle cx="269.1" cy="921.12" r="2.9"/><circle cx="270.67" cy="926.3" r="2.9"/><circle cx="272.44" cy="929.38" r="2.9"/><circle cx="274.43" cy="923.21" r="2.9"/><circle cx="276.75" cy="922.03" r="2.9"/><circle cx="278.25" cy="920.99" r="2.9"/><circle cx="280.09" cy="919.69" r="2.9"/><circle cx="282.39" cy="925.98" r="2.9"/><circle cx="284.2" cy="927.09" r="2.9"/><circle cx="285.58" cy="923.68" r="2.9"/><circle cx="288.2" cy="920.46" r="2.9"/><circle cx="289.8" cy="930.34" r="2.9"/><circle cx="291.64" cy="923.15" r="2.9"/><circle cx="293.13" cy="927.74" r="2.9"/><circle cx="295.5" cy="929.82" r="2.9"/><circle cx="297.56" cy="924.21" r="2.9"/><circle cx="298.87" cy="930.26" r="2.9"/><circle cx="301.25" cy="928.14" r="2.9"/><circle cx="303.03" cy="923.91" r="2.9"/><circle cx="304.4" cy="919.46" r="2.9"/><circle cx="306.38" cy="918.34" r="2.9"/><circle cx="308.48" cy="924.89" r="2.9"/><circle cx="309.97" cy="926.12" r="2.9"/><circle cx="311.74" cy="925.68" r="2.9"/><circle cx="313.5" cy="926.33" r="2.9"/><circle cx="315.25" cy="924.65" r="2.9"/><circle cx="317.15" cy="919.83" r="2.9"/><circle cx="318.84" cy="934.05" r="2.9"/><circle cx="320.91" cy="932.25" r="2.9"/><circle cx="322.75" cy="936.81" r="2.9"/><circle cx="324.66" cy="932.56" r="2.9"/><circle cx="327.24" cy="935.88" r="2.9"/><circle cx="329.29" cy="932.29" r="2.9"/><circle cx="330.67" cy="928.02" r="2.9"/><circle cx="333.1" cy="917.38" r="2.9"/><circle cx="334.37" cy="927.3" r="2.9"/><circle cx="336.43" cy="926.46" r="2.9"/><circle cx="338.35" cy="923.12" r="2.9"/><circle cx="340.34" cy="918.87" r="2.9"/><circle cx="341.77" cy="921.63" r="2.9"/><circle cx="343.95" cy="915.79" r="2.9"/><circle cx="345.56" cy="918.39" r="2.9"/><circle cx="347.28" cy="915.48" r="2.9"/><circle cx="349.01" cy="923.41" r="2.9"/><circle cx="366.64" cy="920.31" r="2.9"/><circle cx="368.51" cy="922.88" r="2.9"/><circle cx="370.83" cy="923.9" r="2.9"/><circle cx="372.4" cy="928.3" r="2.9"/><circle cx="374.6" cy="923.29" r="2.9"/><circle cx="376.69" cy="927.8" r="2.9"/><circle cx="378.59" cy="927.42" r="2.9"/><circle cx="380.23" cy="922.92" r="2.9"/><circle cx="382.69" cy="920.76" r="2.9"/><circle cx="384.59" cy="927.26" r="2.9"/><circle cx="386.34" cy="927.31" r="2.9"/><circle cx="388.54" cy="927.58" r="2.9"/><circle cx="389.95" cy="920.89" r="2.9"/><circle cx="392.49" cy="923.75" r="2.9"/><circle cx="393.85" cy="922.37" r="2.9"/><circle cx="397.7" cy="919.76" r="2.9"/><circle cx="400.03" cy="913.78" r="2.9"/><circle cx="402.13" cy="909.48" r="2.9"/><circle cx="403.76" cy="916.49" r="2.9"/><circle cx="405.83" cy="913.24" r="2.9"/><circle cx="413.84" cy="921.49" r="2.9"/><circle cx="415.68" cy="921.67" r="2.9"/><circle cx="418.31" cy="918.61" r="2.9"/><circle cx="419.83" cy="920.28" r="2.9"/><circle cx="421.8" cy="919.84" r="2.9"/><circle cx="424.26" cy="918.17" r="2.9"/><circle cx="461.05" cy="926.45" r="2.9"/><circle cx="462.47" cy="921.43" r="2.9"/><circle cx="464.48" cy="922.54" r="2.9"/><circle cx="466.95" cy="921.05" r="2.9"/><circle cx="468.44" cy="919.54" r="2.9"/><circle cx="470.03" cy="921.92" r="2.9"/><circle cx="472.18" cy="915.98" r="2.9"/><circle cx="473.79" cy="925.22" r="2.9"/><circle cx="475.99" cy="918.42" r="2.9"/><circle cx="477.67" cy="915.57" r="2.9"/><circle cx="479.53" cy="923.32" r="2.9"/><circle cx="481.76" cy="922.53" r="2.9"/><circle cx="483.64" cy="919.76" r="2.9"/><circle cx="485.46" cy="917.26" r="2.9"/><circle cx="487.51" cy="926.61" r="2.9"/><circle cx="488.76" cy="923.17" r="2.9"/><circle cx="490.76" cy="924.47" r="2.9"/><circle cx="493.05" cy="917.78" r="2.9"/><circle cx="494.46" cy="916.08" r="2.9"/><circle cx="496.46" cy="921.98" r="2.9"/><circle cx="498.14" cy="925.89" r="2.9"/><circle cx="500.34" cy="924.65" r="2.9"/><circle cx="502.17" cy="915.17" r="2.9"/><circle cx="504.3" cy="916.45" r="2.9"/><circle cx="515.93" cy="921.29" r="2.9"/><circle cx="518.19" cy="913.48" r="2.9"/><circle cx="519.77" cy="919.66" r="2.9"/><circle cx="521.58" cy="914.4" r="2.9"/><circle cx="523.64" cy="918.09" r="2.9"/><circle cx="525.09" cy="918.35" r="2.9"/><circle cx="527.09" cy="910.7" r="2.9"/><circle cx="529.31" cy="914.74" r="2.9"/><circle cx="530.74" cy="925.17" r="2.9"/><circle cx="532.96" cy="924.14" r="2.9"/><circle cx="534.75" cy="918.82" r="2.9"/><circle cx="536.56" cy="916.71" r="2.9"/><circle cx="538.45" cy="922.78" r="2.9"/><circle cx="540.91" cy="924.18" r="2.9"/><circle cx="542.55" cy="926.57" r="2.9"/><circle cx="544.27" cy="922.24" r="2.9"/><circle cx="546.41" cy="920.98" r="2.9"/><circle cx="547.84" cy="926.79" r="2.9"/><circle cx="550.27" cy="922.26" r="2.9"/><circle cx="552.34" cy="924.65" r="2.9"/><circle cx="553.73" cy="924.11" r="2.9"/><circle cx="555.66" cy="926.84" r="2.9"/><circle cx="557.86" cy="926" r="2.9"/><circle cx="559.61" cy="923.56" r="2.9"/><circle cx="561.62" cy="919.64" r="2.9"/><circle cx="563.66" cy="919.39" r="2.9"/><circle cx="565.25" cy="926.68" r="2.9"/><circle cx="567.7" cy="922.69" r="2.9"/><circle cx="569.48" cy="922.36" r="2.9"/><circle cx="570.79" cy="918.91" r="2.9"/><circle cx="573.28" cy="924.24" r="2.9"/><circle cx="575.25" cy="918.09" r="2.9"/><circle cx="576.5" cy="926.23" r="2.9"/><circle cx="578.97" cy="927.36" r="2.9"/><circle cx="581.07" cy="917.7" r="2.9"/><circle cx="582.88" cy="926.65" r="2.9"/><circle cx="584.51" cy="919.44" r="2.9"/><circle cx="586.26" cy="918.68" r="2.9"/><circle cx="588.32" cy="919.52" r="2.9"/><circle cx="590.15" cy="917.99" r="2.9"/><circle cx="592.22" cy="922.16" r="2.9"/><circle cx="593.91" cy="924.49" r="2.9"/><circle cx="595.68" cy="926.56" r="2.9"/><circle cx="597.52" cy="922.93" r="2.9"/><circle cx="600.1" cy="926.21" r="2.9"/><circle cx="601.49" cy="926.61" r="2.9"/><circle cx="603.99" cy="919.96" r="2.9"/><circle cx="605.37" cy="925.4" r="2.9"/><circle cx="607.56" cy="928.49" r="2.9"/><circle cx="609.41" cy="926.06" r="2.9"/><circle cx="611.21" cy="925.72" r="2.9"/><circle cx="613.19" cy="923.4" r="2.9"/><circle cx="615" cy="922.57" r="2.9"/><circle cx="617.1" cy="927.95" r="2.9"/><circle cx="618.98" cy="928.69" r="2.9"/><circle cx="620.57" cy="924.36" r="2.9"/><circle cx="622.62" cy="924.49" r="2.9"/><circle cx="625.09" cy="926.5" r="2.9"/><circle cx="626.64" cy="927.08" r="2.9"/><circle cx="628.27" cy="927.64" r="2.9"/><circle cx="630.48" cy="928.07" r="2.9"/><circle cx="632.61" cy="920.72" r="2.9"/><circle cx="634.04" cy="921.2" r="2.9"/><circle cx="636.5" cy="921.93" r="2.9"/><circle cx="638.44" cy="927.52" r="2.9"/><circle cx="640.24" cy="926.07" r="2.9"/><circle cx="641.86" cy="923.51" r="2.9"/><circle cx="643.99" cy="925.17" r="2.9"/><circle cx="121" cy="907.7" r="2.9"/><circle cx="129.2" cy="905" r="2.9"/><circle cx="132.8" cy="897.8" r="2.9"/><circle cx="126" cy="910" r="2.9"/><circle cx="232.4" cy="918" r="2.9"/><circle cx="246" cy="912" r="2.9"/><circle cx="251" cy="908" r="2.9"/><circle cx="271.7" cy="906.8" r="2.9"/><circle cx="305" cy="911" r="2.9"/><circle cx="317" cy="922" r="2.9"/><circle cx="337" cy="937.1" r="2.9"/><circle cx="416.5" cy="913.6" r="2.9"/><circle cx="460.5" cy="915" r="2.9"/><circle cx="490.3" cy="918" r="2.9"/><circle cx="592" cy="906.8" r="2.9"/><circle cx="599" cy="905.5" r="2.9"/><circle cx="644" cy="889.6" r="2.9"/></g>
<circle cx="647.7" cy="665.7" r="3" fill="#3a0000" stroke="#c00" stroke-width="0.8"/>
<circle cx="647.7" cy="805" r="3" fill="#3a0000" stroke="#c00" stroke-width="0.8"/>
<circle cx="647.7" cy="943.9" r="3" fill="#3a0000" stroke="#c00" stroke-width="0.8"/>
<rect x="170.4" y="548.8" width="65" height="23.6" fill="#fff" stroke="#333" stroke-width="1.2" rx="3"/>
<text x="202.9" y="564.7" font-size="11.4" text-anchor="middle" fill="#1a1a1a">Unbound</text>
<rect x="170" y="689" width="65.5" height="24" fill="#fff" stroke="#333" stroke-width="1.2" rx="3"/>
<text x="202.75" y="705.1" font-size="11.4" text-anchor="middle" fill="#1a1a1a">PDA bound</text>
<rect x="170" y="828.5" width="104" height="22.5" fill="#fff" stroke="#333" stroke-width="1.2" rx="3"/>
<text x="222" y="843.85" font-size="11.4" text-anchor="middle" fill="#1a1a1a">Ponatinib bound</text>
<rect x="528" y="546.4" width="78.4" height="42.3" fill="#fff" stroke="#333" stroke-width="1.2" rx="3"/>
<circle cx="546.1" cy="556.1" r="2.9" fill="none" stroke="#2a2ae6" stroke-width="1.1"/>
<circle cx="546.1" cy="567.8" r="3.3" fill="#000" stroke="none" stroke-width="1"/>
<circle cx="546.1" cy="579.3" r="2.9" fill="none" stroke="#e01418" stroke-width="1.1"/>
<text x="561" y="559.7" font-size="10" text-anchor="start" fill="#1a1a1a">950 MHz</text>
<text x="561" y="571.4" font-size="10" text-anchor="start" fill="#1a1a1a">800 MHz</text>
<text x="561" y="582.9" font-size="10" text-anchor="start" fill="#1a1a1a">600 MHz</text>
<rect x="52.2" y="533" width="605.8" height="417.1" fill="none" stroke="#000" stroke-width="2.5"/>
<text x="0.3" y="486.26" font-size="16" text-anchor="start" fill="#000" font-weight="bold">b</text>
<text x="1.5" y="500.1" font-size="11.4" text-anchor="start" fill="#1a1a1a">Sec. structure</text>
<text x="1.5" y="514.1" font-size="11.4" text-anchor="start" fill="#1a1a1a">(apo: 1FGK.pdb)</text>
<rect x="107.7" y="504" width="16.8" height="11.6" fill="#1a1a1a" stroke="none" stroke-width="1"/>
<rect x="130" y="504" width="17" height="11.6" fill="#1a1a1a" stroke="none" stroke-width="1"/>
<rect x="164" y="504" width="16.6" height="11.6" fill="#1a1a1a" stroke="none" stroke-width="1"/>
<rect x="190.3" y="504.5" width="31.4" height="10.6" fill="#fff" stroke="#777" stroke-width="1"/>
<rect x="237.3" y="504" width="9" height="11.6" fill="#1a1a1a" stroke="none" stroke-width="1"/>
<rect x="258.2" y="504" width="9.1" height="11.6" fill="#1a1a1a" stroke="none" stroke-width="1"/>
<rect x="279" y="504.5" width="10" height="10.6" fill="#fff" stroke="#777" stroke-width="1"/>
<rect x="331.6" y="504.5" width="36.4" height="10.6" fill="#fff" stroke="#777" stroke-width="1"/>
<rect x="391.2" y="504" width="5.1" height="11.6" fill="#1a1a1a" stroke="none" stroke-width="1"/>
<rect x="406.2" y="504" width="5.5" height="11.6" fill="#1a1a1a" stroke="none" stroke-width="1"/>
<rect x="466.7" y="504.5" width="10.5" height="10.6" fill="#fff" stroke="#777" stroke-width="1"/>
<rect x="485.7" y="504.5" width="28.7" height="10.6" fill="#fff" stroke="#777" stroke-width="1"/>
<rect x="535.8" y="504.5" width="16.4" height="10.6" fill="#fff" stroke="#777" stroke-width="1"/>
<rect x="575.3" y="504.5" width="18.2" height="10.6" fill="#fff" stroke="#777" stroke-width="1"/>
<rect x="612.9" y="504.5" width="26.2" height="10.6" fill="#fff" stroke="#777" stroke-width="1"/>
<text x="130.6" y="496.1" font-size="11.4" text-anchor="middle" fill="#1a1a1a">P-loop</text>
<text x="206.3" y="496.1" font-size="11.4" text-anchor="middle" fill="#1a1a1a">C-helix</text>
<text x="271.2" y="496.1" font-size="11.4" text-anchor="middle" fill="#1a1a1a">Hinge</text>
<text x="440.9" y="496.8" font-size="11.4" text-anchor="middle" fill="#1a1a1a">Activation loop</text>
</svg>
</body></html>
